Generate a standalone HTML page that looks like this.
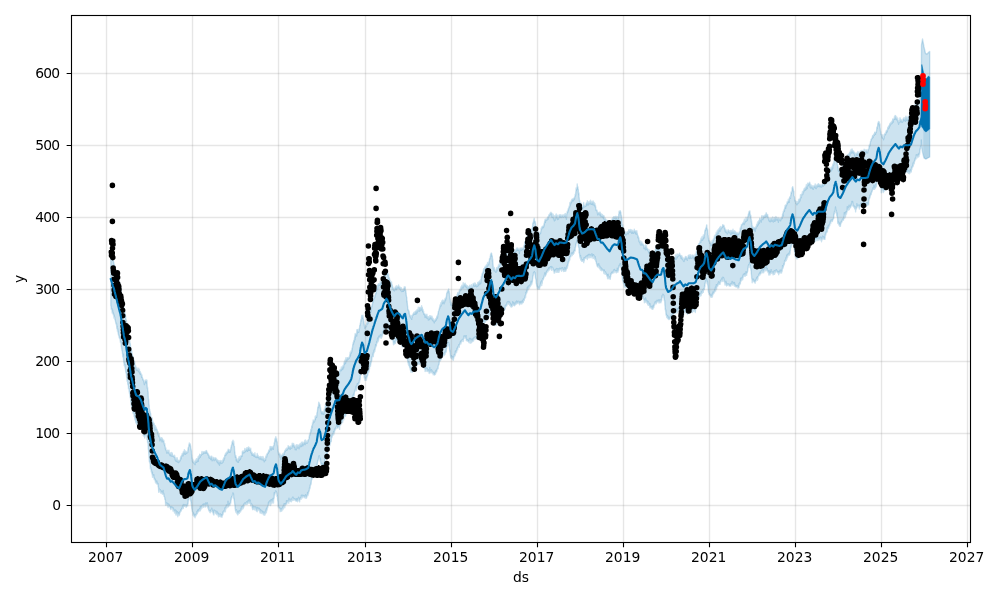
<!DOCTYPE html>
<html><head><meta charset="utf-8"><title>Forecast</title>
<style>
html,body{margin:0;padding:0;background:#fff}
svg{display:block}
text{font-family:"DejaVu Sans","Liberation Sans",sans-serif;font-size:13.89px;fill:#000}
</style></head><body>
<svg width="1000" height="600" viewBox="0 0 1000 600">
<rect width="1000" height="600" fill="#fff"/>
<defs><clipPath id="c"><rect x="71.5" y="15.5" width="899.0" height="527.0"/></clipPath></defs>
<g clip-path="url(#c)">
<path d="M110.8,252.5 111.0,252.8 111.2,254.0 111.3,255.3 111.5,255.3 111.7,256.5 111.9,255.8 112.0,254.9 112.2,257.5 112.4,258.2 112.6,257.5 112.7,258.2 112.9,259.0 113.1,260.8 113.3,260.3 113.5,260.0 113.6,262.9 113.8,262.4 114.0,264.6 114.2,264.6 114.3,265.9 114.5,264.7 114.7,266.6 114.9,265.5 115.0,266.3 115.2,267.4 115.4,270.8 115.6,269.2 115.8,269.3 115.9,269.8 116.1,272.4 116.3,271.9 116.5,273.2 116.6,273.7 116.8,272.2 117.0,275.0 117.2,274.9 117.3,274.5 117.5,277.0 117.7,277.1 117.9,277.6 118.1,278.4 118.2,280.6 118.4,279.9 118.6,279.1 118.8,283.2 118.9,281.1 119.1,282.7 119.3,284.2 119.5,281.7 119.6,283.8 119.8,286.7 120.0,285.8 120.2,285.9 120.4,287.4 120.5,287.1 120.7,289.1 120.9,289.4 121.1,289.6 121.2,293.2 121.4,293.3 121.6,295.1 121.8,295.6 121.9,298.2 122.1,298.6 122.3,299.3 122.5,299.2 122.7,300.0 122.8,303.9 123.0,304.4 123.2,303.8 123.4,307.9 123.5,307.2 123.7,307.9 123.9,307.4 124.1,309.0 124.2,310.8 124.4,311.5 124.6,312.0 124.8,310.5 124.9,313.4 125.1,314.0 125.3,314.1 125.5,315.6 125.7,316.8 125.8,319.0 126.0,319.0 126.2,320.6 126.4,320.0 126.5,321.8 126.7,323.8 126.9,324.2 127.1,326.5 127.2,326.1 127.4,328.6 127.6,328.9 127.8,331.9 128.0,330.9 128.1,334.1 128.3,335.4 128.5,334.3 128.7,335.8 128.8,335.5 129.0,333.9 129.2,338.6 129.4,339.5 129.5,339.6 129.7,340.4 129.9,342.3 130.1,343.4 130.3,343.5 130.4,344.8 130.6,347.7 130.8,347.7 131.0,348.7 131.1,350.8 131.3,350.0 131.5,352.1 131.7,350.7 131.8,352.3 132.0,353.1 132.2,354.6 132.4,354.8 132.6,357.7 132.7,357.4 132.9,356.4 133.1,360.0 133.3,357.3 133.4,361.0 133.6,358.9 133.8,361.3 134.0,360.1 134.1,361.5 134.3,364.1 134.5,361.5 134.7,362.0 134.8,364.3 135.0,365.2 135.2,365.7 135.4,367.3 135.6,365.6 135.7,368.1 135.9,368.2 136.1,369.5 136.3,369.4 136.4,370.3 136.6,367.4 136.8,369.1 137.0,367.9 137.1,369.1 137.3,370.0 137.5,369.7 137.7,370.1 137.9,369.5 138.0,370.1 138.2,370.1 138.4,371.5 138.6,371.0 138.7,368.3 138.9,371.0 139.1,371.7 139.3,370.4 139.4,369.4 139.6,373.0 139.8,371.9 140.0,372.6 140.2,374.2 140.3,371.7 140.5,372.8 140.7,373.0 140.9,374.3 141.0,373.3 141.2,375.0 141.4,375.0 141.6,376.7 141.7,377.3 141.9,374.9 142.1,377.5 142.3,377.1 142.5,378.0 142.6,379.0 142.8,379.6 143.0,378.8 143.2,380.4 143.3,380.6 143.5,380.8 143.7,379.9 143.9,380.9 144.0,381.7 144.2,383.2 144.4,384.6 144.6,382.3 144.7,381.8 144.9,382.7 145.1,381.6 145.3,380.9 145.5,380.5 145.6,380.2 145.8,381.9 146.0,379.8 146.2,383.1 146.3,380.8 146.5,381.3 146.7,381.0 146.9,380.2 147.0,382.1 147.2,386.6 147.4,388.6 147.6,387.2 147.8,390.7 147.9,391.0 148.1,391.8 148.3,396.9 148.5,399.7 148.6,399.2 148.8,401.7 149.0,404.3 149.2,405.5 149.3,407.9 149.5,410.1 149.7,409.5 149.9,411.3 150.1,413.0 150.2,411.4 150.4,413.0 150.6,413.3 150.8,415.8 150.9,416.4 151.1,417.6 151.3,418.4 151.5,418.1 151.6,419.9 151.8,419.0 152.0,419.4 152.2,417.9 152.4,422.2 152.5,420.0 152.7,421.6 152.9,421.9 153.1,424.0 153.2,423.2 153.4,422.3 153.6,423.6 153.8,423.9 153.9,424.7 154.1,423.4 154.3,425.1 154.5,428.0 154.7,426.6 154.8,428.4 155.0,430.2 155.2,427.4 155.4,425.6 155.5,427.4 155.7,429.2 155.9,429.3 156.1,427.2 156.2,428.7 156.4,429.1 156.6,429.6 156.8,429.8 156.9,429.3 157.1,430.0 157.3,430.8 157.5,432.8 157.7,431.5 157.8,433.3 158.0,431.8 158.2,435.0 158.4,434.1 158.5,434.5 158.7,436.5 158.9,433.4 159.1,434.2 159.2,436.9 159.4,436.0 159.6,436.9 159.8,440.9 160.0,437.9 160.1,438.4 160.3,438.3 160.5,439.8 160.7,439.0 160.8,439.0 161.0,437.6 161.2,438.7 161.4,439.3 161.5,437.6 161.7,440.2 161.9,440.1 162.1,441.9 162.3,438.2 162.4,439.0 162.6,439.2 162.8,439.6 163.0,440.4 163.1,440.4 163.3,441.1 163.5,441.2 163.7,441.4 163.8,440.3 164.0,442.1 164.2,443.4 164.4,444.6 164.6,445.3 164.7,443.4 164.9,445.3 165.1,446.4 165.3,447.5 165.4,449.0 165.6,448.5 165.8,448.0 166.0,450.0 166.1,450.2 166.3,450.6 166.5,450.7 166.7,453.0 166.8,451.9 167.0,453.0 167.2,451.1 167.4,452.9 167.6,451.4 167.7,450.2 167.9,452.3 168.1,452.6 168.3,451.6 168.4,451.8 168.6,453.0 168.8,451.6 169.0,450.1 169.1,453.0 169.3,453.2 169.5,454.5 169.7,453.2 169.9,455.3 170.0,455.4 170.2,452.9 170.4,455.7 170.6,453.7 170.7,453.2 170.9,454.6 171.1,454.2 171.3,452.5 171.4,455.0 171.6,455.4 171.8,456.2 172.0,454.5 172.2,453.0 172.3,453.8 172.5,456.1 172.7,456.2 172.9,456.0 173.0,455.3 173.2,456.1 173.4,455.8 173.6,455.9 173.7,456.8 173.9,456.6 174.1,456.6 174.3,457.1 174.5,456.6 174.6,455.3 174.8,457.0 175.0,457.8 175.2,460.0 175.3,457.8 175.5,460.7 175.7,460.3 175.9,457.9 176.0,458.3 176.2,459.5 176.4,461.5 176.6,460.2 176.8,460.7 176.9,459.3 177.1,457.6 177.3,460.1 177.5,461.4 177.6,462.0 177.8,460.8 178.0,461.1 178.2,462.3 178.3,461.0 178.5,462.6 178.7,460.2 178.9,460.3 179.0,460.5 179.2,461.9 179.4,460.4 179.6,460.7 179.8,460.6 179.9,460.1 180.1,460.8 180.3,460.5 180.5,457.5 180.6,458.2 180.8,457.4 181.0,456.1 181.2,458.9 181.3,457.4 181.5,455.9 181.7,455.3 181.9,455.7 182.1,453.7 182.2,454.4 182.4,455.9 182.6,455.3 182.8,453.1 182.9,453.3 183.1,455.8 183.3,451.8 183.5,452.5 183.6,451.4 183.8,453.2 184.0,452.9 184.2,453.8 184.4,449.6 184.5,452.7 184.7,450.7 184.9,453.2 185.1,452.3 185.2,454.4 185.4,452.9 185.6,451.3 185.8,453.8 185.9,451.1 186.1,452.0 186.3,453.5 186.5,452.7 186.7,452.6 186.8,452.0 187.0,452.4 187.2,452.7 187.4,452.0 187.5,452.7 187.7,452.4 187.9,450.0 188.1,448.0 188.2,449.9 188.4,447.2 188.6,447.1 188.8,447.0 188.9,444.5 189.1,445.6 189.3,442.9 189.5,445.1 189.7,443.4 189.8,443.6 190.0,444.7 190.2,444.0 190.4,445.7 190.5,445.6 190.7,447.2 190.9,449.2 191.1,448.9 191.2,450.2 191.4,450.7 191.6,454.5 191.8,455.1 192.0,458.7 192.1,457.3 192.3,460.0 192.5,461.6 192.7,460.2 192.8,459.1 193.0,462.4 193.2,462.2 193.4,462.1 193.5,462.8 193.7,461.3 193.9,462.9 194.1,463.1 194.3,461.9 194.4,463.7 194.6,462.6 194.8,464.0 195.0,464.1 195.1,464.6 195.3,460.1 195.5,462.4 195.7,461.5 195.8,461.6 196.0,461.2 196.2,461.1 196.4,458.8 196.6,461.9 196.7,462.3 196.9,461.5 197.1,461.6 197.3,459.0 197.4,458.6 197.6,460.4 197.8,460.6 198.0,459.1 198.1,456.8 198.3,461.3 198.5,457.2 198.7,458.8 198.8,456.0 199.0,458.2 199.2,457.0 199.4,458.1 199.6,457.2 199.7,454.2 199.9,454.6 200.1,455.7 200.3,456.0 200.4,457.1 200.6,455.2 200.8,454.6 201.0,454.5 201.1,454.4 201.3,455.4 201.5,454.1 201.7,453.9 201.9,452.2 202.0,451.4 202.2,453.6 202.4,454.2 202.6,453.2 202.7,453.7 202.9,453.7 203.1,452.8 203.3,453.8 203.4,451.8 203.6,452.5 203.8,452.0 204.0,452.4 204.2,452.9 204.3,453.1 204.5,452.1 204.7,452.4 204.9,451.4 205.0,451.6 205.2,453.0 205.4,451.3 205.6,452.8 205.7,451.8 205.9,451.4 206.1,453.3 206.3,450.7 206.5,450.6 206.6,450.9 206.8,451.6 207.0,451.9 207.2,453.0 207.3,452.6 207.5,453.3 207.7,453.0 207.9,454.9 208.0,453.6 208.2,454.1 208.4,454.8 208.6,455.5 208.8,454.8 208.9,457.7 209.1,455.6 209.3,456.2 209.5,456.5 209.6,456.7 209.8,458.3 210.0,458.2 210.2,457.4 210.3,457.5 210.5,457.6 210.7,459.5 210.9,457.0 211.0,456.2 211.2,456.3 211.4,457.1 211.6,459.0 211.8,456.3 211.9,457.7 212.1,460.7 212.3,457.6 212.5,459.9 212.6,459.9 212.8,459.4 213.0,457.4 213.2,459.5 213.3,459.0 213.5,457.5 213.7,457.8 213.9,459.6 214.1,459.6 214.2,460.7 214.4,459.9 214.6,458.5 214.8,458.5 214.9,458.7 215.1,457.6 215.3,459.7 215.5,459.0 215.6,458.2 215.8,458.5 216.0,458.1 216.2,459.0 216.4,460.0 216.5,459.3 216.7,461.0 216.9,461.9 217.1,459.4 217.2,460.3 217.4,460.0 217.6,462.5 217.8,461.1 217.9,461.5 218.1,462.0 218.3,463.7 218.5,461.7 218.7,460.4 218.8,461.1 219.0,462.4 219.2,461.9 219.4,461.2 219.5,465.3 219.7,462.4 219.9,461.7 220.1,461.6 220.2,460.5 220.4,461.3 220.6,462.3 220.8,462.4 220.9,461.9 221.1,463.5 221.3,463.0 221.5,462.0 221.7,460.8 221.8,463.3 222.0,463.3 222.2,462.9 222.4,461.1 222.5,462.2 222.7,460.0 222.9,462.3 223.1,460.9 223.2,460.4 223.4,458.8 223.6,458.0 223.8,460.5 224.0,459.4 224.1,457.5 224.3,458.2 224.5,458.7 224.7,455.3 224.8,455.5 225.0,455.0 225.2,455.7 225.4,453.7 225.5,454.9 225.7,453.1 225.9,455.1 226.1,454.8 226.3,453.3 226.4,454.0 226.6,452.2 226.8,452.4 227.0,453.5 227.1,452.1 227.3,452.5 227.5,451.0 227.7,452.7 227.8,452.4 228.0,450.4 228.2,449.2 228.4,449.4 228.6,451.5 228.7,451.2 228.9,449.6 229.1,451.5 229.3,452.3 229.4,450.9 229.6,450.3 229.8,451.6 230.0,452.4 230.1,452.0 230.3,449.4 230.5,450.9 230.7,449.9 230.8,448.5 231.0,447.1 231.2,447.2 231.4,445.2 231.6,445.8 231.7,444.5 231.9,444.8 232.1,441.8 232.3,442.7 232.4,443.0 232.6,442.1 232.8,441.4 233.0,440.1 233.1,443.6 233.3,443.8 233.5,443.8 233.7,441.3 233.9,443.9 234.0,445.9 234.2,446.1 234.4,446.1 234.6,450.4 234.7,452.1 234.9,451.9 235.1,454.4 235.3,455.1 235.4,457.2 235.6,455.2 235.8,455.7 236.0,457.3 236.2,457.4 236.3,460.8 236.5,458.0 236.7,459.2 236.9,458.8 237.0,458.8 237.2,460.2 237.4,462.0 237.6,459.9 237.7,461.3 237.9,460.6 238.1,460.7 238.3,460.2 238.5,462.2 238.6,457.9 238.8,458.8 239.0,457.6 239.2,456.4 239.3,458.4 239.5,460.3 239.7,459.1 239.9,459.2 240.0,458.2 240.2,457.3 240.4,459.4 240.6,456.4 240.8,458.2 240.9,455.8 241.1,456.0 241.3,456.0 241.5,455.4 241.6,455.6 241.8,455.4 242.0,456.4 242.2,454.2 242.3,451.7 242.5,451.3 242.7,451.7 242.9,452.2 243.0,453.5 243.2,450.8 243.4,452.3 243.6,452.2 243.8,452.3 243.9,451.7 244.1,452.2 244.3,451.6 244.5,452.6 244.6,451.7 244.8,448.5 245.0,451.0 245.2,451.1 245.3,450.0 245.5,449.7 245.7,451.6 245.9,450.4 246.1,449.0 246.2,449.6 246.4,449.7 246.6,447.9 246.8,450.4 246.9,449.4 247.1,450.0 247.3,447.6 247.5,451.4 247.6,449.8 247.8,449.6 248.0,448.1 248.2,448.1 248.4,447.0 248.5,450.4 248.7,447.6 248.9,448.7 249.1,449.0 249.2,447.5 249.4,449.1 249.6,450.3 249.8,448.6 249.9,450.3 250.1,449.7 250.3,448.9 250.5,449.4 250.7,448.3 250.8,450.7 251.0,452.6 251.2,452.1 251.4,452.7 251.5,453.5 251.7,451.9 251.9,453.5 252.1,455.4 252.2,452.7 252.4,454.0 252.6,453.8 252.8,454.4 252.9,454.1 253.1,455.2 253.3,453.8 253.5,454.6 253.7,454.5 253.8,454.4 254.0,456.4 254.2,454.8 254.4,454.8 254.5,454.2 254.7,456.0 254.9,452.7 255.1,454.7 255.2,456.4 255.4,457.2 255.6,455.8 255.8,455.8 256.0,456.7 256.1,456.0 256.3,457.1 256.5,455.9 256.7,457.6 256.8,456.7 257.0,455.4 257.2,453.5 257.4,457.5 257.5,456.7 257.7,457.1 257.9,455.1 258.1,457.2 258.3,456.4 258.4,456.0 258.6,457.2 258.8,457.3 259.0,456.9 259.1,458.9 259.3,458.3 259.5,457.2 259.7,456.7 259.8,457.2 260.0,459.1 260.2,457.8 260.4,456.4 260.6,456.9 260.7,457.7 260.9,458.8 261.1,457.2 261.3,458.7 261.4,459.6 261.6,459.3 261.8,456.8 262.0,458.4 262.1,457.5 262.3,459.5 262.5,458.0 262.7,459.9 262.9,459.5 263.0,456.5 263.2,458.5 263.4,460.1 263.6,459.7 263.7,459.3 263.9,458.3 264.1,460.3 264.3,461.8 264.4,460.2 264.6,459.9 264.8,459.9 265.0,458.6 265.1,459.8 265.3,458.8 265.5,460.5 265.7,457.8 265.9,455.9 266.0,456.9 266.2,457.0 266.4,456.6 266.6,454.3 266.7,456.9 266.9,455.5 267.1,454.4 267.3,453.6 267.4,454.5 267.6,453.2 267.8,453.4 268.0,452.5 268.2,452.3 268.3,453.2 268.5,451.6 268.7,450.3 268.9,452.1 269.0,451.0 269.2,449.7 269.4,451.4 269.6,449.7 269.7,450.8 269.9,448.0 270.1,446.4 270.3,446.6 270.5,449.1 270.6,447.9 270.8,448.6 271.0,448.5 271.2,446.7 271.3,450.0 271.5,447.1 271.7,448.3 271.9,446.6 272.0,447.9 272.2,448.8 272.4,447.5 272.6,446.8 272.8,447.4 272.9,446.7 273.1,447.7 273.3,449.4 273.5,445.7 273.6,445.8 273.8,445.8 274.0,444.9 274.2,442.8 274.3,443.5 274.5,442.8 274.7,441.2 274.9,439.1 275.0,441.6 275.2,438.1 275.4,439.8 275.6,439.8 275.8,436.6 275.9,437.7 276.1,439.5 276.3,439.2 276.5,438.5 276.6,439.0 276.8,441.7 277.0,441.5 277.2,442.0 277.3,445.1 277.5,445.5 277.7,447.6 277.9,449.7 278.1,451.3 278.2,452.0 278.4,452.8 278.6,454.2 278.8,454.7 278.9,453.2 279.1,454.5 279.3,454.0 279.5,453.9 279.6,454.9 279.8,453.2 280.0,457.1 280.2,455.5 280.4,457.0 280.5,454.8 280.7,455.3 280.9,459.3 281.1,458.0 281.2,455.9 281.4,455.5 281.6,455.4 281.8,456.1 281.9,455.3 282.1,454.9 282.3,455.5 282.5,454.0 282.7,457.6 282.8,454.1 283.0,455.8 283.2,453.3 283.4,454.4 283.5,454.9 283.7,453.2 283.9,454.4 284.1,454.1 284.2,454.6 284.4,452.5 284.6,451.6 284.8,450.7 284.9,451.8 285.1,450.2 285.3,451.1 285.5,450.9 285.7,449.9 285.8,449.0 286.0,450.4 286.2,450.0 286.4,449.7 286.5,449.3 286.7,450.3 286.9,447.9 287.1,449.4 287.2,448.3 287.4,449.7 287.6,448.2 287.8,448.0 288.0,448.8 288.1,445.8 288.3,447.6 288.5,445.9 288.7,446.7 288.8,448.4 289.0,447.9 289.2,446.9 289.4,447.2 289.5,447.1 289.7,447.4 289.9,449.1 290.1,447.1 290.3,449.3 290.4,446.3 290.6,447.4 290.8,447.3 291.0,446.7 291.1,446.0 291.3,447.9 291.5,448.2 291.7,447.2 291.8,448.1 292.0,446.5 292.2,443.3 292.4,446.1 292.6,443.8 292.7,446.0 292.9,444.3 293.1,445.2 293.3,445.1 293.4,444.6 293.6,443.5 293.8,445.5 294.0,445.8 294.1,447.2 294.3,445.7 294.5,446.8 294.7,445.8 294.9,447.0 295.0,445.1 295.2,449.6 295.4,447.8 295.6,446.6 295.7,448.2 295.9,448.9 296.1,448.5 296.3,449.8 296.4,447.8 296.6,444.8 296.8,446.0 297.0,448.3 297.1,447.8 297.3,446.9 297.5,445.0 297.7,446.8 297.9,446.6 298.0,444.9 298.2,444.9 298.4,446.4 298.6,447.3 298.7,447.8 298.9,446.9 299.1,448.7 299.3,445.3 299.4,446.9 299.6,445.7 299.8,444.0 300.0,444.5 300.2,446.9 300.3,444.3 300.5,443.6 300.7,445.5 300.9,445.5 301.0,444.2 301.2,445.6 301.4,442.1 301.6,446.5 301.7,444.9 301.9,443.9 302.1,443.8 302.3,443.3 302.5,443.1 302.6,443.6 302.8,442.0 303.0,445.8 303.2,443.2 303.3,444.0 303.5,443.0 303.7,442.9 303.9,444.2 304.0,443.8 304.2,442.1 304.4,442.6 304.6,443.8 304.8,440.6 304.9,440.3 305.1,444.6 305.3,442.5 305.5,439.9 305.6,441.9 305.8,442.5 306.0,442.9 306.2,443.1 306.3,442.6 306.5,442.9 306.7,441.3 306.9,442.5 307.0,442.5 307.2,443.2 307.4,441.8 307.6,442.7 307.8,441.7 307.9,440.2 308.1,440.9 308.3,440.5 308.5,439.9 308.6,439.5 308.8,439.0 309.0,438.4 309.2,436.5 309.3,437.8 309.5,434.3 309.7,435.0 309.9,435.2 310.1,434.2 310.2,433.7 310.4,432.0 310.6,432.3 310.8,429.4 310.9,430.9 311.1,431.9 311.3,429.5 311.5,430.4 311.6,427.6 311.8,425.8 312.0,425.7 312.2,427.5 312.4,426.2 312.5,422.8 312.7,423.9 312.9,423.7 313.1,422.0 313.2,419.9 313.4,420.9 313.6,421.9 313.8,421.3 313.9,420.7 314.1,421.7 314.3,421.9 314.5,420.3 314.7,421.1 314.8,419.7 315.0,419.2 315.2,416.2 315.4,419.5 315.5,418.2 315.7,417.9 315.9,416.7 316.1,415.6 316.2,416.9 316.4,416.8 316.6,417.3 316.8,416.0 316.9,413.1 317.1,412.4 317.3,412.3 317.5,410.4 317.7,408.6 317.8,407.1 318.0,407.6 318.2,406.5 318.4,407.5 318.5,406.0 318.7,402.1 318.9,405.7 319.1,403.1 319.2,402.9 319.4,404.0 319.6,405.0 319.8,404.5 320.0,404.9 320.1,405.4 320.3,408.2 320.5,407.4 320.7,409.5 320.8,410.3 321.0,410.7 321.2,411.4 321.4,411.7 321.5,413.7 321.7,412.4 321.9,412.1 322.1,412.0 322.3,411.6 322.4,413.2 322.6,413.1 322.8,411.9 323.0,414.3 323.1,412.3 323.3,413.1 323.5,412.8 323.7,414.2 323.8,412.9 324.0,411.3 324.2,409.7 324.4,409.0 324.6,409.6 324.7,409.1 324.9,409.3 325.1,407.3 325.3,407.4 325.4,405.8 325.6,403.9 325.8,405.4 326.0,406.4 326.1,405.1 326.3,405.2 326.5,404.2 326.7,400.7 326.9,401.2 327.0,402.6 327.2,399.4 327.4,398.0 327.6,399.2 327.7,398.9 327.9,397.8 328.1,396.4 328.3,395.4 328.4,394.1 328.6,393.4 328.8,392.7 329.0,391.8 329.1,392.0 329.3,393.9 329.5,391.7 329.7,390.7 329.9,390.9 330.0,388.9 330.2,389.9 330.4,390.0 330.6,386.7 330.7,387.1 330.9,387.1 331.1,385.7 331.3,385.0 331.4,385.3 331.6,388.0 331.8,385.5 332.0,384.7 332.2,384.7 332.3,382.9 332.5,381.2 332.7,382.7 332.9,382.9 333.0,378.8 333.2,381.2 333.4,381.6 333.6,379.4 333.7,378.7 333.9,379.5 334.1,377.3 334.3,378.3 334.5,378.3 334.6,376.6 334.8,375.4 335.0,376.5 335.2,374.9 335.3,374.9 335.5,371.1 335.7,374.7 335.9,372.1 336.0,373.8 336.2,373.9 336.4,372.9 336.6,372.7 336.8,372.3 336.9,373.4 337.1,374.4 337.3,374.4 337.5,373.2 337.6,373.1 337.8,372.2 338.0,373.3 338.2,372.5 338.3,371.9 338.5,373.5 338.7,375.3 338.9,374.9 339.0,375.2 339.2,371.7 339.4,374.1 339.6,371.2 339.8,371.5 339.9,369.7 340.1,370.0 340.3,370.8 340.5,370.4 340.6,369.6 340.8,369.0 341.0,369.7 341.2,369.0 341.3,366.9 341.5,370.6 341.7,368.1 341.9,369.3 342.1,367.9 342.2,367.0 342.4,367.8 342.6,366.7 342.8,369.3 342.9,365.7 343.1,367.1 343.3,365.2 343.5,365.2 343.6,367.9 343.8,365.3 344.0,363.7 344.2,361.7 344.4,362.8 344.5,362.5 344.7,364.2 344.9,360.7 345.1,360.0 345.2,361.8 345.4,361.8 345.6,363.2 345.8,360.0 345.9,357.7 346.1,359.7 346.3,358.8 346.5,359.4 346.7,360.9 346.8,358.0 347.0,360.7 347.2,359.3 347.4,358.5 347.5,357.6 347.7,357.9 347.9,357.7 348.1,358.8 348.2,359.2 348.4,357.4 348.6,358.0 348.8,358.5 349.0,358.1 349.1,356.9 349.3,358.2 349.5,357.3 349.7,357.3 349.8,354.9 350.0,354.3 350.2,352.1 350.4,355.9 350.5,354.6 350.7,352.5 350.9,353.5 351.1,353.3 351.2,350.6 351.4,352.2 351.6,352.3 351.8,351.6 352.0,348.8 352.1,348.0 352.3,349.0 352.5,347.7 352.7,345.1 352.8,344.2 353.0,344.8 353.2,342.5 353.4,341.9 353.5,343.9 353.7,341.6 353.9,340.1 354.1,340.6 354.3,341.7 354.4,339.1 354.6,337.4 354.8,336.0 355.0,339.8 355.1,333.8 355.3,337.6 355.5,334.8 355.7,334.0 355.8,333.8 356.0,334.3 356.2,335.3 356.4,333.0 356.6,334.2 356.7,336.0 356.9,329.6 357.1,331.7 357.3,330.2 357.4,333.0 357.6,330.0 357.8,329.6 358.0,329.4 358.1,330.9 358.3,332.0 358.5,330.4 358.7,332.4 358.9,331.4 359.0,329.0 359.2,329.9 359.4,328.5 359.6,328.1 359.7,325.4 359.9,325.2 360.1,325.6 360.3,323.0 360.4,324.1 360.6,322.4 360.8,319.7 361.0,321.5 361.1,319.7 361.3,320.3 361.5,317.9 361.7,315.5 361.9,317.5 362.0,315.7 362.2,317.2 362.4,317.9 362.6,318.4 362.7,315.7 362.9,315.1 363.1,317.7 363.3,319.4 363.4,318.9 363.6,321.3 363.8,321.2 364.0,323.0 364.2,324.2 364.3,324.8 364.5,326.5 364.7,326.6 364.9,328.3 365.0,326.7 365.2,327.6 365.4,326.0 365.6,326.8 365.7,325.5 365.9,324.9 366.1,326.9 366.3,326.1 366.5,326.1 366.6,324.0 366.8,322.7 367.0,323.1 367.2,323.9 367.3,321.2 367.5,324.0 367.7,319.9 367.9,321.7 368.0,323.5 368.2,316.7 368.4,317.3 368.6,319.7 368.8,317.6 368.9,317.5 369.1,316.5 369.3,317.7 369.5,316.1 369.6,314.0 369.8,313.6 370.0,311.8 370.2,312.4 370.3,309.1 370.5,311.9 370.7,310.1 370.9,311.9 371.0,310.4 371.2,306.7 371.4,308.6 371.6,306.2 371.8,306.2 371.9,306.6 372.1,305.1 372.3,304.6 372.5,304.0 372.6,302.0 372.8,301.6 373.0,302.4 373.2,302.3 373.3,300.3 373.5,300.2 373.7,298.4 373.9,295.9 374.1,297.5 374.2,297.9 374.4,297.5 374.6,297.7 374.8,297.2 374.9,296.8 375.1,295.5 375.3,295.0 375.5,293.1 375.6,293.9 375.8,293.2 376.0,293.8 376.2,290.0 376.4,290.8 376.5,288.8 376.7,289.5 376.9,288.1 377.1,289.6 377.2,288.0 377.4,285.2 377.6,289.2 377.8,285.9 377.9,284.8 378.1,285.8 378.3,284.9 378.5,283.8 378.7,285.5 378.8,283.8 379.0,285.3 379.2,285.1 379.4,284.9 379.5,284.2 379.7,283.8 379.9,283.3 380.1,285.4 380.2,281.3 380.4,282.2 380.6,282.6 380.8,283.7 381.0,283.3 381.1,282.4 381.3,282.4 381.5,284.7 381.7,281.7 381.8,279.0 382.0,284.5 382.2,281.0 382.4,281.5 382.5,281.4 382.7,279.1 382.9,281.5 383.1,279.3 383.2,277.1 383.4,278.5 383.6,278.1 383.8,276.9 384.0,277.2 384.1,274.6 384.3,277.2 384.5,274.8 384.7,277.0 384.8,274.5 385.0,275.1 385.2,277.8 385.4,274.4 385.5,275.4 385.7,274.4 385.9,271.6 386.1,274.1 386.3,273.5 386.4,270.4 386.6,272.2 386.8,270.7 387.0,272.4 387.1,274.1 387.3,273.3 387.5,272.3 387.7,273.1 387.8,274.7 388.0,275.1 388.2,275.8 388.4,276.8 388.6,274.3 388.7,277.0 388.9,278.8 389.1,278.5 389.3,277.6 389.4,278.2 389.6,279.6 389.8,280.7 390.0,280.4 390.1,282.9 390.3,282.9 390.5,280.9 390.7,282.9 390.9,282.4 391.0,281.9 391.2,283.0 391.4,284.1 391.6,282.0 391.7,284.2 391.9,285.7 392.1,284.8 392.3,285.5 392.4,287.3 392.6,286.5 392.8,287.1 393.0,289.5 393.1,287.7 393.3,288.2 393.5,288.7 393.7,290.4 393.9,289.2 394.0,289.2 394.2,289.3 394.4,290.9 394.6,288.6 394.7,290.5 394.9,289.1 395.1,287.1 395.3,289.2 395.4,288.7 395.6,286.6 395.8,288.1 396.0,287.8 396.2,287.0 396.3,285.8 396.5,289.6 396.7,287.8 396.9,288.0 397.0,287.9 397.2,287.6 397.4,287.5 397.6,286.2 397.7,287.7 397.9,286.5 398.1,286.3 398.3,287.7 398.5,286.7 398.6,285.0 398.8,286.6 399.0,287.8 399.2,287.2 399.3,288.4 399.5,287.2 399.7,286.8 399.9,289.1 400.0,288.6 400.2,287.3 400.4,289.5 400.6,288.9 400.8,290.6 400.9,290.6 401.1,290.5 401.3,287.7 401.5,290.9 401.6,291.2 401.8,291.4 402.0,291.1 402.2,290.3 402.3,291.0 402.5,289.1 402.7,291.3 402.9,290.0 403.0,290.7 403.2,289.7 403.4,291.4 403.6,289.3 403.8,288.5 403.9,288.4 404.1,290.4 404.3,286.8 404.5,288.1 404.6,288.0 404.8,287.7 405.0,287.5 405.2,286.9 405.3,289.9 405.5,290.6 405.7,290.3 405.9,291.5 406.1,293.1 406.2,294.4 406.4,296.1 406.6,297.1 406.8,297.5 406.9,301.9 407.1,300.8 407.3,303.4 407.5,306.1 407.6,305.7 407.8,309.3 408.0,310.2 408.2,310.2 408.4,309.7 408.5,310.1 408.7,310.9 408.9,310.7 409.1,313.8 409.2,311.4 409.4,314.4 409.6,314.4 409.8,314.9 409.9,316.4 410.1,316.9 410.3,316.8 410.5,316.0 410.7,315.7 410.8,316.0 411.0,318.1 411.2,318.2 411.4,318.5 411.5,316.7 411.7,319.4 411.9,315.5 412.1,317.2 412.2,317.4 412.4,315.9 412.6,314.8 412.8,315.4 413.0,314.3 413.1,315.1 413.3,313.5 413.5,313.3 413.7,314.5 413.8,312.5 414.0,313.7 414.2,313.5 414.4,314.4 414.5,313.4 414.7,311.9 414.9,314.1 415.1,311.6 415.2,311.6 415.4,311.5 415.6,314.2 415.8,311.7 416.0,310.7 416.1,312.2 416.3,311.1 416.5,313.8 416.7,310.2 416.8,311.6 417.0,309.7 417.2,312.7 417.4,309.7 417.5,310.6 417.7,309.3 417.9,311.2 418.1,310.7 418.3,307.3 418.4,310.7 418.6,310.5 418.8,309.9 419.0,310.7 419.1,308.0 419.3,307.4 419.5,310.1 419.7,311.2 419.8,307.8 420.0,307.7 420.2,308.0 420.4,307.5 420.6,309.8 420.7,308.9 420.9,310.2 421.1,310.2 421.3,307.3 421.4,309.2 421.6,305.7 421.8,308.1 422.0,309.2 422.1,308.0 422.3,307.3 422.5,309.2 422.7,311.6 422.9,310.1 423.0,309.4 423.2,312.0 423.4,312.7 423.6,311.1 423.7,312.5 423.9,314.3 424.1,313.9 424.3,314.7 424.4,313.8 424.6,314.4 424.8,313.6 425.0,314.5 425.1,317.5 425.3,315.6 425.5,315.1 425.7,315.5 425.9,314.7 426.0,316.5 426.2,316.8 426.4,314.6 426.6,316.8 426.7,318.0 426.9,314.3 427.1,316.5 427.3,316.3 427.4,317.8 427.6,318.0 427.8,318.0 428.0,317.3 428.2,316.7 428.3,320.0 428.5,316.8 428.7,319.3 428.9,319.4 429.0,317.3 429.2,318.0 429.4,319.6 429.6,315.7 429.7,318.7 429.9,317.3 430.1,317.3 430.3,315.8 430.5,318.0 430.6,316.4 430.8,318.6 431.0,316.6 431.2,318.9 431.3,318.6 431.5,316.2 431.7,318.1 431.9,318.5 432.0,316.2 432.2,318.5 432.4,320.1 432.6,318.4 432.8,320.8 432.9,318.3 433.1,318.4 433.3,320.6 433.5,320.9 433.6,320.1 433.8,320.5 434.0,321.8 434.2,320.1 434.3,322.9 434.5,321.0 434.7,320.8 434.9,320.5 435.1,319.6 435.2,321.2 435.4,318.9 435.6,319.6 435.8,319.9 435.9,320.5 436.1,320.1 436.3,318.1 436.5,319.4 436.6,318.0 436.8,316.7 437.0,316.5 437.2,315.7 437.3,317.6 437.5,317.9 437.7,314.7 437.9,314.7 438.1,313.0 438.2,313.5 438.4,311.4 438.6,311.0 438.8,310.4 438.9,309.9 439.1,309.3 439.3,308.8 439.5,308.3 439.6,306.9 439.8,308.1 440.0,305.0 440.2,306.7 440.4,304.9 440.5,305.8 440.7,305.6 440.9,302.7 441.1,305.1 441.2,305.9 441.4,304.9 441.6,304.1 441.8,300.9 441.9,302.8 442.1,301.7 442.3,303.6 442.5,301.9 442.7,301.4 442.8,300.0 443.0,302.7 443.2,301.1 443.4,301.3 443.5,302.7 443.7,301.4 443.9,301.6 444.1,303.8 444.2,300.4 444.4,300.3 444.6,301.2 444.8,302.0 445.0,298.6 445.1,299.7 445.3,298.7 445.5,298.0 445.7,300.0 445.8,298.2 446.0,298.7 446.2,297.5 446.4,296.5 446.5,295.4 446.7,293.0 446.9,293.2 447.1,292.9 447.2,292.6 447.4,291.3 447.6,292.2 447.8,291.2 448.0,290.2 448.1,290.2 448.3,290.1 448.5,291.3 448.7,289.0 448.8,290.4 449.0,292.1 449.2,293.3 449.4,291.4 449.5,294.9 449.7,296.9 449.9,297.9 450.1,299.3 450.3,299.5 450.4,302.4 450.6,300.5 450.8,304.6 451.0,303.2 451.1,305.3 451.3,302.1 451.5,304.7 451.7,304.5 451.8,303.5 452.0,303.3 452.2,306.1 452.4,305.3 452.6,306.7 452.7,305.0 452.9,305.4 453.1,305.4 453.3,305.4 453.4,304.7 453.6,304.7 453.8,302.9 454.0,301.4 454.1,305.0 454.3,302.6 454.5,302.5 454.7,301.1 454.9,302.4 455.0,301.1 455.2,301.8 455.4,299.4 455.6,299.7 455.7,299.6 455.9,298.5 456.1,298.8 456.3,299.9 456.4,296.9 456.6,296.9 456.8,296.9 457.0,295.2 457.1,294.5 457.3,296.7 457.5,295.9 457.7,292.8 457.9,292.5 458.0,294.5 458.2,294.6 458.4,293.5 458.6,293.1 458.7,294.0 458.9,291.9 459.1,293.1 459.3,292.7 459.4,290.0 459.6,291.6 459.8,290.6 460.0,289.5 460.2,289.1 460.3,290.1 460.5,289.4 460.7,290.1 460.9,286.9 461.0,287.9 461.2,289.7 461.4,288.1 461.6,287.1 461.7,287.1 461.9,285.3 462.1,285.6 462.3,287.6 462.5,286.8 462.6,288.0 462.8,286.0 463.0,285.9 463.2,282.7 463.3,285.5 463.5,287.8 463.7,285.9 463.9,284.8 464.0,286.2 464.2,285.5 464.4,284.7 464.6,283.6 464.8,284.0 464.9,284.7 465.1,283.1 465.3,284.9 465.5,285.1 465.6,286.4 465.8,285.9 466.0,284.6 466.2,287.4 466.3,285.9 466.5,285.3 466.7,286.8 466.9,286.4 467.1,288.2 467.2,285.6 467.4,286.1 467.6,287.3 467.8,289.8 467.9,289.2 468.1,287.1 468.3,286.5 468.5,288.3 468.6,286.9 468.8,288.8 469.0,288.1 469.2,287.7 469.3,286.9 469.5,288.9 469.7,285.8 469.9,285.1 470.1,287.9 470.2,288.2 470.4,286.3 470.6,287.6 470.8,289.6 470.9,286.0 471.1,286.8 471.3,287.6 471.5,284.7 471.6,287.1 471.8,288.2 472.0,287.1 472.2,288.1 472.4,287.6 472.5,286.0 472.7,286.8 472.9,286.4 473.1,283.7 473.2,284.4 473.4,284.2 473.6,284.5 473.8,284.5 473.9,283.4 474.1,285.0 474.3,282.9 474.5,286.1 474.7,285.2 474.8,286.5 475.0,285.3 475.2,284.3 475.4,283.2 475.5,285.6 475.7,284.8 475.9,285.2 476.1,285.7 476.2,286.2 476.4,284.8 476.6,286.8 476.8,284.7 477.0,284.8 477.1,285.6 477.3,285.9 477.5,286.3 477.7,282.4 477.8,286.1 478.0,282.6 478.2,283.6 478.4,284.5 478.5,285.3 478.7,282.6 478.9,281.7 479.1,284.6 479.2,283.7 479.4,282.0 479.6,282.6 479.8,280.6 480.0,283.4 480.1,282.0 480.3,283.9 480.5,279.7 480.7,282.2 480.8,283.2 481.0,280.1 481.2,279.4 481.4,276.3 481.5,278.2 481.7,277.1 481.9,275.7 482.1,273.9 482.3,275.1 482.4,273.2 482.6,273.1 482.8,273.4 483.0,272.2 483.1,271.6 483.3,272.2 483.5,269.2 483.7,271.9 483.8,268.6 484.0,268.5 484.2,269.4 484.4,269.8 484.6,268.8 484.7,267.7 484.9,267.0 485.1,267.2 485.3,266.1 485.4,267.6 485.6,266.6 485.8,268.5 486.0,265.7 486.1,266.2 486.3,266.7 486.5,264.8 486.7,265.2 486.9,269.1 487.0,265.6 487.2,267.2 487.4,264.2 487.6,262.4 487.7,265.6 487.9,264.7 488.1,264.8 488.3,263.9 488.4,263.3 488.6,262.3 488.8,264.7 489.0,261.4 489.1,263.3 489.3,260.8 489.5,258.8 489.7,258.2 489.9,259.1 490.0,258.0 490.2,257.2 490.4,256.2 490.6,254.2 490.7,256.5 490.9,253.9 491.1,253.2 491.3,253.0 491.4,253.8 491.6,253.3 491.8,255.2 492.0,255.5 492.2,256.6 492.3,255.9 492.5,261.2 492.7,259.0 492.9,262.3 493.0,263.9 493.2,266.2 493.4,268.7 493.6,267.9 493.7,268.9 493.9,268.2 494.1,270.7 494.3,267.5 494.5,269.1 494.6,269.8 494.8,270.5 495.0,270.8 495.2,271.4 495.3,270.9 495.5,270.4 495.7,270.8 495.9,272.4 496.0,271.1 496.2,271.5 496.4,270.0 496.6,267.7 496.8,268.8 496.9,269.6 497.1,270.8 497.3,270.3 497.5,270.3 497.6,267.2 497.8,268.6 498.0,267.3 498.2,267.8 498.3,266.7 498.5,264.9 498.7,266.9 498.9,266.1 499.1,266.3 499.2,264.0 499.4,265.8 499.6,265.5 499.8,265.4 499.9,265.1 500.1,262.5 500.3,259.7 500.5,263.5 500.6,260.8 500.8,261.3 501.0,262.4 501.2,261.1 501.3,260.7 501.5,260.9 501.7,257.6 501.9,261.8 502.1,258.9 502.2,258.8 502.4,259.6 502.6,258.5 502.8,257.4 502.9,258.0 503.1,257.5 503.3,256.9 503.5,259.8 503.6,255.4 503.8,254.1 504.0,255.2 504.2,254.8 504.4,257.2 504.5,255.3 504.7,255.8 504.9,255.2 505.1,253.1 505.2,254.8 505.4,253.7 505.6,255.4 505.8,253.1 505.9,252.4 506.1,253.0 506.3,252.7 506.5,249.4 506.7,252.6 506.8,252.1 507.0,251.5 507.2,248.8 507.4,247.5 507.5,249.2 507.7,250.0 507.9,249.4 508.1,247.7 508.2,250.1 508.4,247.5 508.6,247.8 508.8,249.5 509.0,249.0 509.1,249.0 509.3,248.3 509.5,251.5 509.7,249.2 509.8,251.3 510.0,251.9 510.2,251.2 510.4,251.7 510.5,252.8 510.7,253.7 510.9,253.2 511.1,250.7 511.2,250.3 511.4,252.0 511.6,251.3 511.8,253.0 512.0,252.2 512.1,251.5 512.3,252.9 512.5,252.5 512.7,251.0 512.8,251.2 513.0,251.9 513.2,250.3 513.4,251.1 513.5,249.7 513.7,251.0 513.9,251.4 514.1,251.0 514.3,251.4 514.4,252.1 514.6,251.9 514.8,250.6 515.0,250.8 515.1,249.8 515.3,253.0 515.5,251.3 515.7,251.0 515.8,250.1 516.0,250.6 516.2,250.4 516.4,248.6 516.6,249.2 516.7,250.7 516.9,247.9 517.1,248.2 517.3,250.0 517.4,248.4 517.6,250.2 517.8,248.0 518.0,249.6 518.1,250.2 518.3,249.7 518.5,250.2 518.7,249.1 518.9,249.1 519.0,249.3 519.2,250.0 519.4,253.5 519.6,249.2 519.7,251.5 519.9,249.1 520.1,248.0 520.3,249.0 520.4,249.8 520.6,249.6 520.8,249.6 521.0,250.1 521.2,250.1 521.3,250.4 521.5,248.0 521.7,249.3 521.9,248.1 522.0,249.5 522.2,249.1 522.4,249.3 522.6,248.5 522.7,248.1 522.9,248.7 523.1,249.7 523.3,249.8 523.4,246.9 523.6,248.6 523.8,248.0 524.0,245.4 524.2,245.2 524.3,245.3 524.5,245.7 524.7,242.0 524.9,243.6 525.0,242.8 525.2,243.1 525.4,244.0 525.6,243.3 525.7,240.7 525.9,240.2 526.1,240.3 526.3,240.8 526.5,240.6 526.6,238.8 526.8,239.7 527.0,236.6 527.2,235.9 527.3,233.6 527.5,235.4 527.7,236.7 527.9,236.6 528.0,239.2 528.2,235.5 528.4,234.6 528.6,233.1 528.8,233.3 528.9,233.1 529.1,233.3 529.3,232.6 529.5,231.5 529.6,234.2 529.8,233.3 530.0,234.1 530.2,230.5 530.3,230.6 530.5,231.0 530.7,233.0 530.9,231.1 531.1,231.3 531.2,230.6 531.4,230.6 531.6,229.5 531.8,230.2 531.9,228.5 532.1,228.4 532.3,227.9 532.5,226.6 532.6,225.9 532.8,223.3 533.0,223.4 533.2,222.2 533.3,222.3 533.5,223.0 533.7,219.6 533.9,221.3 534.1,218.7 534.2,218.3 534.4,221.0 534.6,220.9 534.8,221.1 534.9,222.1 535.1,223.2 535.3,221.6 535.5,223.4 535.6,224.1 535.8,226.5 536.0,227.1 536.2,229.8 536.4,230.4 536.5,231.0 536.7,232.2 536.9,233.4 537.1,234.6 537.2,233.3 537.4,233.2 537.6,234.0 537.8,234.7 537.9,233.4 538.1,231.2 538.3,234.6 538.5,234.0 538.7,234.1 538.8,237.6 539.0,234.6 539.2,235.3 539.4,232.5 539.5,234.0 539.7,234.3 539.9,233.3 540.1,232.5 540.2,233.0 540.4,232.0 540.6,233.2 540.8,231.5 541.0,230.0 541.1,228.3 541.3,229.4 541.5,229.6 541.7,228.1 541.8,227.9 542.0,226.7 542.2,226.9 542.4,227.9 542.5,227.0 542.7,226.7 542.9,226.1 543.1,225.8 543.2,226.5 543.4,227.6 543.6,225.5 543.8,226.7 544.0,223.8 544.1,223.5 544.3,225.0 544.5,221.9 544.7,221.3 544.8,221.9 545.0,219.8 545.2,219.3 545.4,222.6 545.5,219.7 545.7,220.1 545.9,219.9 546.1,219.0 546.3,220.6 546.4,220.2 546.6,220.2 546.8,219.8 547.0,218.8 547.1,220.0 547.3,219.3 547.5,217.1 547.7,217.6 547.8,216.9 548.0,219.2 548.2,217.7 548.4,217.2 548.6,216.3 548.7,216.8 548.9,214.8 549.1,215.7 549.3,215.4 549.4,215.2 549.6,214.2 549.8,215.3 550.0,213.3 550.1,213.8 550.3,213.9 550.5,213.9 550.7,213.1 550.9,212.3 551.0,212.3 551.2,213.2 551.4,212.9 551.6,214.1 551.7,213.0 551.9,214.8 552.1,217.4 552.3,213.8 552.4,215.5 552.6,217.2 552.8,216.4 553.0,217.4 553.2,214.2 553.3,216.3 553.5,218.9 553.7,216.7 553.9,218.1 554.0,215.6 554.2,219.3 554.4,220.9 554.6,218.4 554.7,218.6 554.9,218.5 555.1,220.2 555.3,217.1 555.4,215.4 555.6,219.3 555.8,215.5 556.0,217.3 556.2,214.0 556.3,216.3 556.5,217.1 556.7,215.7 556.9,216.5 557.0,217.9 557.2,216.5 557.4,218.0 557.6,219.6 557.7,215.3 557.9,218.1 558.1,218.4 558.3,217.0 558.5,219.0 558.6,218.5 558.8,217.3 559.0,217.1 559.2,216.2 559.3,214.8 559.5,216.4 559.7,215.3 559.9,215.2 560.0,217.1 560.2,215.6 560.4,217.0 560.6,214.7 560.8,215.4 560.9,215.9 561.1,217.5 561.3,215.9 561.5,216.9 561.6,215.2 561.8,216.2 562.0,217.0 562.2,215.1 562.3,215.3 562.5,216.9 562.7,214.9 562.9,216.6 563.1,216.7 563.2,216.2 563.4,217.2 563.6,216.9 563.8,216.6 563.9,214.7 564.1,214.7 564.3,216.7 564.5,214.5 564.6,216.4 564.8,215.9 565.0,215.2 565.2,215.9 565.3,213.4 565.5,215.8 565.7,217.4 565.9,214.5 566.1,216.4 566.2,216.2 566.4,219.2 566.6,214.4 566.8,214.0 566.9,213.4 567.1,212.6 567.3,211.1 567.5,212.5 567.6,210.7 567.8,212.0 568.0,211.0 568.2,208.8 568.4,208.9 568.5,210.3 568.7,207.8 568.9,207.9 569.1,208.0 569.2,206.0 569.4,206.3 569.6,207.1 569.8,206.2 569.9,202.5 570.1,205.8 570.3,203.4 570.5,202.6 570.7,202.1 570.8,203.9 571.0,202.4 571.2,201.5 571.4,200.3 571.5,201.7 571.7,202.2 571.9,199.5 572.1,199.2 572.2,199.9 572.4,200.8 572.6,199.5 572.8,199.6 573.0,198.6 573.1,200.9 573.3,199.1 573.5,199.2 573.7,200.1 573.8,198.3 574.0,198.3 574.2,198.5 574.4,197.3 574.5,199.1 574.7,197.3 574.9,196.5 575.1,196.3 575.2,194.3 575.4,195.8 575.6,195.1 575.8,192.0 576.0,190.7 576.1,188.0 576.3,189.1 576.5,190.2 576.7,187.7 576.8,189.1 577.0,189.2 577.2,183.9 577.4,186.2 577.5,186.6 577.7,187.6 577.9,186.9 578.1,189.5 578.3,189.3 578.4,192.7 578.6,194.2 578.8,192.6 579.0,194.2 579.1,196.9 579.3,198.9 579.5,200.5 579.7,202.5 579.8,200.7 580.0,202.5 580.2,203.0 580.4,203.4 580.6,202.9 580.7,203.8 580.9,203.8 581.1,206.3 581.3,204.7 581.4,203.1 581.6,206.6 581.8,206.5 582.0,205.7 582.1,205.9 582.3,206.2 582.5,208.6 582.7,206.1 582.9,208.0 583.0,207.5 583.2,205.8 583.4,206.7 583.6,205.3 583.7,202.5 583.9,205.2 584.1,205.1 584.3,206.9 584.4,206.5 584.6,206.9 584.8,206.1 585.0,206.6 585.2,205.9 585.3,205.3 585.5,206.0 585.7,206.3 585.9,206.1 586.0,203.8 586.2,204.1 586.4,202.8 586.6,202.7 586.7,204.1 586.9,202.8 587.1,205.0 587.3,200.6 587.4,201.7 587.6,203.2 587.8,204.2 588.0,202.4 588.2,205.0 588.3,203.7 588.5,201.9 588.7,202.7 588.9,203.3 589.0,201.6 589.2,203.9 589.4,202.4 589.6,203.2 589.7,203.6 589.9,202.1 590.1,203.7 590.3,200.4 590.5,203.2 590.6,200.3 590.8,203.8 591.0,201.9 591.2,204.0 591.3,204.2 591.5,202.5 591.7,201.9 591.9,204.2 592.0,201.4 592.2,203.6 592.4,202.6 592.6,202.3 592.8,202.1 592.9,204.8 593.1,200.9 593.3,202.1 593.5,203.3 593.6,204.0 593.8,204.7 594.0,204.4 594.2,202.5 594.3,204.0 594.5,205.5 594.7,205.3 594.9,203.4 595.1,206.0 595.2,206.8 595.4,205.1 595.6,206.6 595.8,207.6 595.9,208.9 596.1,210.4 596.3,210.5 596.5,210.1 596.6,210.3 596.8,210.1 597.0,210.3 597.2,211.2 597.3,211.6 597.5,213.5 597.7,214.9 597.9,213.0 598.1,213.5 598.2,213.2 598.4,212.7 598.6,213.8 598.8,213.7 598.9,212.5 599.1,212.3 599.3,213.5 599.5,212.5 599.6,213.7 599.8,214.9 600.0,214.0 600.2,212.2 600.4,215.5 600.5,213.7 600.7,213.8 600.9,214.0 601.1,216.9 601.2,213.7 601.4,215.8 601.6,216.3 601.8,216.2 601.9,215.3 602.1,215.9 602.3,216.1 602.5,214.5 602.7,216.9 602.8,217.5 603.0,215.6 603.2,215.9 603.4,215.7 603.5,218.4 603.7,216.2 603.9,217.1 604.1,215.9 604.2,219.6 604.4,218.1 604.6,218.9 604.8,220.7 605.0,219.9 605.1,218.0 605.3,220.1 605.5,220.7 605.7,219.1 605.8,219.2 606.0,219.4 606.2,221.7 606.4,221.2 606.5,220.2 606.7,222.3 606.9,222.7 607.1,221.1 607.3,220.5 607.4,223.8 607.6,225.6 607.8,224.5 608.0,224.1 608.1,223.3 608.3,222.6 608.5,223.7 608.7,224.5 608.8,223.8 609.0,225.3 609.2,224.4 609.4,225.3 609.5,221.7 609.7,223.6 609.9,225.2 610.1,225.0 610.3,224.0 610.4,225.0 610.6,223.6 610.8,223.3 611.0,221.1 611.1,222.2 611.3,222.4 611.5,222.7 611.7,222.2 611.8,220.6 612.0,220.4 612.2,218.6 612.4,220.3 612.6,218.0 612.7,218.8 612.9,218.9 613.1,221.1 613.3,220.1 613.4,217.6 613.6,216.7 613.8,218.0 614.0,217.2 614.1,218.4 614.3,218.2 614.5,218.4 614.7,216.6 614.9,217.4 615.0,218.1 615.2,218.3 615.4,217.3 615.6,217.6 615.7,219.0 615.9,216.1 616.1,217.9 616.3,218.2 616.4,216.6 616.6,217.1 616.8,218.4 617.0,217.6 617.2,219.5 617.3,218.9 617.5,220.8 617.7,216.7 617.9,220.3 618.0,217.3 618.2,218.5 618.4,217.8 618.6,216.0 618.7,214.7 618.9,213.4 619.1,211.2 619.3,212.5 619.4,211.5 619.6,212.9 619.8,211.0 620.0,211.3 620.2,211.6 620.3,210.8 620.5,211.3 620.7,212.0 620.9,212.6 621.0,214.6 621.2,215.8 621.4,215.0 621.6,218.8 621.7,219.1 621.9,218.4 622.1,225.0 622.3,224.4 622.5,224.5 622.6,228.7 622.8,224.7 623.0,231.5 623.2,227.6 623.3,227.8 623.5,229.0 623.7,230.7 623.9,230.4 624.0,232.2 624.2,230.6 624.4,233.2 624.6,232.6 624.8,231.6 624.9,234.4 625.1,233.9 625.3,233.2 625.5,234.9 625.6,232.0 625.8,232.9 626.0,235.0 626.2,233.3 626.3,234.1 626.5,233.9 626.7,233.0 626.9,233.9 627.1,231.9 627.2,233.8 627.4,231.8 627.6,232.9 627.8,231.8 627.9,233.3 628.1,233.1 628.3,233.8 628.5,231.7 628.6,231.1 628.8,229.7 629.0,230.5 629.2,231.6 629.3,232.0 629.5,231.2 629.7,231.6 629.9,229.7 630.1,230.2 630.2,232.1 630.4,231.9 630.6,229.4 630.8,230.6 630.9,231.2 631.1,229.6 631.3,231.5 631.5,231.4 631.6,231.6 631.8,233.4 632.0,230.1 632.2,232.6 632.4,231.8 632.5,232.1 632.7,230.4 632.9,231.4 633.1,231.3 633.2,233.3 633.4,231.5 633.6,233.1 633.8,231.1 633.9,231.1 634.1,231.6 634.3,229.3 634.5,231.1 634.7,231.1 634.8,231.7 635.0,232.2 635.2,230.9 635.4,230.8 635.5,233.7 635.7,231.0 635.9,231.7 636.1,231.3 636.2,231.9 636.4,234.0 636.6,233.9 636.8,230.6 637.0,232.4 637.1,234.5 637.3,233.1 637.5,234.5 637.7,236.7 637.8,237.8 638.0,237.6 638.2,236.0 638.4,236.9 638.5,237.7 638.7,237.7 638.9,237.9 639.1,241.6 639.3,240.0 639.4,241.1 639.6,242.0 639.8,241.7 640.0,241.7 640.1,242.3 640.3,244.1 640.5,243.4 640.7,240.9 640.8,244.4 641.0,245.2 641.2,242.9 641.4,242.5 641.5,242.7 641.7,244.5 641.9,242.0 642.1,244.1 642.3,244.7 642.4,244.4 642.6,244.2 642.8,243.6 643.0,244.0 643.1,245.1 643.3,244.3 643.5,245.6 643.7,245.0 643.8,248.0 644.0,248.5 644.2,245.9 644.4,248.4 644.6,247.2 644.7,246.9 644.9,247.4 645.1,247.3 645.3,245.2 645.4,249.7 645.6,245.8 645.8,244.4 646.0,247.2 646.1,247.5 646.3,246.9 646.5,245.8 646.7,249.5 646.9,248.3 647.0,248.9 647.2,248.2 647.4,248.9 647.6,248.6 647.7,250.1 647.9,249.8 648.1,250.9 648.3,251.1 648.4,250.8 648.6,251.0 648.8,252.5 649.0,249.5 649.2,251.8 649.3,253.5 649.5,250.8 649.7,253.2 649.9,252.0 650.0,252.9 650.2,252.8 650.4,253.1 650.6,254.1 650.7,253.6 650.9,251.5 651.1,256.5 651.3,254.1 651.4,253.8 651.6,255.7 651.8,256.3 652.0,252.4 652.2,255.5 652.3,252.9 652.5,254.9 652.7,255.4 652.9,254.6 653.0,254.0 653.2,253.0 653.4,253.5 653.6,253.5 653.7,253.1 653.9,251.4 654.1,251.6 654.3,253.4 654.5,252.6 654.6,251.2 654.8,252.0 655.0,251.3 655.2,251.7 655.3,250.5 655.5,249.4 655.7,248.5 655.9,249.4 656.0,246.9 656.2,249.2 656.4,245.3 656.6,247.7 656.8,248.1 656.9,249.1 657.1,251.6 657.3,248.4 657.5,247.8 657.6,245.8 657.8,249.6 658.0,245.9 658.2,248.4 658.3,247.3 658.5,251.1 658.7,248.1 658.9,248.7 659.1,247.5 659.2,248.2 659.4,249.7 659.6,247.3 659.8,247.6 659.9,247.7 660.1,247.1 660.3,247.0 660.5,248.2 660.6,249.7 660.8,249.7 661.0,246.5 661.2,247.1 661.3,246.9 661.5,246.7 661.7,245.3 661.9,244.4 662.1,244.0 662.2,243.8 662.4,240.2 662.6,242.1 662.8,242.8 662.9,243.4 663.1,242.5 663.3,240.5 663.5,240.5 663.6,242.6 663.8,243.4 664.0,244.8 664.2,246.8 664.4,245.0 664.5,247.1 664.7,246.1 664.9,251.6 665.1,252.7 665.2,253.4 665.4,256.5 665.6,259.7 665.8,260.3 665.9,260.1 666.1,260.8 666.3,261.8 666.5,260.9 666.7,261.2 666.8,262.4 667.0,263.1 667.2,263.7 667.4,263.2 667.5,263.1 667.7,264.5 667.9,264.4 668.1,265.6 668.2,267.1 668.4,266.5 668.6,264.3 668.8,264.6 669.0,263.1 669.1,264.8 669.3,263.7 669.5,263.1 669.7,263.4 669.8,265.1 670.0,264.5 670.2,264.0 670.4,265.2 670.5,263.4 670.7,262.6 670.9,264.1 671.1,261.1 671.3,263.5 671.4,263.2 671.6,262.9 671.8,263.2 672.0,261.6 672.1,261.8 672.3,259.6 672.5,260.6 672.7,260.4 672.8,261.0 673.0,262.1 673.2,260.3 673.4,260.9 673.5,258.5 673.7,259.4 673.9,257.3 674.1,258.2 674.3,258.0 674.4,258.6 674.6,258.4 674.8,257.8 675.0,257.4 675.1,259.1 675.3,257.6 675.5,255.0 675.7,258.0 675.8,258.0 676.0,258.4 676.2,259.1 676.4,256.0 676.6,257.1 676.7,256.7 676.9,254.9 677.1,254.0 677.3,257.8 677.4,255.5 677.6,255.9 677.8,256.1 678.0,255.9 678.1,256.4 678.3,254.4 678.5,255.4 678.7,255.7 678.9,254.5 679.0,254.8 679.2,255.2 679.4,255.1 679.6,253.2 679.7,254.5 679.9,254.9 680.1,255.6 680.3,255.2 680.4,256.3 680.6,255.2 680.8,255.3 681.0,258.3 681.2,256.2 681.3,255.7 681.5,256.6 681.7,258.1 681.9,255.9 682.0,258.4 682.2,259.3 682.4,259.4 682.6,258.4 682.7,257.5 682.9,257.5 683.1,258.9 683.3,260.7 683.4,260.3 683.6,260.8 683.8,259.9 684.0,261.5 684.2,259.1 684.3,258.2 684.5,258.9 684.7,257.9 684.9,259.3 685.0,259.6 685.2,258.5 685.4,256.5 685.6,256.8 685.7,258.6 685.9,256.7 686.1,258.6 686.3,256.6 686.5,257.8 686.6,259.0 686.8,257.6 687.0,259.5 687.2,259.8 687.3,260.2 687.5,257.9 687.7,258.1 687.9,257.8 688.0,258.0 688.2,255.6 688.4,257.5 688.6,257.6 688.8,255.2 688.9,255.0 689.1,256.2 689.3,258.6 689.5,257.3 689.6,255.9 689.8,256.6 690.0,254.8 690.2,258.2 690.3,255.8 690.5,257.3 690.7,255.0 690.9,256.7 691.1,255.4 691.2,257.3 691.4,258.2 691.6,257.9 691.8,257.3 691.9,257.8 692.1,255.3 692.3,255.1 692.5,256.4 692.6,257.9 692.8,256.9 693.0,257.5 693.2,255.1 693.4,256.3 693.5,256.1 693.7,257.0 693.9,258.8 694.1,257.3 694.2,257.7 694.4,255.9 694.6,256.1 694.8,257.0 694.9,256.4 695.1,254.1 695.3,256.9 695.5,256.8 695.6,255.9 695.8,255.9 696.0,254.9 696.2,253.1 696.4,251.1 696.5,254.5 696.7,251.8 696.9,251.1 697.1,250.6 697.2,250.0 697.4,249.6 697.6,247.4 697.8,248.5 697.9,247.5 698.1,246.7 698.3,246.0 698.5,245.7 698.7,243.7 698.8,244.4 699.0,243.7 699.2,243.5 699.4,244.2 699.5,243.6 699.7,243.5 699.9,241.7 700.1,242.4 700.2,242.4 700.4,240.6 700.6,239.9 700.8,242.4 701.0,238.2 701.1,240.0 701.3,240.0 701.5,238.5 701.7,239.5 701.8,240.1 702.0,236.7 702.2,240.3 702.4,239.0 702.5,237.7 702.7,239.8 702.9,238.4 703.1,237.6 703.3,235.0 703.4,238.6 703.6,237.3 703.8,236.3 704.0,236.7 704.1,237.9 704.3,235.3 704.5,234.6 704.7,233.1 704.8,231.3 705.0,230.3 705.2,230.0 705.4,229.5 705.5,230.6 705.7,228.9 705.9,227.9 706.1,228.1 706.3,226.9 706.4,227.4 706.6,225.0 706.8,225.0 707.0,228.7 707.1,228.5 707.3,230.0 707.5,229.0 707.7,230.7 707.8,232.5 708.0,234.4 708.2,235.5 708.4,238.3 708.6,237.9 708.7,240.8 708.9,240.0 709.1,241.1 709.3,240.5 709.4,242.0 709.6,241.0 709.8,243.4 710.0,241.8 710.1,242.9 710.3,242.6 710.5,243.0 710.7,242.2 710.9,245.7 711.0,243.2 711.2,245.5 711.4,242.1 711.6,245.5 711.7,244.1 711.9,244.5 712.1,240.4 712.3,243.5 712.4,241.6 712.6,242.0 712.8,243.2 713.0,241.2 713.2,239.8 713.3,240.4 713.5,238.8 713.7,240.0 713.9,239.3 714.0,239.3 714.2,238.1 714.4,236.0 714.6,237.4 714.7,237.2 714.9,237.7 715.1,237.5 715.3,234.6 715.4,237.2 715.6,236.6 715.8,235.3 716.0,235.3 716.2,232.2 716.3,236.8 716.5,233.2 716.7,232.5 716.9,234.3 717.0,233.5 717.2,232.1 717.4,230.4 717.6,233.1 717.7,233.7 717.9,230.5 718.1,229.6 718.3,231.6 718.5,233.5 718.6,229.0 718.8,230.7 719.0,228.9 719.2,230.1 719.3,230.2 719.5,230.1 719.7,227.6 719.9,227.5 720.0,231.4 720.2,229.8 720.4,226.5 720.6,228.8 720.8,229.7 720.9,228.0 721.1,227.9 721.3,227.7 721.5,228.0 721.6,227.6 721.8,227.6 722.0,226.5 722.2,227.6 722.3,226.9 722.5,226.5 722.7,224.7 722.9,225.6 723.1,226.0 723.2,225.2 723.4,225.7 723.6,225.2 723.8,226.2 723.9,225.1 724.1,226.0 724.3,227.9 724.5,228.6 724.6,227.5 724.8,228.2 725.0,229.3 725.2,231.2 725.4,231.9 725.5,229.7 725.7,229.5 725.9,229.8 726.1,232.5 726.2,230.1 726.4,232.2 726.6,231.4 726.8,231.6 726.9,232.8 727.1,232.4 727.3,233.9 727.5,232.4 727.6,233.3 727.8,230.5 728.0,230.8 728.2,229.7 728.4,230.4 728.5,231.7 728.7,230.7 728.9,231.7 729.1,230.7 729.2,231.2 729.4,232.9 729.6,231.9 729.8,232.0 729.9,232.6 730.1,231.4 730.3,230.4 730.5,232.7 730.7,232.5 730.8,234.5 731.0,231.9 731.2,232.1 731.4,233.9 731.5,230.9 731.7,230.4 731.9,232.0 732.1,231.6 732.2,232.4 732.4,230.5 732.6,233.2 732.8,231.8 733.0,229.3 733.1,231.6 733.3,231.2 733.5,231.9 733.7,233.2 733.8,232.0 734.0,231.5 734.2,233.3 734.4,231.8 734.5,230.8 734.7,231.1 734.9,234.3 735.1,233.7 735.3,234.5 735.4,231.5 735.6,232.1 735.8,232.1 736.0,234.0 736.1,234.4 736.3,233.1 736.5,233.0 736.7,234.2 736.8,233.0 737.0,232.5 737.2,233.0 737.4,234.5 737.5,235.8 737.7,233.7 737.9,233.3 738.1,233.8 738.3,234.1 738.4,234.4 738.6,232.9 738.8,233.6 739.0,232.9 739.1,233.7 739.3,232.8 739.5,231.4 739.7,232.2 739.8,232.0 740.0,230.4 740.2,228.2 740.4,228.9 740.6,226.9 740.7,228.3 740.9,228.0 741.1,228.8 741.3,227.4 741.4,224.6 741.6,225.4 741.8,224.5 742.0,224.3 742.1,224.8 742.3,224.7 742.5,224.1 742.7,223.2 742.9,223.1 743.0,222.8 743.2,222.9 743.4,223.6 743.6,222.8 743.7,223.4 743.9,221.0 744.1,224.5 744.3,222.2 744.4,219.2 744.6,222.2 744.8,223.0 745.0,221.6 745.2,220.0 745.3,221.6 745.5,220.6 745.7,221.1 745.9,221.5 746.0,217.3 746.2,220.6 746.4,221.2 746.6,220.9 746.7,219.7 746.9,219.5 747.1,218.9 747.3,219.3 747.4,220.2 747.6,216.9 747.8,216.9 748.0,215.8 748.2,216.2 748.3,214.4 748.5,214.1 748.7,212.8 748.9,213.9 749.0,211.7 749.2,211.1 749.4,212.1 749.6,211.2 749.7,212.3 749.9,211.0 750.1,215.8 750.3,214.0 750.5,216.3 750.6,215.7 750.8,215.3 751.0,218.6 751.2,219.3 751.3,222.0 751.5,220.4 751.7,223.1 751.9,223.8 752.0,227.4 752.2,227.8 752.4,225.6 752.6,227.3 752.8,227.7 752.9,227.2 753.1,229.3 753.3,227.2 753.5,228.3 753.6,228.0 753.8,229.6 754.0,228.4 754.2,230.1 754.3,228.2 754.5,227.8 754.7,227.8 754.9,228.0 755.1,227.6 755.2,231.2 755.4,226.9 755.6,227.9 755.8,227.3 755.9,227.5 756.1,228.5 756.3,227.3 756.5,225.7 756.6,224.5 756.8,226.6 757.0,226.6 757.2,223.6 757.4,226.0 757.5,222.3 757.7,224.3 757.9,225.0 758.1,222.6 758.2,221.4 758.4,224.7 758.6,221.0 758.8,222.8 758.9,220.4 759.1,222.2 759.3,223.3 759.5,220.6 759.6,219.8 759.8,218.2 760.0,218.4 760.2,219.4 760.4,220.3 760.5,220.5 760.7,220.1 760.9,220.5 761.1,219.7 761.2,222.1 761.4,218.8 761.6,218.9 761.8,215.7 761.9,217.6 762.1,218.9 762.3,217.5 762.5,219.4 762.7,218.5 762.8,219.8 763.0,215.9 763.2,216.7 763.4,218.6 763.5,217.2 763.7,215.9 763.9,216.3 764.1,216.3 764.2,217.6 764.4,217.2 764.6,216.2 764.8,215.2 765.0,217.0 765.1,217.3 765.3,214.5 765.5,216.7 765.7,214.1 765.8,214.9 766.0,214.0 766.2,212.8 766.4,214.2 766.5,214.4 766.7,216.6 766.9,216.6 767.1,215.4 767.3,214.7 767.4,215.1 767.6,214.4 767.8,217.0 768.0,217.4 768.1,216.8 768.3,218.2 768.5,218.5 768.7,219.9 768.8,217.8 769.0,220.5 769.2,218.9 769.4,221.4 769.5,218.7 769.7,221.4 769.9,219.2 770.1,221.8 770.3,220.3 770.4,218.2 770.6,220.3 770.8,219.1 771.0,219.5 771.1,221.4 771.3,218.2 771.5,218.2 771.7,220.1 771.8,218.3 772.0,220.0 772.2,220.4 772.4,219.3 772.6,220.3 772.7,217.0 772.9,221.5 773.1,219.0 773.3,218.8 773.4,222.0 773.6,221.5 773.8,218.7 774.0,219.7 774.1,218.5 774.3,217.4 774.5,219.0 774.7,219.5 774.9,221.4 775.0,218.0 775.2,219.4 775.4,218.0 775.6,218.1 775.7,220.0 775.9,216.4 776.1,217.2 776.3,217.5 776.4,219.9 776.6,219.0 776.8,219.2 777.0,219.1 777.2,220.0 777.3,218.2 777.5,218.5 777.7,218.4 777.9,219.5 778.0,217.5 778.2,218.8 778.4,222.2 778.6,219.9 778.7,219.2 778.9,218.1 779.1,219.6 779.3,219.6 779.5,220.0 779.6,218.4 779.8,219.6 780.0,219.8 780.2,219.9 780.3,218.3 780.5,219.5 780.7,220.8 780.9,218.1 781.0,219.5 781.2,218.2 781.4,218.2 781.6,217.1 781.7,217.3 781.9,218.6 782.1,217.5 782.3,218.2 782.5,214.2 782.6,215.0 782.8,213.3 783.0,214.6 783.2,216.0 783.3,211.3 783.5,212.3 783.7,211.7 783.9,211.2 784.0,209.9 784.2,209.5 784.4,211.3 784.6,207.7 784.8,209.0 784.9,208.4 785.1,205.5 785.3,206.0 785.5,207.0 785.6,208.4 785.8,205.6 786.0,204.7 786.2,205.0 786.3,205.9 786.5,205.0 786.7,205.1 786.9,203.2 787.1,202.3 787.2,201.8 787.4,203.6 787.6,202.3 787.8,201.7 787.9,202.7 788.1,202.0 788.3,199.2 788.5,201.2 788.6,200.2 788.8,201.4 789.0,200.6 789.2,202.3 789.4,200.0 789.5,198.3 789.7,196.9 789.9,197.6 790.1,197.9 790.2,198.3 790.4,198.3 790.6,196.6 790.8,194.6 790.9,195.1 791.1,192.0 791.3,193.0 791.5,193.3 791.6,191.8 791.8,192.0 792.0,191.1 792.2,187.6 792.4,188.5 792.5,187.4 792.7,186.6 792.9,187.2 793.1,189.9 793.2,188.5 793.4,190.3 793.6,191.4 793.8,191.6 793.9,195.1 794.1,195.9 794.3,196.6 794.5,197.2 794.7,199.9 794.8,200.8 795.0,200.2 795.2,200.3 795.4,201.5 795.5,201.1 795.7,203.2 795.9,203.2 796.1,202.6 796.2,203.5 796.4,203.9 796.6,201.5 796.8,203.8 797.0,204.8 797.1,203.3 797.3,201.9 797.5,203.6 797.7,202.0 797.8,203.6 798.0,203.3 798.2,203.2 798.4,202.2 798.5,199.6 798.7,202.7 798.9,199.2 799.1,201.9 799.3,200.7 799.4,199.1 799.6,199.0 799.8,199.1 800.0,200.9 800.1,198.2 800.3,199.3 800.5,194.8 800.7,197.6 800.8,196.7 801.0,197.8 801.2,196.7 801.4,197.2 801.5,194.2 801.7,195.2 801.9,193.8 802.1,194.9 802.3,194.2 802.4,191.8 802.6,194.0 802.8,194.5 803.0,191.7 803.1,193.2 803.3,192.1 803.5,190.3 803.7,192.0 803.8,189.8 804.0,191.3 804.2,188.6 804.4,188.5 804.6,190.3 804.7,189.7 804.9,190.2 805.1,188.7 805.3,187.3 805.4,190.1 805.6,187.1 805.8,189.4 806.0,188.6 806.1,189.5 806.3,184.8 806.5,186.9 806.7,186.5 806.9,187.3 807.0,185.1 807.2,188.5 807.4,185.8 807.6,183.1 807.7,185.8 807.9,185.2 808.1,184.2 808.3,185.7 808.4,184.5 808.6,183.2 808.8,183.8 809.0,183.4 809.2,184.0 809.3,183.1 809.5,183.6 809.7,182.3 809.9,183.4 810.0,184.7 810.2,187.5 810.4,184.2 810.6,184.4 810.7,186.6 810.9,188.1 811.1,187.3 811.3,185.2 811.5,187.7 811.6,187.3 811.8,186.7 812.0,185.8 812.2,187.4 812.3,187.7 812.5,188.5 812.7,186.2 812.9,186.9 813.0,188.0 813.2,189.3 813.4,188.3 813.6,186.5 813.7,187.8 813.9,185.7 814.1,186.0 814.3,185.9 814.5,185.4 814.6,185.7 814.8,187.4 815.0,186.8 815.2,183.9 815.3,188.0 815.5,187.3 815.7,185.6 815.9,187.1 816.0,187.9 816.2,188.6 816.4,186.4 816.6,185.6 816.8,184.9 816.9,186.2 817.1,184.8 817.3,187.0 817.5,185.3 817.6,186.1 817.8,184.8 818.0,184.2 818.2,183.8 818.3,186.2 818.5,183.6 818.7,185.6 818.9,186.2 819.1,185.2 819.2,186.7 819.4,185.0 819.6,184.7 819.8,185.2 819.9,184.4 820.1,185.4 820.3,185.0 820.5,186.7 820.6,185.0 820.8,186.1 821.0,185.6 821.2,185.2 821.4,184.9 821.5,187.0 821.7,187.0 821.9,185.5 822.1,184.6 822.2,184.8 822.4,184.2 822.6,183.7 822.8,184.5 822.9,185.1 823.1,186.2 823.3,186.1 823.5,185.5 823.6,184.6 823.8,184.6 824.0,184.8 824.2,185.0 824.4,184.0 824.5,184.5 824.7,184.3 824.9,184.1 825.1,184.5 825.2,184.4 825.4,182.1 825.6,181.5 825.8,181.7 825.9,181.3 826.1,177.6 826.3,180.5 826.5,179.3 826.7,178.2 826.8,179.2 827.0,177.2 827.2,174.7 827.4,175.1 827.5,174.9 827.7,174.4 827.9,174.4 828.1,173.1 828.2,173.9 828.4,173.9 828.6,172.9 828.8,171.5 829.0,171.8 829.1,171.0 829.3,173.7 829.5,169.6 829.7,167.9 829.8,168.8 830.0,170.5 830.2,170.9 830.4,169.4 830.5,170.7 830.7,168.5 830.9,169.8 831.1,167.9 831.3,167.2 831.4,170.9 831.6,168.1 831.8,169.0 832.0,169.6 832.1,168.4 832.3,167.6 832.5,165.9 832.7,168.6 832.8,165.3 833.0,163.9 833.2,165.3 833.4,164.9 833.5,164.5 833.7,164.7 833.9,161.7 834.1,160.7 834.3,159.2 834.4,156.3 834.6,157.8 834.8,157.5 835.0,155.6 835.1,158.3 835.3,157.5 835.5,156.0 835.7,156.0 835.8,155.1 836.0,156.9 836.2,155.3 836.4,156.2 836.6,157.8 836.7,159.8 836.9,159.6 837.1,160.9 837.3,164.5 837.4,164.4 837.6,165.4 837.8,167.5 838.0,166.7 838.1,167.8 838.3,170.7 838.5,169.9 838.7,171.1 838.9,169.6 839.0,171.4 839.2,169.5 839.4,170.3 839.6,169.7 839.7,171.2 839.9,172.8 840.1,169.2 840.3,171.6 840.4,169.8 840.6,170.5 840.8,169.9 841.0,168.2 841.2,169.6 841.3,168.0 841.5,171.0 841.7,168.0 841.9,168.9 842.0,168.4 842.2,167.9 842.4,167.2 842.6,165.4 842.7,169.1 842.9,166.5 843.1,167.0 843.3,164.4 843.5,165.8 843.6,164.4 843.8,165.0 844.0,163.3 844.2,162.5 844.3,163.7 844.5,162.8 844.7,164.1 844.9,161.7 845.0,160.6 845.2,161.8 845.4,159.5 845.6,162.7 845.7,162.1 845.9,161.2 846.1,159.8 846.3,159.0 846.5,158.8 846.6,158.5 846.8,157.4 847.0,158.5 847.2,159.1 847.3,158.8 847.5,154.7 847.7,159.5 847.9,156.8 848.0,154.6 848.2,155.5 848.4,156.7 848.6,155.5 848.8,154.2 848.9,153.6 849.1,155.8 849.3,153.6 849.5,154.0 849.6,152.8 849.8,152.2 850.0,154.0 850.2,155.0 850.3,152.7 850.5,150.8 850.7,151.9 850.9,152.2 851.1,149.4 851.2,153.2 851.4,150.7 851.6,152.1 851.8,151.2 851.9,150.9 852.1,149.0 852.3,151.6 852.5,151.2 852.6,152.7 852.8,150.5 853.0,151.9 853.2,151.1 853.4,153.1 853.5,152.5 853.7,151.1 853.9,152.8 854.1,152.1 854.2,152.5 854.4,153.7 854.6,155.3 854.8,152.6 854.9,153.7 855.1,153.0 855.3,156.7 855.5,156.5 855.6,157.2 855.8,156.0 856.0,153.6 856.2,153.9 856.4,154.4 856.5,153.9 856.7,153.0 856.9,153.9 857.1,152.9 857.2,152.9 857.4,155.4 857.6,153.4 857.8,151.5 857.9,153.6 858.1,153.3 858.3,154.0 858.5,153.9 858.7,152.1 858.8,153.8 859.0,154.7 859.2,157.2 859.4,154.4 859.5,155.7 859.7,155.3 859.9,152.0 860.1,151.9 860.2,154.6 860.4,151.2 860.6,151.4 860.8,152.6 861.0,150.7 861.1,153.4 861.3,152.9 861.5,153.1 861.7,152.7 861.8,150.4 862.0,153.0 862.2,152.7 862.4,152.5 862.5,151.2 862.7,151.8 862.9,150.4 863.1,152.2 863.3,152.8 863.4,151.9 863.6,151.3 863.8,152.4 864.0,151.1 864.1,149.3 864.3,152.1 864.5,151.3 864.7,149.8 864.8,152.1 865.0,152.4 865.2,152.7 865.4,151.0 865.6,150.8 865.7,151.5 865.9,151.2 866.1,149.8 866.3,150.2 866.4,152.8 866.6,151.1 866.8,150.9 867.0,150.2 867.1,151.2 867.3,151.7 867.5,151.4 867.7,152.9 867.8,150.8 868.0,151.0 868.2,149.1 868.4,150.2 868.6,149.0 868.7,149.0 868.9,148.5 869.1,145.8 869.3,146.6 869.4,144.9 869.6,146.2 869.8,144.2 870.0,145.7 870.1,143.7 870.3,143.2 870.5,141.3 870.7,141.2 870.9,141.1 871.0,139.5 871.2,139.8 871.4,139.0 871.6,138.4 871.7,138.9 871.9,138.8 872.1,137.7 872.3,138.1 872.4,136.8 872.6,135.6 872.8,135.5 873.0,136.7 873.2,137.5 873.3,135.9 873.5,135.8 873.7,134.2 873.9,135.7 874.0,135.3 874.2,134.0 874.4,135.2 874.6,134.6 874.7,132.3 874.9,132.4 875.1,133.1 875.3,133.2 875.5,134.3 875.6,132.3 875.8,132.5 876.0,132.1 876.2,132.6 876.3,131.7 876.5,131.2 876.7,129.5 876.9,127.1 877.0,127.2 877.2,128.4 877.4,126.5 877.6,126.6 877.7,125.1 877.9,123.0 878.1,122.6 878.3,123.1 878.5,121.5 878.6,122.1 878.8,123.1 879.0,123.8 879.2,123.9 879.3,122.0 879.5,125.8 879.7,123.6 879.9,124.2 880.0,127.3 880.2,128.6 880.4,130.8 880.6,131.6 880.8,132.3 880.9,134.3 881.1,133.8 881.3,134.2 881.5,135.7 881.6,135.8 881.8,136.4 882.0,136.1 882.2,137.9 882.3,136.3 882.5,136.7 882.7,138.1 882.9,134.8 883.1,138.5 883.2,138.6 883.4,137.4 883.6,139.7 883.8,138.0 883.9,138.5 884.1,137.6 884.3,136.3 884.5,135.4 884.6,134.2 884.8,134.2 885.0,133.4 885.2,133.8 885.4,134.7 885.5,132.5 885.7,134.0 885.9,133.9 886.1,131.0 886.2,131.4 886.4,131.7 886.6,130.7 886.8,130.1 886.9,132.3 887.1,130.4 887.3,131.3 887.5,129.4 887.6,129.9 887.8,127.2 888.0,127.7 888.2,128.8 888.4,127.5 888.5,128.5 888.7,126.6 888.9,125.7 889.1,125.7 889.2,127.9 889.4,125.9 889.6,124.6 889.8,124.6 889.9,123.4 890.1,125.9 890.3,123.6 890.5,124.6 890.7,123.4 890.8,122.9 891.0,122.3 891.2,123.5 891.4,122.4 891.5,123.7 891.7,123.7 891.9,121.2 892.1,121.6 892.2,123.2 892.4,122.1 892.6,120.9 892.8,118.9 893.0,119.3 893.1,119.4 893.3,122.1 893.5,119.9 893.7,119.1 893.8,118.9 894.0,118.7 894.2,119.2 894.4,116.7 894.5,116.8 894.7,118.4 894.9,119.2 895.1,115.5 895.3,118.3 895.4,116.1 895.6,115.6 895.8,119.1 896.0,117.9 896.1,118.9 896.3,118.2 896.5,118.6 896.7,117.0 896.8,118.8 897.0,119.8 897.2,118.7 897.4,120.6 897.6,120.9 897.7,118.1 897.9,121.9 898.1,121.7 898.3,121.3 898.4,122.8 898.6,124.2 898.8,120.8 899.0,123.0 899.1,122.4 899.3,122.0 899.5,122.4 899.7,122.3 899.8,120.6 900.0,117.8 900.2,119.5 900.4,119.2 900.6,121.8 900.7,120.2 900.9,121.6 901.1,119.4 901.3,120.6 901.4,120.4 901.6,120.6 901.8,121.3 902.0,122.4 902.1,120.1 902.3,122.4 902.5,122.1 902.7,120.8 902.9,121.1 903.0,119.7 903.2,118.6 903.4,119.2 903.6,119.0 903.7,119.0 903.9,117.7 904.1,120.8 904.3,118.3 904.4,119.8 904.6,120.1 904.8,118.7 905.0,119.1 905.2,118.0 905.3,117.4 905.5,121.3 905.7,118.7 905.9,116.3 906.0,117.6 906.2,116.9 906.4,118.5 906.6,120.3 906.7,119.9 906.9,117.8 907.1,117.5 907.3,119.5 907.5,119.0 907.6,118.4 907.8,120.7 908.0,119.1 908.2,116.8 908.3,116.2 908.5,118.8 908.7,116.5 908.9,119.1 909.0,119.4 909.2,121.0 909.4,117.3 909.6,118.8 909.7,115.7 909.9,117.9 910.1,118.1 910.3,120.4 910.5,116.5 910.6,118.7 910.8,118.4 911.0,120.6 911.2,116.4 911.3,115.8 911.5,117.0 911.7,115.6 911.9,114.7 912.0,113.5 912.2,113.9 912.4,111.4 912.6,113.2 912.8,113.0 912.9,112.3 913.1,114.2 913.3,111.6 913.5,109.0 913.6,109.3 913.8,110.0 914.0,108.2 914.2,110.5 914.3,108.2 914.5,106.9 914.7,106.3 914.9,107.6 915.1,105.3 915.2,103.9 915.4,106.1 915.6,104.4 915.8,106.7 915.9,106.9 916.1,103.8 916.3,104.3 916.5,103.9 916.6,104.6 916.8,104.1 917.0,102.7 917.2,101.5 917.4,103.5 917.5,105.0 917.7,101.5 917.9,102.1 918.1,101.8 918.2,102.1 918.4,99.4 918.6,101.7 918.8,100.9 918.9,103.4 919.1,101.7 919.3,101.5 919.5,100.4 919.6,98.9 919.8,99.1 920.0,95.2 920.2,97.5 920.4,95.8 920.5,94.2 920.7,95.5 920.9,92.9 921.1,92.4 921.2,93.0 921.4,90.0 921.3,92.0 921.5,45.0 922.5,39.0 924.0,47.0 925.5,53.5 927.0,54.0 929.5,51.5 929.7,51.5 929.7,157.0 929.5,157.0 927.0,158.5 925.5,159.0 924.0,158.0 922.5,152.0 921.5,146.0 921.3,140.0 921.4,144.3 921.2,145.4 921.1,145.4 920.9,146.5 920.7,147.2 920.5,147.1 920.4,148.8 920.2,149.5 920.0,148.8 919.8,152.4 919.6,154.0 919.5,154.7 919.3,153.7 919.1,153.1 918.9,156.6 918.8,155.0 918.6,155.6 918.4,154.9 918.2,157.1 918.1,154.3 917.9,155.7 917.7,154.9 917.5,157.0 917.4,157.1 917.2,155.4 917.0,158.0 916.8,155.4 916.6,156.7 916.5,156.3 916.3,154.7 916.1,156.9 915.9,157.4 915.8,159.4 915.6,158.2 915.4,159.7 915.2,158.1 915.1,159.7 914.9,161.0 914.7,160.4 914.5,160.8 914.3,163.5 914.2,161.9 914.0,162.0 913.8,162.3 913.6,164.6 913.5,162.7 913.3,166.0 913.1,163.0 912.9,166.8 912.8,166.6 912.6,165.6 912.4,167.4 912.2,167.3 912.0,166.6 911.9,169.2 911.7,168.0 911.5,168.0 911.3,170.5 911.2,171.7 911.0,172.2 910.8,171.7 910.6,170.8 910.5,171.9 910.3,169.7 910.1,171.6 909.9,173.1 909.7,171.4 909.6,171.2 909.4,173.8 909.2,171.4 909.0,172.0 908.9,171.9 908.7,171.5 908.5,173.4 908.3,170.8 908.2,171.4 908.0,171.2 907.8,172.2 907.6,172.5 907.5,172.6 907.3,169.9 907.1,171.9 906.9,172.1 906.7,171.6 906.6,171.7 906.4,171.4 906.2,172.1 906.0,170.3 905.9,171.9 905.7,170.8 905.5,172.7 905.3,172.3 905.2,169.3 905.0,173.4 904.8,172.4 904.6,172.3 904.4,173.0 904.3,172.5 904.1,171.1 903.9,173.3 903.7,171.2 903.6,172.1 903.4,175.1 903.2,171.6 903.0,172.1 902.9,174.5 902.7,174.9 902.5,170.5 902.3,175.0 902.1,173.8 902.0,175.6 901.8,173.5 901.6,174.4 901.4,172.3 901.3,175.2 901.1,174.5 900.9,173.5 900.7,173.5 900.6,173.0 900.4,173.0 900.2,172.9 900.0,173.6 899.8,175.1 899.7,173.8 899.5,173.4 899.3,174.8 899.1,175.0 899.0,174.4 898.8,174.3 898.6,175.7 898.4,174.0 898.3,176.4 898.1,175.2 897.9,173.7 897.7,173.8 897.6,175.6 897.4,172.4 897.2,174.3 897.0,172.4 896.8,172.9 896.7,172.7 896.5,172.4 896.3,172.3 896.1,173.3 896.0,172.3 895.8,173.2 895.6,171.8 895.4,170.4 895.3,170.4 895.1,171.6 894.9,169.4 894.7,170.4 894.5,172.4 894.4,172.8 894.2,173.9 894.0,172.5 893.8,172.6 893.7,171.5 893.5,172.9 893.3,171.7 893.1,172.2 893.0,172.8 892.8,176.9 892.6,175.3 892.4,176.2 892.2,174.0 892.1,174.3 891.9,174.8 891.7,175.6 891.5,175.7 891.4,176.0 891.2,175.3 891.0,176.6 890.8,177.2 890.7,176.8 890.5,175.1 890.3,177.6 890.1,177.8 889.9,178.2 889.8,178.0 889.6,178.0 889.4,179.4 889.2,179.1 889.1,180.0 888.9,180.0 888.7,179.5 888.5,180.6 888.4,180.4 888.2,180.8 888.0,179.8 887.8,182.4 887.6,180.4 887.5,183.2 887.3,183.3 887.1,181.8 886.9,182.9 886.8,184.3 886.6,186.3 886.4,186.7 886.2,185.8 886.1,184.3 885.9,187.0 885.7,187.2 885.5,185.4 885.4,190.4 885.2,186.6 885.0,186.7 884.8,188.1 884.6,188.6 884.5,189.1 884.3,190.8 884.1,189.0 883.9,187.3 883.8,188.7 883.6,192.0 883.4,191.1 883.2,192.6 883.1,189.6 882.9,190.4 882.7,188.2 882.5,189.2 882.3,189.1 882.2,189.4 882.0,189.6 881.8,189.3 881.6,189.1 881.5,191.0 881.3,192.7 881.1,186.9 880.9,186.5 880.8,188.2 880.6,184.9 880.4,184.9 880.2,183.1 880.0,180.5 879.9,179.5 879.7,178.1 879.5,177.1 879.3,175.4 879.2,178.3 879.0,173.1 878.8,175.2 878.6,174.6 878.5,174.7 878.3,175.2 878.1,175.7 877.9,177.9 877.7,178.2 877.6,179.2 877.4,179.2 877.2,179.9 877.0,180.6 876.9,183.2 876.7,182.6 876.5,183.3 876.3,186.8 876.2,185.2 876.0,185.5 875.8,185.0 875.6,184.6 875.5,187.0 875.3,188.2 875.1,188.1 874.9,187.7 874.7,188.4 874.6,189.2 874.4,186.3 874.2,187.4 874.0,188.5 873.9,185.2 873.7,189.4 873.5,188.7 873.3,189.3 873.2,188.3 873.0,188.0 872.8,188.0 872.6,189.6 872.4,189.6 872.3,191.3 872.1,190.7 871.9,191.8 871.7,192.4 871.6,192.5 871.4,192.1 871.2,194.5 871.0,194.6 870.9,193.2 870.7,195.0 870.5,195.5 870.3,195.1 870.1,197.3 870.0,195.2 869.8,197.0 869.6,198.4 869.4,199.0 869.3,197.5 869.1,199.0 868.9,200.7 868.7,201.3 868.6,204.9 868.4,204.3 868.2,204.8 868.0,203.0 867.8,203.8 867.7,202.8 867.5,205.2 867.3,203.9 867.1,204.2 867.0,205.3 866.8,202.6 866.6,205.2 866.4,206.5 866.3,205.8 866.1,203.7 865.9,205.6 865.7,204.3 865.6,206.3 865.4,206.3 865.2,204.0 865.0,205.0 864.8,206.4 864.7,204.5 864.5,203.2 864.3,204.2 864.1,205.8 864.0,203.3 863.8,204.6 863.6,203.0 863.4,206.0 863.3,203.4 863.1,204.7 862.9,204.7 862.7,206.1 862.5,205.2 862.4,204.5 862.2,203.9 862.0,203.2 861.8,207.1 861.7,204.8 861.5,204.4 861.3,203.2 861.1,204.4 861.0,205.3 860.8,203.6 860.6,204.3 860.4,206.4 860.2,206.4 860.1,204.7 859.9,205.8 859.7,206.5 859.5,207.5 859.4,209.0 859.2,208.0 859.0,206.6 858.8,205.2 858.7,206.3 858.5,205.6 858.3,205.3 858.1,206.5 857.9,206.8 857.8,206.1 857.6,206.4 857.4,206.2 857.2,206.5 857.1,205.8 856.9,203.7 856.7,207.9 856.5,207.8 856.4,209.0 856.2,208.2 856.0,209.0 855.8,208.8 855.6,211.9 855.5,207.9 855.3,207.1 855.1,206.7 854.9,207.8 854.8,209.0 854.6,208.4 854.4,206.5 854.2,206.0 854.1,207.3 853.9,206.3 853.7,207.0 853.5,205.7 853.4,205.6 853.2,205.0 853.0,206.3 852.8,203.0 852.6,201.5 852.5,202.7 852.3,203.8 852.1,203.4 851.9,201.4 851.8,205.3 851.6,205.5 851.4,205.6 851.2,204.0 851.1,204.8 850.9,206.9 850.7,207.3 850.5,206.0 850.3,206.6 850.2,207.9 850.0,208.1 849.8,206.8 849.6,206.7 849.5,206.8 849.3,209.6 849.1,205.1 848.9,208.5 848.8,207.4 848.6,208.5 848.4,207.3 848.2,209.0 848.0,210.4 847.9,209.9 847.7,209.5 847.5,210.0 847.3,206.6 847.2,210.1 847.0,212.0 846.8,212.2 846.6,211.5 846.5,214.1 846.3,212.0 846.1,213.1 845.9,213.9 845.7,212.3 845.6,216.4 845.4,212.3 845.2,214.7 845.0,217.7 844.9,214.1 844.7,214.2 844.5,216.2 844.3,212.8 844.2,218.4 844.0,216.4 843.8,218.0 843.6,218.5 843.5,220.1 843.3,219.5 843.1,220.2 842.9,219.0 842.7,219.6 842.6,219.2 842.4,220.5 842.2,219.9 842.0,222.0 841.9,221.2 841.7,222.0 841.5,222.4 841.3,223.0 841.2,221.7 841.0,222.3 840.8,222.7 840.6,224.6 840.4,226.3 840.3,224.6 840.1,226.4 839.9,223.2 839.7,226.2 839.6,223.5 839.4,225.5 839.2,224.6 839.0,225.1 838.9,223.8 838.7,222.3 838.5,223.6 838.3,223.8 838.1,221.1 838.0,222.0 837.8,223.4 837.6,218.4 837.4,216.9 837.3,217.2 837.1,215.0 836.9,212.8 836.7,215.8 836.6,214.3 836.4,210.8 836.2,211.1 836.0,211.1 835.8,209.5 835.7,209.4 835.5,207.0 835.3,210.1 835.1,211.4 835.0,212.8 834.8,211.2 834.6,211.4 834.4,211.9 834.3,214.3 834.1,213.7 833.9,214.6 833.7,218.5 833.5,218.2 833.4,218.8 833.2,218.8 833.0,219.5 832.8,219.7 832.7,220.2 832.5,221.0 832.3,221.6 832.1,220.0 832.0,220.4 831.8,220.3 831.6,220.0 831.4,221.1 831.3,221.3 831.1,221.8 830.9,220.2 830.7,223.6 830.5,223.0 830.4,221.5 830.2,222.5 830.0,223.9 829.8,224.0 829.7,225.6 829.5,224.7 829.3,226.1 829.1,224.7 829.0,226.8 828.8,225.9 828.6,228.5 828.4,228.2 828.2,226.9 828.1,226.0 827.9,227.7 827.7,228.4 827.5,228.0 827.4,231.8 827.2,230.8 827.0,227.6 826.8,229.9 826.7,232.2 826.5,232.9 826.3,232.5 826.1,231.9 825.9,233.5 825.8,234.5 825.6,235.4 825.4,234.0 825.2,234.4 825.1,237.4 824.9,239.4 824.7,239.0 824.5,238.4 824.4,239.4 824.2,238.3 824.0,237.9 823.8,238.3 823.6,236.7 823.5,239.1 823.3,238.9 823.1,236.7 822.9,236.1 822.8,238.9 822.6,236.1 822.4,238.8 822.2,238.4 822.1,240.0 821.9,238.9 821.7,238.1 821.5,241.7 821.4,237.8 821.2,240.5 821.0,238.2 820.8,237.0 820.6,238.7 820.5,238.8 820.3,237.5 820.1,239.7 819.9,237.5 819.8,239.8 819.6,238.7 819.4,239.6 819.2,238.4 819.1,239.1 818.9,238.1 818.7,238.7 818.5,238.4 818.3,239.0 818.2,240.2 818.0,237.9 817.8,240.6 817.6,236.1 817.5,238.9 817.3,239.5 817.1,237.1 816.9,240.0 816.8,238.7 816.6,239.2 816.4,239.3 816.2,237.8 816.0,236.7 815.9,240.3 815.7,241.2 815.5,239.2 815.3,239.1 815.2,238.5 815.0,239.2 814.8,239.2 814.6,239.4 814.5,240.1 814.3,241.3 814.1,242.4 813.9,240.0 813.7,241.8 813.6,240.6 813.4,242.4 813.2,239.1 813.0,241.3 812.9,243.8 812.7,239.9 812.5,240.8 812.3,242.0 812.2,240.1 812.0,239.3 811.8,241.6 811.6,239.9 811.5,241.0 811.3,239.6 811.1,238.6 810.9,239.6 810.7,238.8 810.6,237.8 810.4,238.0 810.2,239.8 810.0,238.1 809.9,236.8 809.7,236.9 809.5,237.9 809.3,238.6 809.2,238.5 809.0,235.9 808.8,235.1 808.6,238.6 808.4,238.5 808.3,237.3 808.1,237.8 807.9,238.9 807.7,239.2 807.6,236.8 807.4,236.6 807.2,239.8 807.0,240.0 806.9,241.0 806.7,240.4 806.5,239.8 806.3,240.2 806.1,240.7 806.0,240.2 805.8,243.9 805.6,241.5 805.4,241.4 805.3,244.5 805.1,242.3 804.9,242.7 804.7,243.6 804.6,242.7 804.4,243.7 804.2,242.9 804.0,244.8 803.8,242.7 803.7,244.1 803.5,247.3 803.3,246.3 803.1,245.8 803.0,245.6 802.8,245.8 802.6,246.4 802.4,246.0 802.3,247.5 802.1,246.0 801.9,246.0 801.7,247.9 801.5,248.5 801.4,249.0 801.2,249.2 801.0,249.5 800.8,250.8 800.7,251.0 800.5,251.9 800.3,251.9 800.1,251.5 800.0,251.3 799.8,252.0 799.6,253.1 799.4,253.1 799.3,252.4 799.1,253.7 798.9,253.3 798.7,254.9 798.5,254.2 798.4,255.1 798.2,257.1 798.0,255.1 797.8,255.5 797.7,258.8 797.5,257.1 797.3,257.1 797.1,258.6 797.0,257.4 796.8,258.8 796.6,257.4 796.4,258.2 796.2,256.2 796.1,255.3 795.9,255.2 795.7,254.8 795.5,255.0 795.4,256.8 795.2,256.6 795.0,254.3 794.8,251.7 794.7,252.3 794.5,250.6 794.3,249.3 794.1,247.1 793.9,246.0 793.8,247.2 793.6,244.9 793.4,244.7 793.2,242.9 793.1,242.9 792.9,242.2 792.7,240.7 792.5,239.7 792.4,242.4 792.2,243.1 792.0,244.2 791.8,243.5 791.6,244.3 791.5,245.5 791.3,247.1 791.1,245.5 790.9,246.7 790.8,246.5 790.6,247.2 790.4,250.5 790.2,250.9 790.1,253.2 789.9,254.2 789.7,251.1 789.5,254.5 789.4,254.2 789.2,255.4 789.0,252.9 788.8,255.2 788.6,253.4 788.5,255.5 788.3,255.1 788.1,254.4 787.9,255.0 787.8,254.3 787.6,257.5 787.4,256.8 787.2,255.7 787.1,254.8 786.9,259.1 786.7,255.4 786.5,257.1 786.3,260.5 786.2,258.0 786.0,259.3 785.8,258.0 785.6,261.3 785.5,259.8 785.3,260.5 785.1,260.9 784.9,261.3 784.8,260.3 784.6,260.6 784.4,263.6 784.2,264.9 784.0,263.8 783.9,263.7 783.7,265.0 783.5,265.5 783.3,267.2 783.2,267.1 783.0,268.1 782.8,266.2 782.6,265.7 782.5,269.1 782.3,268.6 782.1,271.5 781.9,270.2 781.7,270.2 781.6,273.0 781.4,272.2 781.2,270.7 781.0,272.8 780.9,271.9 780.7,272.7 780.5,270.1 780.3,271.1 780.2,272.7 780.0,270.1 779.8,273.1 779.6,272.2 779.5,272.0 779.3,272.7 779.1,272.5 778.9,271.6 778.7,274.7 778.6,272.6 778.4,272.9 778.2,271.8 778.0,273.1 777.9,272.9 777.7,271.2 777.5,272.6 777.3,271.7 777.2,271.7 777.0,271.8 776.8,271.6 776.6,270.4 776.4,269.7 776.3,270.7 776.1,271.0 775.9,271.7 775.7,270.5 775.6,270.3 775.4,270.9 775.2,272.9 775.0,271.6 774.9,271.5 774.7,271.1 774.5,274.4 774.3,270.7 774.1,271.6 774.0,271.9 773.8,271.7 773.6,273.0 773.4,273.8 773.3,273.6 773.1,274.9 772.9,273.2 772.7,273.5 772.6,272.4 772.4,272.3 772.2,272.3 772.0,271.6 771.8,271.8 771.7,272.8 771.5,271.6 771.3,273.4 771.1,269.6 771.0,272.4 770.8,273.1 770.6,273.8 770.4,271.7 770.3,273.2 770.1,273.1 769.9,275.0 769.7,273.0 769.5,274.5 769.4,273.1 769.2,273.7 769.0,270.5 768.8,275.0 768.7,272.7 768.5,272.1 768.3,271.2 768.1,272.6 768.0,272.1 767.8,271.4 767.6,270.6 767.4,271.2 767.3,268.8 767.1,269.2 766.9,270.8 766.7,270.0 766.5,267.3 766.4,267.2 766.2,269.9 766.0,268.4 765.8,266.1 765.7,267.9 765.5,267.7 765.3,269.5 765.1,271.0 765.0,270.0 764.8,269.7 764.6,269.3 764.4,268.6 764.2,269.1 764.1,269.8 763.9,270.1 763.7,272.7 763.5,271.2 763.4,270.0 763.2,271.7 763.0,271.1 762.8,270.3 762.7,272.6 762.5,272.7 762.3,268.8 762.1,269.9 761.9,271.2 761.8,272.9 761.6,270.4 761.4,270.7 761.2,271.5 761.1,271.2 760.9,273.0 760.7,273.9 760.5,273.6 760.4,274.1 760.2,274.0 760.0,272.3 759.8,275.1 759.6,274.0 759.5,274.5 759.3,273.4 759.1,274.6 758.9,276.0 758.8,275.2 758.6,275.0 758.4,275.7 758.2,276.1 758.1,276.1 757.9,279.2 757.7,277.1 757.5,280.2 757.4,276.6 757.2,277.8 757.0,278.5 756.8,279.9 756.6,278.8 756.5,278.0 756.3,278.9 756.1,279.6 755.9,281.1 755.8,280.7 755.6,281.7 755.4,280.3 755.2,281.6 755.1,283.3 754.9,280.6 754.7,281.9 754.5,282.0 754.3,282.2 754.2,281.9 754.0,281.2 753.8,281.2 753.6,279.3 753.5,280.4 753.3,281.3 753.1,279.8 752.9,281.0 752.8,280.5 752.6,279.2 752.4,279.6 752.2,282.7 752.0,279.0 751.9,279.3 751.7,278.0 751.5,275.0 751.3,273.8 751.2,271.1 751.0,270.5 750.8,268.5 750.6,268.8 750.5,268.0 750.3,265.4 750.1,265.9 749.9,265.4 749.7,263.7 749.6,262.5 749.4,264.7 749.2,264.6 749.0,265.5 748.9,267.4 748.7,264.6 748.5,265.4 748.3,266.2 748.2,267.1 748.0,268.4 747.8,270.2 747.6,271.4 747.4,271.8 747.3,272.8 747.1,272.5 746.9,273.0 746.7,273.8 746.6,275.4 746.4,273.0 746.2,274.6 746.0,271.8 745.9,273.4 745.7,273.6 745.5,275.8 745.3,274.0 745.2,275.1 745.0,276.3 744.8,275.2 744.6,273.5 744.4,275.7 744.3,275.2 744.1,274.5 743.9,275.6 743.7,274.8 743.6,276.1 743.4,274.1 743.2,276.7 743.0,278.2 742.9,275.7 742.7,279.8 742.5,278.4 742.3,278.3 742.1,277.8 742.0,277.5 741.8,278.6 741.6,278.7 741.4,280.8 741.3,278.8 741.1,280.2 740.9,281.2 740.7,281.4 740.6,278.1 740.4,283.5 740.2,284.1 740.0,282.1 739.8,283.3 739.7,283.2 739.5,285.0 739.3,285.5 739.1,283.5 739.0,287.0 738.8,287.7 738.6,287.5 738.4,286.8 738.3,286.5 738.1,288.1 737.9,286.1 737.7,287.9 737.5,286.4 737.4,285.7 737.2,285.4 737.0,287.0 736.8,286.5 736.7,286.7 736.5,287.0 736.3,286.5 736.1,285.7 736.0,286.6 735.8,286.1 735.6,286.9 735.4,285.9 735.3,286.4 735.1,284.2 734.9,285.5 734.7,285.2 734.5,282.5 734.4,286.1 734.2,284.7 734.0,284.9 733.8,283.3 733.7,284.3 733.5,283.5 733.3,283.7 733.1,284.3 733.0,282.2 732.8,284.0 732.6,285.0 732.4,283.4 732.2,283.3 732.1,281.4 731.9,284.2 731.7,284.5 731.5,284.0 731.4,283.5 731.2,284.6 731.0,283.9 730.8,283.5 730.7,286.2 730.5,285.7 730.3,285.5 730.1,285.8 729.9,286.0 729.8,286.0 729.6,286.1 729.4,285.2 729.2,284.3 729.1,285.8 728.9,284.4 728.7,285.1 728.5,284.9 728.4,284.0 728.2,284.4 728.0,284.0 727.8,284.4 727.6,285.2 727.5,283.9 727.3,283.9 727.1,285.2 726.9,285.7 726.8,285.4 726.6,286.0 726.4,282.8 726.2,284.9 726.1,283.7 725.9,281.3 725.7,283.7 725.5,284.4 725.4,282.9 725.2,282.1 725.0,285.0 724.8,282.4 724.6,282.1 724.5,281.7 724.3,281.1 724.1,280.7 723.9,278.6 723.8,281.5 723.6,277.8 723.4,278.3 723.2,278.1 723.1,279.4 722.9,277.1 722.7,279.7 722.5,279.1 722.3,281.5 722.2,280.4 722.0,280.4 721.8,278.1 721.6,280.5 721.5,280.7 721.3,280.0 721.1,280.2 720.9,281.4 720.8,282.0 720.6,280.2 720.4,281.6 720.2,282.7 720.0,284.4 719.9,284.2 719.7,283.2 719.5,283.2 719.3,283.7 719.2,283.8 719.0,283.1 718.8,284.3 718.6,281.6 718.5,282.8 718.3,284.2 718.1,285.0 717.9,283.1 717.7,284.9 717.6,286.4 717.4,285.5 717.2,286.3 717.0,285.8 716.9,284.7 716.7,288.0 716.5,289.2 716.3,284.7 716.2,287.5 716.0,289.6 715.8,286.7 715.6,291.1 715.4,287.2 715.3,291.0 715.1,290.6 714.9,290.3 714.7,291.9 714.6,289.5 714.4,292.2 714.2,291.8 714.0,293.1 713.9,293.1 713.7,292.5 713.5,293.8 713.3,293.4 713.2,293.8 713.0,291.9 712.8,295.0 712.6,294.4 712.4,296.9 712.3,295.8 712.1,294.0 711.9,295.4 711.7,297.4 711.6,295.9 711.4,295.8 711.2,297.1 711.0,295.4 710.9,295.7 710.7,297.0 710.5,295.6 710.3,295.8 710.1,294.7 710.0,295.5 709.8,294.0 709.6,294.6 709.4,294.8 709.3,293.7 709.1,294.5 708.9,293.0 708.7,293.0 708.6,291.2 708.4,291.9 708.2,288.1 708.0,286.8 707.8,284.7 707.7,284.9 707.5,281.7 707.3,281.9 707.1,283.7 707.0,280.6 706.8,282.0 706.6,279.9 706.4,278.7 706.3,281.8 706.1,279.8 705.9,280.2 705.7,280.7 705.5,282.2 705.4,282.1 705.2,283.4 705.0,283.7 704.8,287.0 704.7,285.4 704.5,286.7 704.3,289.6 704.1,289.6 704.0,289.1 703.8,289.3 703.6,289.1 703.4,289.3 703.3,292.4 703.1,290.6 702.9,290.2 702.7,289.9 702.5,290.6 702.4,291.5 702.2,293.3 702.0,291.3 701.8,293.5 701.7,293.0 701.5,293.6 701.3,291.8 701.1,295.6 701.0,293.7 700.8,293.8 700.6,293.6 700.4,294.2 700.2,294.9 700.1,294.9 699.9,296.4 699.7,295.1 699.5,296.6 699.4,295.4 699.2,297.3 699.0,297.2 698.8,298.2 698.7,296.9 698.5,298.1 698.3,298.3 698.1,298.8 697.9,301.6 697.8,299.9 697.6,300.4 697.4,301.7 697.2,303.1 697.1,301.4 696.9,305.3 696.7,305.8 696.5,305.8 696.4,304.1 696.2,306.5 696.0,308.8 695.8,308.7 695.6,308.3 695.5,309.3 695.3,312.5 695.1,310.9 694.9,308.2 694.8,309.5 694.6,308.3 694.4,309.4 694.2,310.1 694.1,310.8 693.9,311.4 693.7,309.1 693.5,308.4 693.4,310.7 693.2,308.4 693.0,310.5 692.8,310.1 692.6,310.7 692.5,312.5 692.3,308.3 692.1,308.5 691.9,308.7 691.8,312.4 691.6,308.4 691.4,308.6 691.2,309.3 691.1,311.1 690.9,307.7 690.7,310.7 690.5,309.0 690.3,308.7 690.2,310.3 690.0,309.5 689.8,310.8 689.6,310.2 689.5,310.4 689.3,309.4 689.1,310.1 688.9,309.3 688.8,308.9 688.6,308.8 688.4,311.9 688.2,312.4 688.0,310.2 687.9,310.0 687.7,310.1 687.5,314.3 687.3,312.2 687.2,311.2 687.0,310.9 686.8,313.2 686.6,310.7 686.5,310.0 686.3,310.9 686.1,313.1 685.9,312.1 685.7,310.3 685.6,311.7 685.4,309.9 685.2,309.3 685.0,310.6 684.9,312.1 684.7,310.0 684.5,311.7 684.3,310.4 684.2,312.1 684.0,310.5 683.8,315.0 683.6,314.7 683.4,311.6 683.3,312.4 683.1,312.8 682.9,312.0 682.7,310.1 682.6,308.9 682.4,311.2 682.2,313.0 682.0,312.2 681.9,310.7 681.7,311.8 681.5,308.6 681.3,306.8 681.2,309.7 681.0,310.0 680.8,308.6 680.6,307.2 680.4,310.4 680.3,309.0 680.1,310.3 679.9,308.5 679.7,307.7 679.6,307.0 679.4,309.6 679.2,309.2 679.0,308.6 678.9,308.0 678.7,308.1 678.5,309.4 678.3,310.6 678.1,309.2 678.0,309.7 677.8,309.7 677.6,308.8 677.4,312.8 677.3,310.2 677.1,310.4 676.9,311.5 676.7,311.6 676.6,310.3 676.4,310.5 676.2,311.9 676.0,311.3 675.8,313.8 675.7,310.9 675.5,308.1 675.3,309.8 675.1,311.1 675.0,310.1 674.8,311.9 674.6,311.3 674.4,311.2 674.3,312.5 674.1,313.3 673.9,313.7 673.7,310.4 673.5,314.3 673.4,312.1 673.2,312.2 673.0,314.8 672.8,313.5 672.7,313.3 672.5,315.4 672.3,313.6 672.1,315.1 672.0,315.1 671.8,316.5 671.6,315.5 671.4,315.4 671.3,317.1 671.1,317.4 670.9,316.2 670.7,316.3 670.5,318.1 670.4,317.8 670.2,316.7 670.0,318.6 669.8,319.1 669.7,319.4 669.5,318.6 669.3,318.4 669.1,318.2 669.0,318.3 668.8,319.6 668.6,318.7 668.4,319.2 668.2,316.8 668.1,317.9 667.9,318.6 667.7,315.7 667.5,316.3 667.4,318.0 667.2,317.2 667.0,316.0 666.8,315.1 666.7,317.4 666.5,314.3 666.3,315.6 666.1,314.9 665.9,313.6 665.8,310.0 665.6,311.1 665.4,308.7 665.2,309.5 665.1,306.4 664.9,305.3 664.7,300.5 664.5,300.2 664.4,300.7 664.2,299.5 664.0,297.6 663.8,295.1 663.6,297.6 663.5,295.1 663.3,295.8 663.1,295.2 662.9,294.1 662.8,294.4 662.6,297.4 662.4,295.3 662.2,296.9 662.1,298.0 661.9,296.0 661.7,300.3 661.5,299.7 661.3,301.0 661.2,301.5 661.0,301.3 660.8,302.9 660.6,302.1 660.5,300.6 660.3,299.9 660.1,299.5 659.9,301.0 659.8,300.8 659.6,300.2 659.4,302.4 659.2,301.7 659.1,303.1 658.9,301.3 658.7,302.2 658.5,300.0 658.3,301.4 658.2,300.5 658.0,301.4 657.8,301.7 657.6,300.9 657.5,301.3 657.3,302.0 657.1,300.1 656.9,301.6 656.8,301.8 656.6,301.1 656.4,303.8 656.2,302.8 656.0,302.8 655.9,302.9 655.7,303.8 655.5,301.5 655.3,301.5 655.2,303.6 655.0,303.5 654.8,302.6 654.6,303.3 654.5,305.4 654.3,304.7 654.1,304.3 653.9,307.5 653.7,305.4 653.6,307.2 653.4,308.2 653.2,307.5 653.0,306.5 652.9,309.2 652.7,308.7 652.5,307.9 652.3,309.4 652.2,305.9 652.0,308.2 651.8,307.0 651.6,308.6 651.4,308.2 651.3,307.1 651.1,306.8 650.9,307.0 650.7,307.8 650.6,307.0 650.4,307.7 650.2,305.4 650.0,303.8 649.9,307.8 649.7,305.4 649.5,303.8 649.3,305.4 649.2,304.9 649.0,304.8 648.8,304.1 648.6,302.3 648.4,305.2 648.3,302.0 648.1,301.6 647.9,305.0 647.7,303.9 647.6,302.5 647.4,300.9 647.2,303.5 647.0,301.1 646.9,302.9 646.7,301.4 646.5,300.6 646.3,301.8 646.1,299.8 646.0,301.8 645.8,300.0 645.6,297.9 645.4,302.0 645.3,300.0 645.1,302.4 644.9,299.8 644.7,298.9 644.6,300.6 644.4,302.8 644.2,300.8 644.0,299.9 643.8,299.3 643.7,298.9 643.5,299.5 643.3,298.2 643.1,296.5 643.0,297.2 642.8,298.2 642.6,297.8 642.4,296.8 642.3,294.7 642.1,295.6 641.9,295.5 641.7,296.5 641.5,296.7 641.4,297.2 641.2,295.9 641.0,298.2 640.8,296.0 640.7,296.4 640.5,296.6 640.3,295.1 640.1,296.1 640.0,295.1 639.8,295.7 639.6,293.0 639.4,293.9 639.3,293.0 639.1,292.4 638.9,293.0 638.7,290.7 638.5,290.8 638.4,290.3 638.2,289.5 638.0,288.6 637.8,288.3 637.7,288.0 637.5,287.2 637.3,285.5 637.1,286.7 637.0,285.5 636.8,287.8 636.6,284.8 636.4,283.6 636.2,286.6 636.1,286.2 635.9,285.7 635.7,286.4 635.5,284.1 635.4,284.7 635.2,285.1 635.0,284.4 634.8,286.0 634.7,284.7 634.5,284.0 634.3,284.6 634.1,285.7 633.9,285.5 633.8,284.8 633.6,284.4 633.4,285.6 633.2,284.4 633.1,284.8 632.9,285.1 632.7,283.6 632.5,283.9 632.4,284.8 632.2,284.2 632.0,283.5 631.8,285.8 631.6,283.2 631.5,282.5 631.3,285.1 631.1,285.0 630.9,286.0 630.8,284.7 630.6,284.7 630.4,284.1 630.2,283.8 630.1,285.1 629.9,283.6 629.7,286.2 629.5,284.3 629.3,285.0 629.2,286.7 629.0,285.2 628.8,286.3 628.6,286.6 628.5,284.7 628.3,286.6 628.1,285.1 627.9,286.4 627.8,286.2 627.6,285.0 627.4,285.0 627.2,288.3 627.1,286.0 626.9,285.2 626.7,284.6 626.5,285.7 626.3,287.0 626.2,286.3 626.0,286.5 625.8,287.0 625.6,286.1 625.5,287.6 625.3,285.8 625.1,285.4 624.9,283.8 624.8,285.9 624.6,285.1 624.4,284.9 624.2,287.1 624.0,282.4 623.9,284.5 623.7,284.1 623.5,283.6 623.3,281.4 623.2,282.2 623.0,281.2 622.8,280.2 622.6,280.7 622.5,279.6 622.3,277.7 622.1,275.2 621.9,272.6 621.7,270.8 621.6,270.3 621.4,269.8 621.2,267.6 621.0,267.0 620.9,267.4 620.7,265.9 620.5,263.7 620.3,266.0 620.2,263.5 620.0,265.8 619.8,266.4 619.6,265.0 619.4,266.8 619.3,266.5 619.1,265.5 618.9,267.8 618.7,267.9 618.6,270.1 618.4,268.9 618.2,271.3 618.0,269.8 617.9,272.2 617.7,271.2 617.5,271.7 617.3,268.2 617.2,272.1 617.0,270.8 616.8,271.1 616.6,271.0 616.4,272.9 616.3,270.9 616.1,272.6 615.9,271.0 615.7,271.5 615.6,270.9 615.4,270.9 615.2,271.8 615.0,270.4 614.9,271.1 614.7,270.5 614.5,269.5 614.3,271.5 614.1,270.0 614.0,272.7 613.8,270.2 613.6,270.1 613.4,272.2 613.3,271.1 613.1,272.8 612.9,272.2 612.7,273.2 612.6,273.1 612.4,272.9 612.2,272.2 612.0,273.2 611.8,273.8 611.7,272.3 611.5,273.2 611.3,274.5 611.1,273.3 611.0,273.6 610.8,275.3 610.6,276.8 610.4,276.5 610.3,279.2 610.1,278.3 609.9,276.9 609.7,277.1 609.5,277.9 609.4,278.8 609.2,277.7 609.0,277.7 608.8,278.5 608.7,277.8 608.5,276.1 608.3,275.9 608.1,274.3 608.0,278.8 607.8,276.0 607.6,278.6 607.4,276.2 607.3,275.0 607.1,276.1 606.9,276.2 606.7,274.6 606.5,274.7 606.4,274.1 606.2,274.2 606.0,273.5 605.8,273.2 605.7,272.8 605.5,272.0 605.3,272.0 605.1,274.2 605.0,272.9 604.8,271.7 604.6,271.2 604.4,271.3 604.2,269.9 604.1,271.3 603.9,273.5 603.7,271.1 603.5,270.4 603.4,270.9 603.2,270.1 603.0,270.7 602.8,270.2 602.7,269.4 602.5,269.5 602.3,269.4 602.1,270.5 601.9,268.8 601.8,270.3 601.6,269.2 601.4,270.7 601.2,269.8 601.1,267.8 600.9,269.1 600.7,268.2 600.5,270.1 600.4,268.1 600.2,267.8 600.0,266.1 599.8,268.9 599.6,266.6 599.5,266.4 599.3,266.0 599.1,268.0 598.9,266.2 598.8,263.6 598.6,265.9 598.4,265.6 598.2,266.2 598.1,265.6 597.9,267.0 597.7,266.8 597.5,266.4 597.3,264.5 597.2,265.7 597.0,266.0 596.8,263.4 596.6,264.4 596.5,263.9 596.3,262.0 596.1,261.9 595.9,260.8 595.8,261.4 595.6,258.6 595.4,259.9 595.2,256.6 595.1,258.8 594.9,259.6 594.7,256.6 594.5,258.8 594.3,256.2 594.2,255.7 594.0,256.0 593.8,256.0 593.6,254.8 593.5,256.2 593.3,254.6 593.1,258.5 592.9,257.7 592.8,256.2 592.6,256.8 592.4,256.7 592.2,255.8 592.0,256.4 591.9,253.8 591.7,255.6 591.5,256.2 591.3,255.2 591.2,257.0 591.0,257.7 590.8,255.2 590.6,255.8 590.5,255.2 590.3,256.4 590.1,255.3 589.9,254.5 589.7,256.3 589.6,257.7 589.4,255.8 589.2,254.5 589.0,255.7 588.9,255.6 588.7,256.1 588.5,255.5 588.3,254.4 588.2,258.0 588.0,256.0 587.8,256.7 587.6,255.4 587.4,257.5 587.3,259.5 587.1,256.3 586.9,258.1 586.7,255.9 586.6,257.6 586.4,256.3 586.2,256.8 586.0,256.3 585.9,258.3 585.7,257.6 585.5,257.7 585.3,258.4 585.2,257.1 585.0,257.9 584.8,257.8 584.6,258.7 584.4,259.9 584.3,260.8 584.1,257.7 583.9,258.7 583.7,262.6 583.6,261.1 583.4,259.6 583.2,259.9 583.0,259.8 582.9,259.9 582.7,260.6 582.5,261.2 582.3,260.9 582.1,259.7 582.0,259.9 581.8,261.3 581.6,259.7 581.4,259.8 581.3,258.3 581.1,257.9 580.9,257.7 580.7,260.0 580.6,255.6 580.4,256.4 580.2,258.3 580.0,255.4 579.8,256.9 579.7,254.9 579.5,253.5 579.3,252.5 579.1,252.8 579.0,248.6 578.8,247.5 578.6,247.2 578.4,246.1 578.3,244.4 578.1,243.2 577.9,243.0 577.7,240.9 577.5,239.1 577.4,239.4 577.2,241.2 577.0,240.1 576.8,243.1 576.7,241.1 576.5,243.5 576.3,243.1 576.1,243.0 576.0,245.3 575.8,244.5 575.6,246.8 575.4,247.5 575.2,247.5 575.1,251.0 574.9,251.0 574.7,250.9 574.5,251.1 574.4,251.4 574.2,250.1 574.0,253.2 573.8,251.8 573.7,252.9 573.5,253.4 573.3,254.4 573.1,252.3 573.0,254.0 572.8,254.3 572.6,253.6 572.4,253.9 572.2,255.6 572.1,252.9 571.9,254.7 571.7,254.7 571.5,253.2 571.4,253.1 571.2,254.7 571.0,256.0 570.8,256.8 570.7,256.9 570.5,257.1 570.3,257.0 570.1,256.1 569.9,258.2 569.8,260.0 569.6,257.9 569.4,260.5 569.2,261.1 569.1,258.7 568.9,261.3 568.7,262.1 568.5,262.8 568.4,263.3 568.2,261.8 568.0,264.8 567.8,265.9 567.6,265.0 567.5,267.2 567.3,265.2 567.1,268.4 566.9,266.8 566.8,266.1 566.6,268.7 566.4,268.7 566.2,269.5 566.1,270.0 565.9,269.0 565.7,271.2 565.5,269.0 565.3,270.7 565.2,270.5 565.0,267.4 564.8,269.0 564.6,268.0 564.5,271.4 564.3,269.9 564.1,270.6 563.9,270.0 563.8,269.9 563.6,271.5 563.4,269.4 563.2,269.8 563.1,269.5 562.9,270.2 562.7,267.8 562.5,268.5 562.3,269.3 562.2,268.1 562.0,269.5 561.8,268.0 561.6,271.2 561.5,268.1 561.3,269.5 561.1,268.4 560.9,269.4 560.8,269.2 560.6,269.7 560.4,268.9 560.2,268.8 560.0,268.1 559.9,269.3 559.7,269.4 559.5,270.7 559.3,268.5 559.2,270.3 559.0,272.3 558.8,269.5 558.6,269.2 558.5,269.1 558.3,272.2 558.1,270.0 557.9,272.2 557.7,271.3 557.6,271.8 557.4,268.7 557.2,269.2 557.0,269.6 556.9,270.4 556.7,272.4 556.5,268.5 556.3,269.0 556.2,269.4 556.0,270.2 555.8,271.8 555.6,269.5 555.4,269.7 555.3,270.9 555.1,270.2 554.9,271.1 554.7,273.0 554.6,271.3 554.4,270.8 554.2,273.1 554.0,271.4 553.9,270.6 553.7,269.5 553.5,269.7 553.3,270.8 553.2,269.5 553.0,268.2 552.8,268.1 552.6,267.5 552.4,267.2 552.3,269.1 552.1,267.3 551.9,268.3 551.7,268.4 551.6,270.3 551.4,268.6 551.2,266.5 551.0,268.7 550.9,266.7 550.7,266.9 550.5,268.7 550.3,266.7 550.1,268.4 550.0,267.8 549.8,268.4 549.6,269.5 549.4,269.4 549.3,268.4 549.1,267.6 548.9,270.4 548.7,267.9 548.6,270.8 548.4,268.9 548.2,268.9 548.0,271.0 547.8,270.3 547.7,271.9 547.5,270.0 547.3,270.8 547.1,271.1 547.0,270.9 546.8,272.6 546.6,272.9 546.4,271.8 546.3,273.3 546.1,274.5 545.9,274.7 545.7,273.3 545.5,275.5 545.4,275.9 545.2,275.4 545.0,276.3 544.8,272.9 544.7,273.0 544.5,275.5 544.3,275.3 544.1,276.7 544.0,277.7 543.8,277.1 543.6,278.1 543.4,279.0 543.2,279.7 543.1,279.3 542.9,278.4 542.7,278.8 542.5,279.4 542.4,280.1 542.2,283.6 542.0,281.9 541.8,280.7 541.7,285.6 541.5,281.5 541.3,283.4 541.1,281.4 541.0,283.5 540.8,285.5 540.6,282.8 540.4,284.5 540.2,285.7 540.1,287.0 539.9,286.1 539.7,286.1 539.5,288.9 539.4,289.1 539.2,288.0 539.0,288.4 538.8,289.1 538.7,287.4 538.5,288.1 538.3,287.0 538.1,289.1 537.9,289.3 537.8,288.2 537.6,287.6 537.4,286.5 537.2,288.2 537.1,285.6 536.9,284.9 536.7,286.3 536.5,283.2 536.4,284.0 536.2,282.4 536.0,279.8 535.8,279.1 535.6,278.3 535.5,278.2 535.3,276.3 535.1,273.8 534.9,272.6 534.8,272.4 534.6,274.0 534.4,271.7 534.2,272.0 534.1,272.7 533.9,273.1 533.7,273.6 533.5,272.9 533.3,275.1 533.2,275.9 533.0,275.6 532.8,278.0 532.6,278.7 532.5,280.3 532.3,281.8 532.1,282.5 531.9,283.5 531.8,283.7 531.6,284.7 531.4,281.8 531.2,284.2 531.1,281.2 530.9,283.5 530.7,283.9 530.5,286.3 530.3,285.8 530.2,285.0 530.0,284.8 529.8,286.1 529.6,287.1 529.5,288.1 529.3,285.4 529.1,286.4 528.9,286.6 528.8,287.6 528.6,289.3 528.4,289.1 528.2,286.2 528.0,288.2 527.9,288.4 527.7,290.7 527.5,290.4 527.3,287.4 527.2,290.9 527.0,292.3 526.8,292.6 526.6,290.8 526.5,293.8 526.3,292.5 526.1,294.0 525.9,292.4 525.7,294.3 525.6,297.4 525.4,295.2 525.2,295.6 525.0,297.6 524.9,298.3 524.7,297.8 524.5,298.3 524.3,299.3 524.2,300.6 524.0,299.6 523.8,300.3 523.6,299.7 523.4,299.2 523.3,302.6 523.1,302.3 522.9,302.4 522.7,300.5 522.6,302.1 522.4,303.0 522.2,302.8 522.0,302.8 521.9,303.0 521.7,304.0 521.5,302.4 521.3,303.2 521.2,301.1 521.0,303.6 520.8,303.0 520.6,303.1 520.4,303.5 520.3,302.0 520.1,304.0 519.9,303.4 519.7,303.0 519.6,304.7 519.4,302.6 519.2,303.9 519.0,301.5 518.9,303.0 518.7,302.9 518.5,301.6 518.3,301.5 518.1,301.3 518.0,301.5 517.8,302.8 517.6,303.5 517.4,302.3 517.3,302.2 517.1,303.0 516.9,302.6 516.7,303.3 516.6,301.0 516.4,302.8 516.2,304.2 516.0,303.5 515.8,301.9 515.7,303.6 515.5,303.7 515.3,304.6 515.1,304.9 515.0,304.5 514.8,305.6 514.6,305.7 514.4,305.8 514.3,304.1 514.1,304.3 513.9,302.5 513.7,305.4 513.5,303.9 513.4,304.8 513.2,305.2 513.0,303.5 512.8,302.9 512.7,301.7 512.5,306.3 512.3,305.5 512.1,304.2 512.0,304.6 511.8,306.7 511.6,307.1 511.4,306.0 511.2,306.1 511.1,305.9 510.9,304.9 510.7,306.7 510.5,303.4 510.4,303.9 510.2,305.5 510.0,303.1 509.8,305.5 509.7,302.1 509.5,303.2 509.3,302.8 509.1,303.0 509.0,301.8 508.8,304.3 508.6,304.1 508.4,301.7 508.2,301.6 508.1,302.2 507.9,302.1 507.7,303.5 507.5,302.0 507.4,301.9 507.2,304.6 507.0,302.8 506.8,304.1 506.7,305.7 506.5,305.4 506.3,304.6 506.1,305.9 505.9,306.4 505.8,305.5 505.6,306.1 505.4,305.4 505.2,308.3 505.1,309.1 504.9,307.2 504.7,307.7 504.5,309.3 504.4,309.3 504.2,309.2 504.0,310.8 503.8,307.8 503.6,309.7 503.5,311.2 503.3,311.7 503.1,311.7 502.9,310.8 502.8,310.1 502.6,311.9 502.4,312.8 502.2,312.5 502.1,312.4 501.9,311.4 501.7,314.7 501.5,311.8 501.3,311.5 501.2,313.1 501.0,315.6 500.8,314.9 500.6,315.1 500.5,317.3 500.3,316.0 500.1,317.8 499.9,317.0 499.8,317.9 499.6,318.1 499.4,318.4 499.2,317.9 499.1,318.3 498.9,319.7 498.7,318.6 498.5,319.0 498.3,322.0 498.2,319.7 498.0,319.5 497.8,321.9 497.6,322.1 497.5,320.1 497.3,322.2 497.1,319.7 496.9,322.8 496.8,323.0 496.6,324.7 496.4,321.9 496.2,324.2 496.0,325.4 495.9,323.4 495.7,321.3 495.5,323.5 495.3,324.9 495.2,323.6 495.0,320.8 494.8,325.5 494.6,321.4 494.5,322.4 494.3,321.6 494.1,322.8 493.9,320.0 493.7,322.3 493.6,320.6 493.4,319.6 493.2,318.5 493.0,317.5 492.9,314.6 492.7,313.6 492.5,312.1 492.3,311.6 492.2,309.9 492.0,310.5 491.8,308.1 491.6,307.3 491.4,308.2 491.3,308.1 491.1,308.7 490.9,307.8 490.7,309.5 490.6,307.3 490.4,312.2 490.2,310.3 490.0,309.3 489.9,311.5 489.7,312.3 489.5,315.7 489.3,311.2 489.1,315.4 489.0,317.2 488.8,317.8 488.6,317.8 488.4,316.5 488.3,318.4 488.1,318.5 487.9,317.7 487.7,320.0 487.6,318.1 487.4,319.8 487.2,320.4 487.0,318.7 486.9,318.9 486.7,318.4 486.5,319.5 486.3,319.6 486.1,320.0 486.0,320.8 485.8,319.3 485.6,319.7 485.4,321.1 485.3,322.2 485.1,320.2 484.9,320.9 484.7,321.3 484.6,319.9 484.4,321.6 484.2,323.0 484.0,321.4 483.8,321.1 483.7,323.1 483.5,319.5 483.3,324.6 483.1,325.3 483.0,327.6 482.8,327.0 482.6,329.4 482.4,325.1 482.3,328.3 482.1,328.9 481.9,328.6 481.7,331.0 481.5,329.3 481.4,331.2 481.2,333.0 481.0,333.4 480.8,333.9 480.7,335.8 480.5,335.1 480.3,337.0 480.1,335.3 480.0,337.6 479.8,334.1 479.6,337.3 479.4,335.3 479.2,338.0 479.1,338.3 478.9,337.0 478.7,338.1 478.5,337.8 478.4,336.8 478.2,336.6 478.0,336.3 477.8,337.6 477.7,339.5 477.5,337.8 477.3,338.3 477.1,336.8 477.0,337.9 476.8,338.7 476.6,338.7 476.4,338.1 476.2,339.2 476.1,337.8 475.9,337.0 475.7,338.8 475.5,336.6 475.4,337.6 475.2,336.7 475.0,337.2 474.8,338.8 474.7,337.4 474.5,337.9 474.3,338.3 474.1,337.5 473.9,339.8 473.8,338.3 473.6,340.9 473.4,338.9 473.2,338.3 473.1,339.1 472.9,341.3 472.7,341.6 472.5,339.1 472.4,340.6 472.2,341.3 472.0,339.7 471.8,340.3 471.6,341.7 471.5,342.7 471.3,340.2 471.1,339.6 470.9,338.8 470.8,339.7 470.6,339.4 470.4,340.2 470.2,343.3 470.1,340.2 469.9,338.3 469.7,341.7 469.5,340.2 469.3,338.7 469.2,340.0 469.0,342.6 468.8,340.8 468.6,341.6 468.5,341.2 468.3,341.6 468.1,341.4 467.9,341.3 467.8,340.8 467.6,339.8 467.4,339.5 467.2,340.4 467.1,340.7 466.9,340.1 466.7,340.7 466.5,339.4 466.3,340.5 466.2,335.7 466.0,336.0 465.8,338.3 465.6,336.0 465.5,337.2 465.3,338.1 465.1,338.2 464.9,336.2 464.8,337.3 464.6,336.2 464.4,338.1 464.2,336.8 464.0,336.0 463.9,336.4 463.7,336.8 463.5,340.2 463.3,339.1 463.2,341.5 463.0,339.3 462.8,339.8 462.6,340.1 462.5,340.9 462.3,339.5 462.1,340.1 461.9,340.1 461.7,341.0 461.6,342.0 461.4,341.7 461.2,340.6 461.0,342.7 460.9,343.9 460.7,342.3 460.5,341.5 460.3,342.4 460.2,343.8 460.0,343.1 459.8,344.7 459.6,344.7 459.4,344.5 459.3,347.3 459.1,345.1 458.9,344.7 458.7,346.1 458.6,345.4 458.4,346.5 458.2,347.2 458.0,346.6 457.9,346.9 457.7,349.9 457.5,348.8 457.3,348.0 457.1,349.4 457.0,348.2 456.8,350.6 456.6,352.5 456.4,351.1 456.3,350.8 456.1,350.8 455.9,352.8 455.7,352.2 455.6,353.9 455.4,351.1 455.2,354.1 455.0,355.9 454.9,355.2 454.7,355.5 454.5,354.9 454.3,354.6 454.1,356.9 454.0,356.4 453.8,356.6 453.6,359.0 453.4,357.9 453.3,360.3 453.1,357.4 452.9,358.7 452.7,356.8 452.6,357.4 452.4,359.6 452.2,356.5 452.0,359.1 451.8,358.4 451.7,358.6 451.5,355.7 451.3,357.3 451.1,356.9 451.0,358.1 450.8,357.7 450.6,356.4 450.4,355.4 450.3,353.8 450.1,352.6 449.9,350.2 449.7,351.6 449.5,349.2 449.4,347.8 449.2,344.5 449.0,346.3 448.8,345.2 448.7,342.5 448.5,343.5 448.3,343.0 448.1,342.9 448.0,342.4 447.8,345.5 447.6,344.2 447.4,345.3 447.2,346.7 447.1,345.1 446.9,345.2 446.7,347.8 446.5,348.8 446.4,349.0 446.2,351.9 446.0,349.7 445.8,351.5 445.7,352.1 445.5,352.9 445.3,352.2 445.1,352.1 445.0,354.5 444.8,352.2 444.6,352.7 444.4,353.7 444.2,355.1 444.1,355.5 443.9,354.3 443.7,354.5 443.5,355.1 443.4,355.1 443.2,354.8 443.0,356.1 442.8,356.2 442.7,354.8 442.5,355.5 442.3,357.1 442.1,355.3 441.9,356.8 441.8,357.0 441.6,355.9 441.4,357.5 441.2,359.5 441.1,358.5 440.9,358.0 440.7,357.3 440.5,360.2 440.4,359.7 440.2,360.8 440.0,358.7 439.8,360.3 439.6,361.6 439.5,360.3 439.3,361.5 439.1,364.2 438.9,364.5 438.8,364.5 438.6,364.5 438.4,366.0 438.2,366.0 438.1,368.8 437.9,368.2 437.7,368.2 437.5,368.6 437.3,368.6 437.2,369.9 437.0,369.2 436.8,371.7 436.6,371.3 436.5,370.7 436.3,372.2 436.1,371.7 435.9,370.5 435.8,373.1 435.6,372.7 435.4,374.3 435.2,371.8 435.1,373.8 434.9,374.1 434.7,374.7 434.5,374.9 434.3,374.4 434.2,374.7 434.0,373.8 433.8,372.7 433.6,373.2 433.5,372.8 433.3,374.8 433.1,373.9 432.9,371.8 432.8,372.3 432.6,373.4 432.4,371.8 432.2,371.0 432.0,371.6 431.9,372.2 431.7,372.0 431.5,369.8 431.3,370.5 431.2,371.7 431.0,373.0 430.8,370.9 430.6,371.7 430.5,370.2 430.3,370.3 430.1,372.0 429.9,372.3 429.7,367.5 429.6,370.2 429.4,372.4 429.2,373.5 429.0,372.1 428.9,371.9 428.7,369.9 428.5,371.2 428.3,370.0 428.2,371.4 428.0,369.9 427.8,371.5 427.6,370.9 427.4,370.2 427.3,368.3 427.1,371.2 426.9,369.4 426.7,368.3 426.6,369.5 426.4,369.0 426.2,368.0 426.0,371.0 425.9,370.8 425.7,368.4 425.5,367.6 425.3,370.1 425.1,371.5 425.0,367.7 424.8,369.4 424.6,367.4 424.4,364.8 424.3,365.7 424.1,367.4 423.9,368.0 423.7,365.9 423.6,367.1 423.4,365.5 423.2,363.2 423.0,363.4 422.9,364.5 422.7,363.6 422.5,363.4 422.3,362.6 422.1,362.6 422.0,359.9 421.8,362.5 421.6,362.2 421.4,360.5 421.3,360.6 421.1,362.0 420.9,359.3 420.7,360.3 420.6,362.3 420.4,362.0 420.2,364.2 420.0,363.2 419.8,362.2 419.7,364.2 419.5,361.1 419.3,364.2 419.1,363.7 419.0,361.9 418.8,362.0 418.6,364.0 418.4,364.1 418.3,363.4 418.1,362.4 417.9,362.8 417.7,364.5 417.5,362.4 417.4,363.1 417.2,363.5 417.0,363.9 416.8,365.6 416.7,364.3 416.5,362.5 416.3,365.2 416.1,362.4 416.0,366.7 415.8,363.2 415.6,366.0 415.4,365.0 415.2,364.6 415.1,368.1 414.9,365.5 414.7,364.9 414.5,366.0 414.4,367.6 414.2,366.4 414.0,367.6 413.8,366.8 413.7,368.4 413.5,369.2 413.3,367.2 413.1,370.0 413.0,370.5 412.8,368.5 412.6,368.6 412.4,372.3 412.2,368.4 412.1,370.0 411.9,369.3 411.7,370.9 411.5,371.1 411.4,370.2 411.2,371.3 411.0,372.2 410.8,369.8 410.7,370.5 410.5,368.1 410.3,369.8 410.1,368.0 409.9,368.1 409.8,366.3 409.6,367.5 409.4,366.3 409.2,364.0 409.1,362.6 408.9,361.7 408.7,365.4 408.5,362.6 408.4,364.3 408.2,362.6 408.0,362.8 407.8,361.6 407.6,360.4 407.5,359.2 407.3,358.0 407.1,354.8 406.9,353.8 406.8,352.6 406.6,347.7 406.4,348.0 406.2,345.9 406.1,345.3 405.9,344.6 405.7,344.7 405.5,344.6 405.3,340.1 405.2,341.5 405.0,340.6 404.8,342.1 404.6,342.5 404.5,339.1 404.3,341.9 404.1,340.4 403.9,341.7 403.8,341.5 403.6,339.7 403.4,344.9 403.2,344.6 403.0,343.7 402.9,347.0 402.7,346.6 402.5,345.4 402.3,345.5 402.2,346.9 402.0,346.0 401.8,343.9 401.6,344.4 401.5,342.4 401.3,342.6 401.1,342.9 400.9,343.9 400.8,343.5 400.6,343.5 400.4,341.8 400.2,341.7 400.0,341.1 399.9,342.0 399.7,340.5 399.5,342.0 399.3,339.7 399.2,341.0 399.0,340.7 398.8,340.3 398.6,341.4 398.5,340.6 398.3,340.2 398.1,341.0 397.9,339.7 397.7,339.3 397.6,339.4 397.4,341.8 397.2,337.4 397.0,340.9 396.9,340.4 396.7,339.9 396.5,340.3 396.3,340.0 396.2,340.1 396.0,338.5 395.8,339.9 395.6,340.6 395.4,340.8 395.3,343.4 395.1,343.2 394.9,342.6 394.7,342.0 394.6,343.9 394.4,342.0 394.2,344.0 394.0,343.4 393.9,343.9 393.7,341.7 393.5,344.7 393.3,342.6 393.1,340.7 393.0,341.1 392.8,340.0 392.6,339.5 392.4,339.5 392.3,339.9 392.1,339.6 391.9,339.8 391.7,338.2 391.6,337.2 391.4,338.0 391.2,337.8 391.0,336.6 390.9,335.9 390.7,335.5 390.5,334.8 390.3,334.9 390.1,332.9 390.0,334.6 389.8,331.3 389.6,332.9 389.4,331.8 389.3,330.4 389.1,331.1 388.9,332.2 388.7,330.1 388.6,331.0 388.4,329.6 388.2,329.9 388.0,325.2 387.8,329.1 387.7,325.9 387.5,325.4 387.3,326.7 387.1,324.6 387.0,323.9 386.8,327.0 386.6,326.1 386.4,324.7 386.3,325.9 386.1,328.8 385.9,326.3 385.7,328.0 385.5,329.3 385.4,328.2 385.2,327.0 385.0,327.2 384.8,328.1 384.7,328.8 384.5,328.6 384.3,329.1 384.1,329.3 384.0,328.7 383.8,330.2 383.6,330.6 383.4,332.4 383.2,333.3 383.1,334.0 382.9,333.3 382.7,331.6 382.5,334.9 382.4,334.6 382.2,336.3 382.0,334.5 381.8,336.5 381.7,337.3 381.5,335.6 381.3,338.3 381.1,335.7 381.0,335.6 380.8,337.4 380.6,336.9 380.4,334.7 380.2,337.7 380.1,335.6 379.9,337.4 379.7,336.8 379.5,337.1 379.4,336.5 379.2,337.6 379.0,337.9 378.8,336.3 378.7,339.0 378.5,340.0 378.3,341.0 378.1,338.0 377.9,338.5 377.8,342.0 377.6,338.3 377.4,341.1 377.2,343.0 377.1,341.4 376.9,343.2 376.7,341.8 376.5,343.6 376.4,345.8 376.2,345.6 376.0,346.5 375.8,345.9 375.6,344.6 375.5,348.1 375.3,346.9 375.1,349.6 374.9,349.2 374.8,351.5 374.6,350.4 374.4,349.4 374.2,350.6 374.1,352.8 373.9,350.8 373.7,352.3 373.5,353.4 373.3,356.6 373.2,352.6 373.0,354.8 372.8,355.3 372.6,355.7 372.5,356.4 372.3,356.3 372.1,356.8 371.9,358.5 371.8,359.3 371.6,361.1 371.4,361.2 371.2,362.4 371.0,361.5 370.9,363.3 370.7,364.0 370.5,366.2 370.3,364.5 370.2,364.4 370.0,366.2 369.8,365.5 369.6,366.8 369.5,368.9 369.3,368.1 369.1,369.0 368.9,372.3 368.8,371.2 368.6,371.2 368.4,370.8 368.2,371.5 368.0,372.3 367.9,374.3 367.7,375.2 367.5,375.7 367.3,375.5 367.2,376.5 367.0,377.0 366.8,378.1 366.6,376.3 366.5,379.9 366.3,377.4 366.1,380.0 365.9,380.3 365.7,378.2 365.6,379.5 365.4,378.8 365.2,378.6 365.0,377.9 364.9,380.2 364.7,376.8 364.5,378.5 364.3,377.5 364.2,377.7 364.0,375.2 363.8,374.8 363.6,372.7 363.4,372.6 363.3,371.0 363.1,372.9 362.9,369.2 362.7,371.7 362.6,369.5 362.4,368.6 362.2,369.7 362.0,369.6 361.9,370.0 361.7,370.5 361.5,370.6 361.3,373.6 361.1,370.3 361.0,373.1 360.8,375.3 360.6,375.3 360.4,375.0 360.3,377.3 360.1,379.8 359.9,378.8 359.7,378.7 359.6,382.4 359.4,380.0 359.2,383.1 359.0,382.4 358.9,383.3 358.7,384.6 358.5,383.9 358.3,383.1 358.1,384.9 358.0,384.7 357.8,384.4 357.6,385.6 357.4,384.8 357.3,383.8 357.1,387.6 356.9,385.7 356.7,386.6 356.6,387.7 356.4,390.6 356.2,386.3 356.0,386.5 355.8,387.0 355.7,387.8 355.5,389.6 355.3,390.2 355.1,390.2 355.0,390.1 354.8,391.6 354.6,391.7 354.4,392.7 354.3,392.9 354.1,395.6 353.9,395.6 353.7,393.9 353.5,396.3 353.4,396.4 353.2,394.7 353.0,396.9 352.8,399.3 352.7,399.2 352.5,399.2 352.3,399.5 352.1,403.2 352.0,402.2 351.8,403.3 351.6,404.2 351.4,403.6 351.2,405.8 351.1,405.6 350.9,404.3 350.7,406.6 350.5,407.5 350.4,409.1 350.2,407.4 350.0,407.0 349.8,407.1 349.7,408.5 349.5,408.7 349.3,409.0 349.1,408.3 349.0,410.9 348.8,410.1 348.6,409.1 348.4,410.6 348.2,409.9 348.1,412.6 347.9,409.9 347.7,413.5 347.5,411.2 347.4,412.1 347.2,412.0 347.0,411.7 346.8,412.4 346.7,412.5 346.5,412.4 346.3,413.4 346.1,414.0 345.9,413.9 345.8,414.9 345.6,416.2 345.4,415.3 345.2,414.9 345.1,414.7 344.9,413.7 344.7,415.4 344.5,416.0 344.4,416.7 344.2,415.6 344.0,416.0 343.8,419.8 343.6,417.9 343.5,418.7 343.3,419.0 343.1,418.6 342.9,419.6 342.8,419.1 342.6,422.5 342.4,421.0 342.2,422.5 342.1,418.4 341.9,422.7 341.7,420.8 341.5,420.4 341.3,420.7 341.2,422.8 341.0,424.3 340.8,423.1 340.6,422.2 340.5,425.3 340.3,423.8 340.1,422.1 339.9,423.6 339.8,425.0 339.6,429.4 339.4,425.0 339.2,426.2 339.0,425.1 338.9,427.0 338.7,427.1 338.5,427.2 338.3,426.8 338.2,425.0 338.0,427.9 337.8,427.7 337.6,427.2 337.5,427.7 337.3,427.7 337.1,428.3 336.9,426.4 336.8,424.5 336.6,427.1 336.4,426.8 336.2,426.9 336.0,427.3 335.9,428.0 335.7,429.1 335.5,428.0 335.3,429.9 335.2,429.1 335.0,429.2 334.8,430.4 334.6,429.1 334.5,432.7 334.3,431.3 334.1,431.9 333.9,432.0 333.7,434.8 333.6,431.5 333.4,433.0 333.2,434.1 333.0,434.0 332.9,434.2 332.7,433.9 332.5,435.8 332.3,435.6 332.2,436.9 332.0,434.9 331.8,437.6 331.6,438.1 331.4,436.9 331.3,441.5 331.1,441.2 330.9,441.2 330.7,441.6 330.6,441.9 330.4,443.3 330.2,441.6 330.0,445.2 329.9,443.8 329.7,445.6 329.5,444.3 329.3,444.9 329.1,445.8 329.0,448.0 328.8,447.7 328.6,448.1 328.4,449.0 328.3,450.1 328.1,447.7 327.9,449.3 327.7,451.8 327.6,452.5 327.4,454.2 327.2,453.8 327.0,452.7 326.9,454.3 326.7,453.5 326.5,456.4 326.3,459.2 326.1,457.3 326.0,459.5 325.8,458.6 325.6,458.6 325.4,457.6 325.3,459.1 325.1,458.5 324.9,461.2 324.7,463.0 324.6,464.3 324.4,464.7 324.2,464.4 324.0,464.8 323.8,465.0 323.7,466.2 323.5,465.6 323.3,466.3 323.1,463.1 323.0,467.4 322.8,467.5 322.6,466.7 322.4,465.7 322.3,467.2 322.1,465.8 321.9,463.9 321.7,465.6 321.5,464.2 321.4,464.1 321.2,465.9 321.0,462.4 320.8,462.4 320.7,463.8 320.5,458.7 320.3,461.5 320.1,461.1 320.0,460.0 319.8,457.8 319.6,457.9 319.4,456.0 319.2,456.0 319.1,455.8 318.9,456.4 318.7,456.5 318.5,459.3 318.4,459.0 318.2,460.0 318.0,460.7 317.8,461.0 317.7,461.5 317.5,462.4 317.3,464.8 317.1,464.1 316.9,465.6 316.8,467.0 316.6,467.3 316.4,466.9 316.2,468.4 316.1,469.6 315.9,471.1 315.7,471.3 315.5,471.8 315.4,472.6 315.2,471.3 315.0,471.9 314.8,473.6 314.7,472.6 314.5,472.0 314.3,473.7 314.1,473.8 313.9,474.2 313.8,473.6 313.6,476.3 313.4,474.6 313.2,473.9 313.1,475.5 312.9,475.0 312.7,475.5 312.5,478.4 312.4,476.8 312.2,478.2 312.0,479.3 311.8,478.4 311.6,479.8 311.5,480.2 311.3,481.1 311.1,484.3 310.9,483.1 310.8,483.2 310.6,484.6 310.4,485.8 310.2,485.0 310.1,487.7 309.9,488.7 309.7,488.1 309.5,487.9 309.3,491.0 309.2,490.3 309.0,490.6 308.8,491.9 308.6,491.4 308.5,494.0 308.3,493.6 308.1,492.6 307.9,495.6 307.8,494.9 307.6,492.4 307.4,495.9 307.2,495.2 307.0,495.1 306.9,495.1 306.7,497.5 306.5,498.1 306.3,496.2 306.2,496.9 306.0,498.4 305.8,495.8 305.6,498.0 305.5,494.7 305.3,496.1 305.1,496.7 304.9,496.9 304.8,497.9 304.6,497.0 304.4,496.2 304.2,496.7 304.0,495.8 303.9,496.8 303.7,496.4 303.5,495.9 303.3,496.2 303.2,496.4 303.0,495.3 302.8,497.7 302.6,496.5 302.5,495.7 302.3,497.6 302.1,495.1 301.9,497.9 301.7,496.4 301.6,496.7 301.4,495.2 301.2,496.9 301.0,499.4 300.9,498.1 300.7,498.7 300.5,498.1 300.3,498.9 300.2,498.0 300.0,499.1 299.8,499.3 299.6,501.9 299.4,499.4 299.3,500.3 299.1,500.7 298.9,499.9 298.7,498.8 298.6,497.3 298.4,497.9 298.2,499.0 298.0,498.8 297.9,500.9 297.7,498.8 297.5,501.7 297.3,501.0 297.1,499.7 297.0,500.3 296.8,501.0 296.6,501.1 296.4,501.1 296.3,498.7 296.1,501.2 295.9,501.1 295.7,500.6 295.6,499.8 295.4,499.8 295.2,500.0 295.0,499.1 294.9,499.3 294.7,498.6 294.5,498.8 294.3,500.0 294.1,499.9 294.0,498.4 293.8,499.3 293.6,498.8 293.4,500.2 293.3,498.7 293.1,497.3 292.9,498.3 292.7,497.1 292.6,498.7 292.4,497.6 292.2,500.4 292.0,500.1 291.8,499.1 291.7,499.5 291.5,501.8 291.3,499.4 291.1,500.1 291.0,499.0 290.8,500.1 290.6,501.5 290.4,500.6 290.3,500.3 290.1,500.5 289.9,501.4 289.7,500.9 289.5,500.0 289.4,500.2 289.2,499.5 289.0,498.3 288.8,503.2 288.7,501.6 288.5,500.3 288.3,500.3 288.1,501.4 288.0,502.0 287.8,502.0 287.6,500.9 287.4,501.0 287.2,502.1 287.1,502.6 286.9,503.2 286.7,504.0 286.5,500.8 286.4,504.2 286.2,503.4 286.0,504.3 285.8,504.7 285.7,503.4 285.5,505.3 285.3,504.3 285.1,504.7 284.9,503.7 284.8,507.8 284.6,504.1 284.4,505.3 284.2,507.1 284.1,503.7 283.9,507.3 283.7,505.5 283.5,505.5 283.4,508.7 283.2,507.5 283.0,506.1 282.8,509.8 282.7,507.6 282.5,509.7 282.3,508.1 282.1,508.3 281.9,508.4 281.8,511.0 281.6,508.6 281.4,509.3 281.2,511.3 281.1,510.2 280.9,510.0 280.7,508.4 280.5,508.5 280.4,510.8 280.2,511.6 280.0,508.4 279.8,509.1 279.6,507.8 279.5,508.0 279.3,508.8 279.1,507.6 278.9,507.7 278.8,506.8 278.6,506.5 278.4,505.4 278.2,507.0 278.1,504.7 277.9,501.3 277.7,500.8 277.5,497.3 277.3,495.3 277.2,495.7 277.0,496.4 276.8,493.5 276.6,492.3 276.5,493.3 276.3,491.4 276.1,491.3 275.9,492.2 275.8,491.0 275.6,490.9 275.4,492.3 275.2,493.1 275.0,493.6 274.9,493.4 274.7,495.3 274.5,495.4 274.3,492.6 274.2,497.2 274.0,498.5 273.8,498.7 273.6,500.0 273.5,503.0 273.3,499.5 273.1,498.8 272.9,498.4 272.8,500.8 272.6,502.4 272.4,500.1 272.2,501.2 272.0,503.3 271.9,499.5 271.7,500.8 271.5,501.2 271.3,502.3 271.2,503.8 271.0,499.8 270.8,502.6 270.6,505.5 270.5,501.8 270.3,502.2 270.1,501.0 269.9,501.3 269.7,503.9 269.6,501.0 269.4,502.0 269.2,502.7 269.0,502.9 268.9,505.4 268.7,504.5 268.5,502.3 268.3,505.5 268.2,505.5 268.0,505.7 267.8,506.8 267.6,507.8 267.4,507.1 267.3,509.1 267.1,507.3 266.9,510.4 266.7,508.5 266.6,510.7 266.4,512.7 266.2,508.9 266.0,511.5 265.9,510.7 265.7,512.1 265.5,511.8 265.3,513.6 265.1,513.4 265.0,514.9 264.8,513.4 264.6,512.3 264.4,512.3 264.3,515.3 264.1,512.6 263.9,513.6 263.7,513.3 263.6,514.1 263.4,514.7 263.2,511.8 263.0,511.9 262.9,513.2 262.7,511.5 262.5,512.7 262.3,513.1 262.1,512.5 262.0,513.6 261.8,510.7 261.6,513.0 261.4,511.3 261.3,510.8 261.1,510.8 260.9,513.2 260.7,512.7 260.6,509.5 260.4,512.1 260.2,509.8 260.0,512.9 259.8,510.7 259.7,509.4 259.5,510.1 259.3,508.3 259.1,510.7 259.0,510.1 258.8,508.0 258.6,510.1 258.4,508.5 258.3,509.5 258.1,509.6 257.9,508.9 257.7,508.8 257.5,508.2 257.4,507.4 257.2,511.7 257.0,510.6 256.8,511.3 256.7,509.0 256.5,510.5 256.3,510.9 256.1,507.3 256.0,507.4 255.8,506.9 255.6,509.2 255.4,508.9 255.2,508.1 255.1,507.2 254.9,510.0 254.7,507.0 254.5,506.9 254.4,508.4 254.2,507.4 254.0,506.9 253.8,509.4 253.7,508.5 253.5,508.4 253.3,506.2 253.1,507.4 252.9,507.8 252.8,509.7 252.6,509.2 252.4,507.8 252.2,507.9 252.1,506.0 251.9,504.3 251.7,505.6 251.5,503.9 251.4,505.2 251.2,503.5 251.0,503.8 250.8,505.7 250.7,504.0 250.5,503.3 250.3,500.2 250.1,501.3 249.9,501.6 249.8,501.4 249.6,501.4 249.4,503.3 249.2,503.0 249.1,499.5 248.9,502.1 248.7,501.6 248.5,503.1 248.4,502.7 248.2,501.0 248.0,500.7 247.8,503.2 247.6,503.2 247.5,503.1 247.3,501.9 247.1,504.4 246.9,501.7 246.8,502.3 246.6,501.9 246.4,503.3 246.2,503.5 246.1,503.0 245.9,504.5 245.7,504.0 245.5,503.8 245.3,503.3 245.2,503.8 245.0,502.8 244.8,503.8 244.6,504.8 244.5,504.9 244.3,503.9 244.1,504.3 243.9,507.0 243.8,505.4 243.6,504.2 243.4,506.9 243.2,508.2 243.0,508.8 242.9,505.6 242.7,507.0 242.5,507.1 242.3,508.4 242.2,506.9 242.0,509.2 241.8,509.8 241.6,506.7 241.5,506.7 241.3,509.9 241.1,510.5 240.9,508.8 240.8,510.3 240.6,511.9 240.4,510.5 240.2,510.5 240.0,512.1 239.9,512.4 239.7,511.6 239.5,512.0 239.3,513.3 239.2,510.5 239.0,510.9 238.8,512.9 238.6,512.1 238.5,513.8 238.3,513.2 238.1,512.9 237.9,512.4 237.7,514.9 237.6,511.4 237.4,513.4 237.2,513.9 237.0,511.0 236.9,513.6 236.7,510.8 236.5,510.0 236.3,509.8 236.2,510.6 236.0,512.5 235.8,511.0 235.6,511.1 235.4,509.9 235.3,508.9 235.1,508.4 234.9,505.1 234.7,504.1 234.6,503.1 234.4,501.0 234.2,500.0 234.0,498.0 233.9,498.0 233.7,498.7 233.5,493.9 233.3,495.6 233.1,495.2 233.0,492.9 232.8,493.2 232.6,494.2 232.4,495.9 232.3,495.7 232.1,496.1 231.9,497.9 231.7,496.5 231.6,497.5 231.4,499.7 231.2,497.7 231.0,500.7 230.8,501.9 230.7,503.3 230.5,502.7 230.3,502.4 230.1,504.0 230.0,504.7 229.8,505.5 229.6,504.6 229.4,503.6 229.3,505.6 229.1,504.6 228.9,505.1 228.7,505.1 228.6,505.9 228.4,506.9 228.2,505.4 228.0,501.3 227.8,505.9 227.7,505.8 227.5,505.2 227.3,504.6 227.1,507.6 227.0,505.7 226.8,505.7 226.6,508.1 226.4,504.9 226.3,506.6 226.1,508.0 225.9,507.1 225.7,509.6 225.5,507.5 225.4,511.7 225.2,507.4 225.0,508.2 224.8,509.2 224.7,509.1 224.5,511.2 224.3,510.9 224.1,512.0 224.0,511.7 223.8,511.0 223.6,512.4 223.4,511.5 223.2,511.5 223.1,514.1 222.9,512.4 222.7,514.7 222.5,515.4 222.4,515.5 222.2,515.3 222.0,517.3 221.8,516.4 221.7,515.9 221.5,514.6 221.3,516.4 221.1,516.9 220.9,516.9 220.8,515.4 220.6,514.0 220.4,514.3 220.2,515.8 220.1,515.9 219.9,516.5 219.7,515.3 219.5,514.6 219.4,514.7 219.2,514.2 219.0,514.6 218.8,513.5 218.7,514.5 218.5,516.9 218.3,514.0 218.1,515.5 217.9,514.5 217.8,512.8 217.6,513.8 217.4,514.1 217.2,513.9 217.1,511.6 216.9,511.2 216.7,514.6 216.5,511.7 216.4,512.3 216.2,514.0 216.0,513.9 215.8,513.0 215.6,511.8 215.5,513.2 215.3,511.0 215.1,510.7 214.9,510.6 214.8,511.0 214.6,511.9 214.4,510.9 214.2,510.7 214.1,510.0 213.9,515.0 213.7,513.4 213.5,514.6 213.3,512.8 213.2,513.1 213.0,512.0 212.8,511.4 212.6,512.6 212.5,510.1 212.3,511.3 212.1,511.4 211.9,508.8 211.8,508.3 211.6,510.7 211.4,509.7 211.2,509.7 211.0,509.8 210.9,511.7 210.7,511.2 210.5,511.1 210.3,511.8 210.2,512.8 210.0,510.4 209.8,510.6 209.6,512.0 209.5,511.1 209.3,510.5 209.1,511.0 208.9,510.3 208.8,509.9 208.6,510.1 208.4,507.1 208.2,506.8 208.0,508.2 207.9,505.9 207.7,507.4 207.5,503.6 207.3,504.9 207.2,502.6 207.0,505.8 206.8,504.0 206.6,505.0 206.5,503.3 206.3,505.0 206.1,505.2 205.9,506.7 205.7,505.6 205.6,502.9 205.4,507.0 205.2,504.6 205.0,505.1 204.9,504.5 204.7,504.9 204.5,506.1 204.3,504.7 204.2,505.2 204.0,503.8 203.8,507.1 203.6,505.0 203.4,505.4 203.3,507.2 203.1,505.2 202.9,504.5 202.7,505.6 202.6,504.8 202.4,506.2 202.2,506.5 202.0,506.2 201.9,508.2 201.7,506.8 201.5,508.2 201.3,505.9 201.1,506.8 201.0,509.2 200.8,507.1 200.6,508.7 200.4,510.8 200.3,506.5 200.1,510.0 199.9,509.2 199.7,509.2 199.6,509.8 199.4,508.6 199.2,510.3 199.0,511.3 198.8,511.4 198.7,510.6 198.5,511.3 198.3,511.9 198.1,509.7 198.0,510.3 197.8,512.5 197.6,510.5 197.4,513.5 197.3,513.9 197.1,511.8 196.9,511.5 196.7,513.6 196.6,513.9 196.4,513.9 196.2,515.1 196.0,515.5 195.8,515.9 195.7,514.4 195.5,514.8 195.3,514.5 195.1,517.8 195.0,515.5 194.8,516.2 194.6,516.9 194.4,514.8 194.3,516.1 194.1,516.7 193.9,514.4 193.7,513.3 193.5,514.5 193.4,515.5 193.2,514.7 193.0,515.3 192.8,511.9 192.7,511.9 192.5,512.1 192.3,510.7 192.1,510.2 192.0,509.6 191.8,508.5 191.6,506.0 191.4,502.4 191.2,504.1 191.1,501.5 190.9,500.2 190.7,501.3 190.5,498.4 190.4,497.9 190.2,495.9 190.0,498.2 189.8,495.3 189.7,496.0 189.5,497.2 189.3,496.1 189.1,498.3 188.9,498.9 188.8,499.0 188.6,500.0 188.4,501.0 188.2,499.4 188.1,503.6 187.9,503.2 187.7,506.0 187.5,504.4 187.4,504.0 187.2,505.9 187.0,505.3 186.8,505.5 186.7,505.5 186.5,506.3 186.3,506.4 186.1,507.4 185.9,505.1 185.8,505.5 185.6,506.0 185.4,505.2 185.2,505.1 185.1,505.6 184.9,506.0 184.7,506.3 184.5,506.0 184.4,505.2 184.2,505.0 184.0,504.5 183.8,506.3 183.6,505.0 183.5,506.3 183.3,508.5 183.1,506.4 182.9,505.3 182.8,506.7 182.6,508.3 182.4,506.8 182.2,508.5 182.1,508.6 181.9,509.4 181.7,508.4 181.5,509.2 181.3,510.8 181.2,509.4 181.0,510.7 180.8,509.8 180.6,511.6 180.5,511.0 180.3,511.4 180.1,512.4 179.9,511.8 179.8,511.9 179.6,514.5 179.4,513.6 179.2,515.5 179.0,514.9 178.9,513.5 178.7,515.0 178.5,512.7 178.3,514.7 178.2,514.7 178.0,513.1 177.8,516.7 177.6,514.1 177.5,511.6 177.3,513.7 177.1,511.9 176.9,514.5 176.8,514.0 176.6,513.7 176.4,512.9 176.2,510.8 176.0,515.1 175.9,514.5 175.7,512.6 175.5,509.9 175.3,512.5 175.2,510.3 175.0,510.5 174.8,511.6 174.6,511.2 174.5,513.0 174.3,510.1 174.1,511.2 173.9,509.4 173.7,510.4 173.6,509.6 173.4,508.1 173.2,510.3 173.0,511.1 172.9,507.5 172.7,509.3 172.5,507.2 172.3,509.0 172.2,507.8 172.0,507.8 171.8,507.8 171.6,508.1 171.4,508.0 171.3,508.3 171.1,506.5 170.9,509.5 170.7,509.2 170.6,508.2 170.4,508.4 170.2,508.0 170.0,507.0 169.9,506.7 169.7,506.6 169.5,506.0 169.3,505.2 169.1,506.2 169.0,505.1 168.8,504.1 168.6,505.2 168.4,505.5 168.3,504.6 168.1,507.5 167.9,504.7 167.7,503.4 167.6,504.9 167.4,506.0 167.2,503.3 167.0,505.2 166.8,505.0 166.7,503.7 166.5,502.9 166.3,503.4 166.1,503.4 166.0,503.6 165.8,503.2 165.6,505.2 165.4,500.1 165.3,499.4 165.1,499.2 164.9,499.4 164.7,497.6 164.6,496.9 164.4,496.7 164.2,496.8 164.0,495.9 163.8,494.4 163.7,493.3 163.5,494.8 163.3,494.3 163.1,490.5 163.0,494.2 162.8,492.6 162.6,493.6 162.4,494.2 162.3,492.5 162.1,491.6 161.9,492.0 161.7,491.5 161.5,493.2 161.4,492.3 161.2,492.8 161.0,492.4 160.8,490.4 160.7,493.1 160.5,491.3 160.3,489.6 160.1,489.9 160.0,491.9 159.8,489.6 159.6,489.3 159.4,490.8 159.2,488.9 159.1,489.1 158.9,490.3 158.7,492.2 158.5,487.8 158.4,486.9 158.2,487.0 158.0,483.5 157.8,484.4 157.7,484.4 157.5,483.7 157.3,484.3 157.1,482.5 156.9,482.6 156.8,481.0 156.6,483.7 156.4,483.2 156.2,481.9 156.1,482.7 155.9,481.7 155.7,481.5 155.5,482.7 155.4,479.6 155.2,480.9 155.0,479.7 154.8,478.7 154.7,478.3 154.5,479.6 154.3,479.6 154.1,478.2 153.9,477.9 153.8,474.7 153.6,477.3 153.4,476.5 153.2,475.1 153.1,476.0 152.9,474.6 152.7,475.7 152.5,477.2 152.4,472.3 152.2,474.9 152.0,473.4 151.8,471.8 151.6,473.0 151.5,469.8 151.3,471.6 151.1,469.7 150.9,468.4 150.8,467.6 150.6,467.4 150.4,468.9 150.2,465.6 150.1,462.2 149.9,463.3 149.7,461.7 149.5,462.2 149.3,461.2 149.2,458.5 149.0,456.8 148.8,454.1 148.6,451.4 148.5,448.9 148.3,449.3 148.1,444.4 147.9,441.8 147.8,443.1 147.6,442.8 147.4,438.7 147.2,438.7 147.0,439.4 146.9,433.2 146.7,434.4 146.5,434.4 146.3,436.0 146.2,434.8 146.0,433.5 145.8,434.0 145.6,433.1 145.5,434.2 145.3,433.3 145.1,435.9 144.9,434.3 144.7,438.0 144.6,435.5 144.4,436.2 144.2,436.4 144.0,435.6 143.9,435.8 143.7,434.1 143.5,433.0 143.3,435.8 143.2,430.6 143.0,432.6 142.8,432.3 142.6,432.6 142.5,431.6 142.3,431.8 142.1,429.1 141.9,427.5 141.7,429.4 141.6,428.9 141.4,428.6 141.2,426.2 141.0,426.5 140.9,426.0 140.7,426.5 140.5,425.7 140.3,424.6 140.2,427.3 140.0,424.1 139.8,426.0 139.6,426.2 139.4,424.4 139.3,424.1 139.1,424.4 138.9,422.6 138.7,422.1 138.6,423.1 138.4,422.6 138.2,423.7 138.0,423.4 137.9,421.9 137.7,423.6 137.5,423.9 137.3,421.5 137.1,421.9 137.0,423.8 136.8,424.7 136.6,422.3 136.4,423.4 136.3,421.3 136.1,422.5 135.9,422.7 135.7,422.1 135.6,419.6 135.4,418.5 135.2,420.2 135.0,419.8 134.8,418.3 134.7,417.8 134.5,415.6 134.3,416.2 134.1,416.4 134.0,414.5 133.8,412.5 133.6,412.2 133.4,411.5 133.3,413.8 133.1,413.2 132.9,409.2 132.7,410.7 132.6,409.0 132.4,407.0 132.2,406.6 132.0,407.6 131.8,406.6 131.7,406.6 131.5,405.8 131.3,404.5 131.1,404.4 131.0,401.8 130.8,402.1 130.6,399.0 130.4,397.5 130.3,398.0 130.1,396.6 129.9,394.9 129.7,391.5 129.5,393.5 129.4,391.3 129.2,391.9 129.0,388.4 128.8,388.7 128.7,388.6 128.5,388.9 128.3,384.3 128.1,383.9 128.0,385.0 127.8,384.3 127.6,381.3 127.4,380.1 127.2,380.6 127.1,381.1 126.9,377.8 126.7,377.7 126.5,375.5 126.4,374.2 126.2,372.7 126.0,371.7 125.8,372.6 125.7,371.3 125.5,369.3 125.3,368.5 125.1,365.7 124.9,364.4 124.8,367.0 124.6,364.5 124.4,365.3 124.2,365.6 124.1,361.9 123.9,363.3 123.7,361.0 123.5,359.2 123.4,354.2 123.2,356.6 123.0,356.8 122.8,356.9 122.7,354.2 122.5,353.8 122.3,351.6 122.1,350.4 121.9,350.6 121.8,347.8 121.6,349.2 121.4,345.7 121.2,346.4 121.1,343.6 120.9,341.6 120.7,342.6 120.5,342.7 120.4,342.0 120.2,340.3 120.0,338.3 119.8,338.6 119.6,337.9 119.5,338.5 119.3,337.1 119.1,337.3 118.9,336.0 118.8,334.9 118.6,335.5 118.4,334.4 118.2,331.6 118.1,333.1 117.9,330.4 117.7,328.7 117.5,331.4 117.3,329.3 117.2,326.1 117.0,327.6 116.8,328.5 116.6,323.8 116.5,325.3 116.3,323.5 116.1,323.1 115.9,323.8 115.8,322.5 115.6,322.2 115.4,320.7 115.2,319.7 115.0,320.0 114.9,319.3 114.7,317.0 114.5,317.1 114.3,316.6 114.2,315.0 114.0,318.1 113.8,314.9 113.6,315.1 113.5,313.0 113.3,314.8 113.1,313.6 112.9,313.1 112.7,310.3 112.6,313.4 112.4,312.1 112.2,313.0 112.0,308.8 111.9,309.7 111.7,309.0 111.5,308.8 111.3,309.5 111.2,308.1 111.0,306.1 110.8,305.7Z" fill="#0072B2" fill-opacity="0.2" stroke="#0072B2" stroke-opacity="0.2" stroke-width="1.39" stroke-linejoin="round"/>
<path d="M923.3,120 L923.3,150 924,158 926,159.3 927.5,158.2 929.7,157.5 929.7,120Z" fill="#0072B2" fill-opacity="0.12"/>
<path d="M106.5,15.5V542.5M192.5,15.5V542.5M278.5,15.5V542.5M365.5,15.5V542.5M451.5,15.5V542.5M537.5,15.5V542.5M623.5,15.5V542.5M709.5,15.5V542.5M795.5,15.5V542.5M881.5,15.5V542.5M967.5,15.5V542.5" fill="none" stroke="#808080" stroke-opacity="0.2" stroke-width="1.39"/>
<path d="M71.5,505.5H970.5M71.5,433.5H970.5M71.5,361.5H970.5M71.5,289.5H970.5M71.5,217.5H970.5M71.5,145.5H970.5M71.5,73.5H970.5" fill="none" stroke="#808080" stroke-opacity="0.2" stroke-width="1.39"/>
<path d="M111.3,252.1h0M111.5,255.5h0M111.6,253.8h0M111.8,253.3h0M112.0,253.6h0M112.2,255.4h0M112.3,253.0h0M112.5,248.2h0M112.7,244.6h0M112.8,241.0h0M113.0,244.4h0M113.2,268.0h0M113.4,270.2h0M113.5,271.7h0M113.7,273.3h0M113.9,279.3h0M114.0,285.2h0M114.2,289.9h0M114.4,290.7h0M114.5,294.2h0M114.7,291.3h0M114.9,290.3h0M115.1,288.8h0M115.2,287.5h0M115.4,286.5h0M115.6,286.9h0M115.7,291.8h0M115.9,296.5h0M116.1,294.8h0M116.3,288.8h0M116.4,284.0h0M116.6,281.6h0M116.8,277.1h0M116.9,277.0h0M117.1,274.9h0M117.3,272.9h0M117.5,273.2h0M117.6,277.4h0M117.8,284.0h0M118.0,286.8h0M118.1,288.6h0M118.3,288.4h0M118.5,288.2h0M118.6,286.0h0M118.8,286.8h0M119.0,289.4h0M119.2,293.2h0M119.3,299.0h0M119.5,301.5h0M119.7,301.7h0M119.8,302.0h0M120.0,302.3h0M120.2,299.5h0M120.4,296.8h0M120.5,297.3h0M120.7,295.8h0M120.9,297.2h0M121.0,297.6h0M121.2,299.9h0M121.4,300.5h0M121.6,301.7h0M121.7,305.4h0M121.9,302.9h0M122.1,303.5h0M122.2,303.4h0M122.4,303.9h0M122.6,310.2h0M122.7,315.8h0M122.9,322.5h0M123.1,326.3h0M123.3,329.8h0M123.4,332.7h0M123.6,336.9h0M123.8,336.8h0M123.9,335.8h0M124.1,336.4h0M124.3,335.6h0M124.5,334.5h0M124.6,333.9h0M124.8,335.6h0M125.0,339.3h0M125.1,339.5h0M125.3,343.3h0M125.5,343.3h0M125.7,341.7h0M125.8,335.0h0M126.0,328.3h0M126.2,325.9h0M126.3,326.1h0M126.5,326.3h0M126.7,326.5h0M126.9,328.9h0M127.0,331.7h0M127.2,331.9h0M127.4,327.1h0M127.5,327.3h0M127.7,327.5h0M127.9,327.7h0M128.0,327.8h0M128.2,328.0h0M128.4,330.8h0M128.6,337.5h0M128.7,349.2h0M128.9,359.2h0M129.1,360.8h0M129.2,355.1h0M129.4,355.4h0M129.6,356.8h0M129.8,359.6h0M129.9,363.3h0M130.1,370.6h0M130.3,374.5h0M130.4,377.4h0M130.6,374.2h0M130.8,368.8h0M131.0,364.4h0M131.1,358.8h0M131.3,360.8h0M131.5,361.9h0M131.6,363.7h0M131.8,368.5h0M132.0,371.9h0M132.1,377.4h0M132.3,379.5h0M132.5,382.7h0M132.7,386.6h0M132.8,393.1h0M133.0,395.7h0M133.2,392.4h0M133.3,393.6h0M133.5,394.0h0M133.7,394.5h0M133.9,399.5h0M134.0,403.8h0M134.2,408.2h0M134.4,409.1h0M134.5,409.0h0M134.7,404.5h0M134.9,401.3h0M135.1,400.6h0M135.2,398.5h0M135.4,404.3h0M135.6,403.9h0M135.7,400.9h0M135.9,401.1h0M136.1,404.3h0M136.2,404.8h0M136.4,402.7h0M136.6,399.5h0M136.8,393.3h0M136.9,391.7h0M137.1,391.9h0M137.3,392.1h0M137.4,392.5h0M137.6,401.6h0M137.8,406.1h0M138.0,409.6h0M138.1,412.8h0M138.3,416.3h0M138.5,410.4h0M138.6,409.9h0M138.8,413.9h0M139.0,416.7h0M139.2,415.8h0M139.3,418.2h0M139.5,419.3h0M139.7,426.4h0M139.8,426.8h0M140.0,427.2h0M140.2,427.3h0M140.3,422.2h0M140.5,411.9h0M140.7,407.5h0M140.9,401.2h0M141.0,398.1h0M141.2,398.7h0M141.4,399.2h0M141.5,404.1h0M141.7,405.6h0M141.9,410.7h0M142.1,415.6h0M142.2,417.6h0M142.4,416.8h0M142.6,415.5h0M142.7,415.8h0M142.9,414.3h0M143.1,415.9h0M143.3,416.7h0M143.4,421.1h0M143.6,424.4h0M143.8,427.7h0M143.9,431.2h0M144.1,431.3h0M144.3,431.5h0M144.5,431.7h0M144.6,429.6h0M144.8,424.9h0M145.0,424.8h0M145.1,424.3h0M145.3,426.8h0M145.5,427.7h0M145.6,426.7h0M145.8,424.0h0M146.0,419.7h0M146.2,417.5h0M146.3,417.5h0M146.5,415.3h0M146.7,416.4h0M146.8,416.5h0M147.0,418.7h0M147.2,423.9h0M147.4,423.0h0M147.5,426.4h0M147.7,426.1h0M147.9,427.8h0M148.0,426.0h0M148.2,424.9h0M148.4,420.6h0M148.6,418.9h0M148.7,419.2h0M148.9,419.6h0M149.1,419.9h0M149.2,420.3h0M149.4,424.4h0M149.6,423.9h0M149.7,427.0h0M149.9,425.9h0M150.1,428.6h0M150.3,431.7h0M150.4,436.4h0M150.6,433.3h0M150.8,438.1h0M150.9,435.7h0M151.1,435.4h0M151.3,435.7h0M151.5,434.3h0M151.6,436.8h0M151.8,439.6h0M152.0,440.4h0M152.1,444.8h0M152.3,451.0h0M152.5,457.2h0M152.7,457.9h0M152.8,458.1h0M153.0,458.2h0M153.2,458.9h0M153.3,459.5h0M153.5,461.0h0M153.7,461.6h0M153.8,462.1h0M154.0,462.2h0M154.2,462.3h0M154.4,462.5h0M154.5,462.6h0M154.7,462.7h0M154.9,462.8h0M155.0,462.9h0M155.2,463.0h0M155.4,463.1h0M155.6,463.3h0M155.7,463.4h0M155.9,462.6h0M156.1,462.2h0M156.2,461.8h0M156.4,461.7h0M156.6,461.8h0M156.8,462.1h0M156.9,462.7h0M157.1,462.9h0M157.3,462.4h0M157.4,462.9h0M157.6,463.3h0M157.8,463.6h0M158.0,464.3h0M158.1,464.7h0M158.3,464.7h0M158.5,465.0h0M158.6,464.6h0M158.8,465.4h0M159.0,465.5h0M159.1,465.7h0M159.3,465.8h0M159.5,465.9h0M159.7,466.0h0M159.8,466.1h0M160.0,466.2h0M160.2,466.2h0M160.3,466.4h0M160.5,466.3h0M160.7,466.2h0M160.9,466.1h0M161.0,465.9h0M161.2,465.7h0M161.4,465.5h0M161.5,465.2h0M161.7,465.2h0M161.9,465.3h0M162.1,465.9h0M162.2,466.6h0M162.4,466.5h0M162.6,467.2h0M162.7,467.3h0M162.9,467.4h0M163.1,467.5h0M163.2,467.5h0M163.4,467.6h0M163.6,467.7h0M163.8,467.7h0M163.9,467.8h0M164.1,467.9h0M164.3,467.9h0M164.4,468.0h0M164.6,467.9h0M164.8,467.3h0M165.0,467.7h0M165.1,467.4h0M165.3,467.1h0M165.5,466.9h0M165.6,466.6h0M165.8,466.3h0M166.0,466.5h0M166.2,466.4h0M166.3,467.0h0M166.5,466.8h0M166.7,466.6h0M166.8,466.6h0M167.0,467.4h0M167.2,467.2h0M167.3,468.0h0M167.5,468.3h0M167.7,469.1h0M167.9,469.3h0M168.0,469.9h0M168.2,470.0h0M168.4,469.7h0M168.5,470.3h0M168.7,470.2h0M168.9,471.1h0M169.1,470.4h0M169.2,470.3h0M169.4,469.2h0M169.6,468.3h0M169.7,468.7h0M169.9,468.6h0M170.1,469.3h0M170.3,469.5h0M170.4,468.9h0M170.6,469.1h0M170.8,469.5h0M170.9,470.6h0M171.1,472.0h0M171.3,472.2h0M171.5,472.0h0M171.6,472.0h0M171.8,471.5h0M172.0,473.0h0M172.1,474.4h0M172.3,475.1h0M172.5,474.9h0M172.6,475.7h0M172.8,475.7h0M173.0,476.5h0M173.2,476.8h0M173.3,477.0h0M173.5,477.2h0M173.7,476.6h0M173.8,476.0h0M174.0,476.3h0M174.2,473.6h0M174.4,476.7h0M174.5,477.0h0M174.7,477.3h0M174.9,475.9h0M175.0,475.0h0M175.2,474.3h0M175.4,474.3h0M175.6,473.1h0M175.7,473.3h0M175.9,473.5h0M176.1,473.8h0M176.2,474.0h0M176.4,474.2h0M176.6,474.5h0M176.7,474.7h0M176.9,477.0h0M177.1,478.0h0M177.3,477.0h0M177.4,481.8h0M177.6,481.6h0M177.8,482.2h0M177.9,483.1h0M178.1,482.8h0M178.3,485.7h0M178.5,486.1h0M178.6,486.5h0M178.8,485.3h0M179.0,485.3h0M179.1,483.4h0M179.3,481.7h0M179.5,480.9h0M179.7,480.7h0M179.8,481.5h0M180.0,481.1h0M180.2,479.5h0M180.3,479.8h0M180.5,480.1h0M180.7,480.4h0M180.8,480.6h0M181.0,481.2h0M181.2,481.2h0M181.4,486.3h0M181.5,487.9h0M181.7,486.5h0M181.9,488.4h0M182.0,489.9h0M182.2,490.6h0M182.4,492.6h0M182.6,491.4h0M182.7,491.9h0M182.9,490.2h0M183.1,487.3h0M183.2,486.3h0M183.4,487.9h0M183.6,486.0h0M183.8,486.2h0M183.9,487.9h0M184.1,489.3h0M184.3,486.5h0M184.4,487.4h0M184.6,488.1h0M184.8,492.1h0M185.0,492.7h0M185.1,496.2h0M185.3,495.4h0M185.5,496.0h0M185.6,495.8h0M185.8,495.9h0M186.0,495.8h0M186.1,495.8h0M186.3,495.7h0M186.5,495.6h0M186.7,495.5h0M186.8,492.6h0M187.0,492.5h0M187.2,491.4h0M187.3,490.0h0M187.5,490.2h0M187.7,489.9h0M187.9,488.7h0M188.0,485.0h0M188.2,484.1h0M188.4,484.6h0M188.5,483.7h0M188.7,483.7h0M188.9,486.4h0M189.1,487.3h0M189.2,492.0h0M189.4,490.3h0M189.6,488.2h0M189.7,488.4h0M189.9,488.5h0M190.1,493.2h0M190.2,493.8h0M190.4,493.6h0M190.6,493.3h0M190.8,493.0h0M190.9,492.7h0M191.1,492.5h0M191.3,492.2h0M191.4,491.9h0M191.6,491.6h0M191.8,491.4h0M192.0,490.7h0M192.1,487.5h0M192.3,486.4h0M192.5,488.7h0M192.6,486.5h0M192.8,487.3h0M193.0,486.7h0M193.2,485.9h0M193.3,484.9h0M193.5,486.1h0M193.7,486.6h0M193.8,487.4h0M194.0,487.8h0M194.2,487.5h0M194.3,487.3h0M194.5,486.7h0M194.7,486.4h0M194.9,486.2h0M195.0,485.6h0M195.2,486.5h0M195.4,485.3h0M195.5,484.3h0M195.7,485.2h0M195.9,486.1h0M196.1,484.5h0M196.2,486.0h0M196.4,486.1h0M196.6,483.4h0M196.7,483.0h0M196.9,480.1h0M197.1,479.3h0M197.3,479.8h0M197.4,479.3h0M197.6,479.3h0M197.8,479.3h0M197.9,479.3h0M198.1,481.1h0M198.3,480.9h0M198.4,479.3h0M198.6,480.6h0M198.8,481.5h0M199.0,484.7h0M199.1,484.3h0M199.3,484.8h0M199.5,484.6h0M199.6,484.0h0M199.8,483.6h0M200.0,482.3h0M200.2,482.2h0M200.3,488.3h0M200.5,486.1h0M200.7,480.7h0M200.8,481.2h0M201.0,479.3h0M201.2,479.3h0M201.4,479.3h0M201.5,479.3h0M201.7,479.3h0M201.9,479.3h0M202.0,479.3h0M202.2,481.1h0M202.4,482.9h0M202.6,482.1h0M202.7,483.6h0M202.9,482.4h0M203.1,484.7h0M203.2,484.8h0M203.4,488.4h0M203.6,487.3h0M203.7,488.0h0M203.9,487.7h0M204.1,485.5h0M204.3,484.7h0M204.4,485.7h0M204.6,486.7h0M204.8,484.3h0M204.9,485.1h0M205.1,484.0h0M205.3,482.0h0M205.5,480.6h0M205.6,482.3h0M205.8,481.6h0M206.0,480.7h0M206.1,479.3h0M206.3,479.3h0M206.5,479.3h0M206.7,481.2h0M206.8,480.5h0M207.0,479.8h0M207.2,479.3h0M207.3,479.3h0M207.5,480.1h0M207.7,479.7h0M207.8,481.6h0M208.0,482.6h0M208.2,482.6h0M208.4,482.1h0M208.5,481.8h0M208.7,481.2h0M208.9,483.0h0M209.0,483.9h0M209.2,482.7h0M209.4,481.9h0M209.6,482.8h0M209.7,481.0h0M209.9,481.1h0M210.1,480.6h0M210.2,479.7h0M210.4,479.5h0M210.6,479.6h0M210.8,479.7h0M210.9,479.8h0M211.1,479.9h0M211.3,480.0h0M211.4,480.1h0M211.6,480.6h0M211.8,480.3h0M211.9,480.4h0M212.1,480.6h0M212.3,480.7h0M212.5,481.0h0M212.6,481.4h0M212.8,481.1h0M213.0,482.3h0M213.1,484.1h0M213.3,484.9h0M213.5,483.6h0M213.7,484.4h0M213.8,484.1h0M214.0,483.4h0M214.2,482.5h0M214.3,482.5h0M214.5,482.0h0M214.7,482.1h0M214.9,482.2h0M215.0,482.3h0M215.2,482.3h0M215.4,482.3h0M215.5,482.3h0M215.7,482.3h0M215.9,482.3h0M216.1,482.3h0M216.2,482.3h0M216.4,482.3h0M216.6,482.3h0M216.7,482.7h0M216.9,482.3h0M217.1,482.3h0M217.2,482.3h0M217.4,482.9h0M217.6,483.7h0M217.8,483.9h0M217.9,483.8h0M218.1,483.2h0M218.3,484.1h0M218.4,484.2h0M218.6,483.7h0M218.8,483.8h0M219.0,482.6h0M219.1,483.2h0M219.3,483.2h0M219.5,482.5h0M219.6,484.0h0M219.8,485.3h0M220.0,483.6h0M220.2,482.3h0M220.3,482.3h0M220.5,483.0h0M220.7,484.9h0M220.8,486.4h0M221.0,486.5h0M221.2,487.0h0M221.3,487.0h0M221.5,486.9h0M221.7,486.9h0M221.9,486.8h0M222.0,486.8h0M222.2,486.5h0M222.4,485.4h0M222.5,486.3h0M222.7,486.5h0M222.9,486.2h0M223.1,485.0h0M223.2,484.2h0M223.4,484.2h0M223.6,483.4h0M223.7,483.8h0M223.9,483.6h0M224.1,483.6h0M224.3,484.2h0M224.4,485.0h0M224.6,486.3h0M224.8,486.3h0M224.9,486.2h0M225.1,486.2h0M225.3,486.2h0M225.4,485.3h0M225.6,486.1h0M225.8,486.1h0M226.0,486.1h0M226.1,485.6h0M226.3,484.8h0M226.5,483.4h0M226.6,483.3h0M226.8,482.9h0M227.0,482.3h0M227.2,481.4h0M227.3,481.3h0M227.5,481.3h0M227.7,481.2h0M227.8,481.1h0M228.0,481.1h0M228.2,481.0h0M228.4,480.9h0M228.5,481.9h0M228.7,481.2h0M228.9,483.6h0M229.0,483.6h0M229.2,484.8h0M229.4,485.5h0M229.6,484.7h0M229.7,483.3h0M229.9,485.7h0M230.1,484.0h0M230.2,483.5h0M230.4,484.7h0M230.6,484.8h0M230.7,484.6h0M230.9,482.3h0M231.1,481.0h0M231.3,479.8h0M231.4,479.7h0M231.6,479.6h0M231.8,479.6h0M231.9,479.5h0M232.1,479.4h0M232.3,479.4h0M232.5,479.3h0M232.6,479.2h0M232.8,479.3h0M233.0,480.9h0M233.1,481.8h0M233.3,481.6h0M233.5,483.3h0M233.7,485.3h0M233.8,485.3h0M234.0,485.3h0M234.2,485.3h0M234.3,485.3h0M234.5,485.3h0M234.7,485.3h0M234.8,485.2h0M235.0,485.2h0M235.2,484.1h0M235.4,483.3h0M235.5,482.3h0M235.7,481.1h0M235.9,479.1h0M236.0,479.0h0M236.2,477.7h0M236.4,477.6h0M236.6,477.5h0M236.7,477.7h0M236.9,477.3h0M237.1,477.2h0M237.2,477.2h0M237.4,478.9h0M237.6,478.6h0M237.8,479.3h0M237.9,480.5h0M238.1,481.7h0M238.3,481.1h0M238.4,482.6h0M238.6,483.8h0M238.8,483.7h0M238.9,483.6h0M239.1,483.6h0M239.3,483.5h0M239.5,483.4h0M239.6,483.4h0M239.8,481.2h0M240.0,482.4h0M240.1,483.2h0M240.3,482.7h0M240.5,482.3h0M240.7,481.3h0M240.8,482.9h0M241.0,481.9h0M241.2,479.8h0M241.3,480.5h0M241.5,480.0h0M241.7,476.6h0M241.9,477.1h0M242.0,478.8h0M242.2,479.0h0M242.4,481.0h0M242.5,482.1h0M242.7,480.3h0M242.9,481.7h0M243.0,482.0h0M243.2,481.9h0M243.4,481.9h0M243.6,481.2h0M243.7,481.0h0M243.9,481.1h0M244.1,478.1h0M244.2,475.7h0M244.4,476.3h0M244.6,476.2h0M244.8,476.6h0M244.9,475.6h0M245.1,476.5h0M245.3,474.9h0M245.4,473.4h0M245.6,473.2h0M245.8,473.1h0M246.0,473.1h0M246.1,473.1h0M246.3,473.0h0M246.5,473.0h0M246.6,473.9h0M246.8,475.0h0M247.0,476.5h0M247.2,477.3h0M247.3,480.4h0M247.5,480.7h0M247.7,480.7h0M247.8,476.7h0M248.0,474.8h0M248.2,476.9h0M248.3,475.2h0M248.5,472.9h0M248.7,474.3h0M248.9,472.5h0M249.0,472.5h0M249.2,472.4h0M249.4,472.4h0M249.5,472.4h0M249.7,472.3h0M249.9,472.3h0M250.1,472.3h0M250.2,472.5h0M250.4,472.6h0M250.6,473.0h0M250.7,474.6h0M250.9,475.4h0M251.1,475.7h0M251.3,475.7h0M251.4,477.4h0M251.6,476.7h0M251.8,478.4h0M251.9,479.1h0M252.1,479.6h0M252.3,479.9h0M252.4,480.2h0M252.6,479.7h0M252.8,479.9h0M253.0,479.0h0M253.1,478.9h0M253.3,477.2h0M253.5,475.1h0M253.6,475.2h0M253.8,475.5h0M254.0,475.5h0M254.2,475.6h0M254.3,475.7h0M254.5,475.9h0M254.7,476.0h0M254.8,476.7h0M255.0,476.3h0M255.2,476.4h0M255.4,477.9h0M255.5,478.9h0M255.7,480.2h0M255.9,480.7h0M256.0,481.4h0M256.2,481.5h0M256.4,481.5h0M256.5,481.5h0M256.7,481.6h0M256.9,481.6h0M257.1,481.6h0M257.2,481.7h0M257.4,481.7h0M257.6,481.7h0M257.7,480.1h0M257.9,478.7h0M258.1,479.5h0M258.3,477.1h0M258.4,476.3h0M258.6,476.3h0M258.8,476.3h0M258.9,477.1h0M259.1,476.3h0M259.3,476.3h0M259.5,476.3h0M259.6,476.3h0M259.8,476.3h0M260.0,476.3h0M260.1,476.3h0M260.3,476.3h0M260.5,477.0h0M260.7,479.0h0M260.8,481.6h0M261.0,482.4h0M261.2,482.5h0M261.3,482.5h0M261.5,482.5h0M261.7,481.6h0M261.8,481.7h0M262.0,481.3h0M262.2,482.7h0M262.4,481.8h0M262.5,481.5h0M262.7,481.7h0M262.9,477.9h0M263.0,476.3h0M263.2,476.3h0M263.4,476.3h0M263.6,476.3h0M263.7,476.3h0M263.9,477.8h0M264.1,478.9h0M264.2,481.1h0M264.4,480.2h0M264.6,482.9h0M264.8,483.2h0M264.9,481.2h0M265.1,481.9h0M265.3,482.8h0M265.4,482.1h0M265.6,480.2h0M265.8,478.7h0M265.9,478.4h0M266.1,476.6h0M266.3,477.0h0M266.5,478.5h0M266.6,477.2h0M266.8,478.2h0M267.0,478.0h0M267.1,476.9h0M267.3,477.0h0M267.5,477.0h0M267.7,477.1h0M267.8,477.1h0M268.0,477.2h0M268.2,477.2h0M268.3,477.3h0M268.5,481.3h0M268.7,480.9h0M268.9,482.1h0M269.0,483.4h0M269.2,484.0h0M269.4,484.1h0M269.5,484.1h0M269.7,484.2h0M269.9,482.9h0M270.0,480.2h0M270.2,480.5h0M270.4,478.3h0M270.6,477.9h0M270.7,478.0h0M270.9,478.1h0M271.1,478.1h0M271.2,478.2h0M271.4,478.2h0M271.6,478.6h0M271.8,478.3h0M271.9,478.5h0M272.1,480.0h0M272.3,478.9h0M272.4,479.8h0M272.6,480.4h0M272.8,481.2h0M273.0,482.6h0M273.1,484.8h0M273.3,484.9h0M273.5,484.9h0M273.6,484.9h0M273.8,485.0h0M274.0,483.8h0M274.2,484.2h0M274.3,484.4h0M274.5,485.1h0M274.7,484.1h0M274.8,481.2h0M275.0,481.0h0M275.2,479.2h0M275.3,479.1h0M275.5,479.1h0M275.7,479.0h0M275.9,478.9h0M276.0,478.9h0M276.2,478.8h0M276.4,481.7h0M276.5,483.2h0M276.7,483.4h0M276.9,482.2h0M277.1,482.2h0M277.2,482.8h0M277.4,482.7h0M277.6,484.7h0M277.7,484.7h0M277.9,484.6h0M278.1,484.6h0M278.3,484.6h0M278.4,484.5h0M278.6,484.5h0M278.8,484.5h0M278.9,484.4h0M279.1,484.4h0M279.3,484.4h0M279.4,484.3h0M279.6,482.1h0M279.8,483.4h0M280.0,481.9h0M280.1,479.3h0M280.3,477.3h0M280.5,476.9h0M280.6,477.0h0M280.8,477.7h0M281.0,477.8h0M281.2,479.1h0M281.3,481.9h0M281.5,481.0h0M281.7,482.8h0M281.8,482.8h0M282.0,482.7h0M282.2,482.6h0M282.4,482.5h0M282.5,482.3h0M282.7,482.2h0M282.9,482.1h0M283.0,481.9h0M283.2,481.8h0M283.4,481.7h0M283.5,479.3h0M283.7,477.1h0M283.9,476.5h0M284.1,473.9h0M284.2,470.3h0M284.4,467.4h0M284.6,464.5h0M284.7,461.6h0M284.9,458.7h0M285.1,459.6h0M285.3,460.4h0M285.4,461.7h0M285.6,463.5h0M285.8,469.9h0M285.9,470.2h0M286.1,469.4h0M286.3,472.7h0M286.5,477.5h0M286.6,477.6h0M286.8,477.4h0M287.0,477.3h0M287.1,477.2h0M287.3,477.0h0M287.5,477.1h0M287.7,475.7h0M287.8,471.2h0M288.0,471.2h0M288.2,472.7h0M288.3,468.2h0M288.5,465.8h0M288.7,466.0h0M288.8,466.1h0M289.0,466.3h0M289.2,466.5h0M289.4,466.6h0M289.5,466.8h0M289.7,467.0h0M289.9,467.2h0M290.0,467.2h0M290.2,466.9h0M290.4,466.9h0M290.6,466.2h0M290.7,468.0h0M290.9,466.8h0M291.1,466.0h0M291.2,468.8h0M291.4,471.5h0M291.6,474.6h0M291.8,473.0h0M291.9,472.1h0M292.1,473.4h0M292.3,473.9h0M292.4,472.8h0M292.6,472.6h0M292.8,470.7h0M292.9,469.0h0M293.1,467.7h0M293.3,465.5h0M293.5,463.5h0M293.6,464.4h0M293.8,465.5h0M294.0,466.7h0M294.1,466.4h0M294.3,467.2h0M294.5,470.4h0M294.7,470.2h0M294.8,471.9h0M295.0,471.7h0M295.2,474.2h0M295.3,472.1h0M295.5,474.2h0M295.7,474.2h0M295.9,474.2h0M296.0,474.2h0M296.2,474.2h0M296.4,474.2h0M296.5,474.2h0M296.7,474.2h0M296.9,474.2h0M297.0,474.2h0M297.2,474.2h0M297.4,473.8h0M297.6,470.9h0M297.7,470.8h0M297.9,472.8h0M298.1,471.0h0M298.2,470.9h0M298.4,471.0h0M298.6,472.2h0M298.8,471.5h0M298.9,472.6h0M299.1,474.2h0M299.3,474.2h0M299.4,474.2h0M299.6,474.2h0M299.8,474.2h0M300.0,474.2h0M300.1,474.2h0M300.3,474.2h0M300.5,474.2h0M300.6,474.2h0M300.8,474.2h0M301.0,474.2h0M301.1,474.2h0M301.3,473.4h0M301.5,473.2h0M301.7,471.4h0M301.8,469.6h0M302.0,470.8h0M302.2,468.6h0M302.3,468.8h0M302.5,468.4h0M302.7,468.8h0M302.9,468.9h0M303.0,469.3h0M303.2,471.0h0M303.4,472.2h0M303.5,470.0h0M303.7,469.9h0M303.9,473.0h0M304.1,474.2h0M304.2,474.2h0M304.4,473.2h0M304.6,472.6h0M304.7,474.2h0M304.9,474.2h0M305.1,474.2h0M305.3,474.2h0M305.4,474.0h0M305.6,473.2h0M305.8,471.9h0M305.9,471.8h0M306.1,470.5h0M306.3,471.0h0M306.4,469.9h0M306.6,468.5h0M306.8,468.5h0M307.0,468.8h0M307.1,468.7h0M307.3,468.5h0M307.5,468.5h0M307.6,468.5h0M307.8,468.6h0M308.0,468.6h0M308.2,468.6h0M308.3,469.7h0M308.5,471.5h0M308.7,471.9h0M308.8,472.1h0M309.0,471.8h0M309.2,472.5h0M309.4,472.8h0M309.5,473.0h0M309.7,473.0h0M309.9,474.2h0M310.0,473.8h0M310.2,471.6h0M310.4,471.7h0M310.5,470.3h0M310.7,469.9h0M310.9,469.8h0M311.1,470.8h0M311.2,470.1h0M311.4,469.8h0M311.6,469.5h0M311.7,470.7h0M311.9,471.2h0M312.1,471.5h0M312.3,473.2h0M312.4,475.0h0M312.6,475.0h0M312.8,475.0h0M312.9,475.0h0M313.1,475.0h0M313.3,475.0h0M313.5,475.1h0M313.6,475.1h0M313.8,474.5h0M314.0,473.6h0M314.1,471.7h0M314.3,471.8h0M314.5,472.1h0M314.6,472.3h0M314.8,471.0h0M315.0,469.7h0M315.2,469.9h0M315.3,469.4h0M315.5,469.5h0M315.7,470.7h0M315.8,469.1h0M316.0,469.1h0M316.2,470.4h0M316.4,473.5h0M316.5,475.0h0M316.7,474.6h0M316.9,475.2h0M317.0,475.2h0M317.2,475.2h0M317.4,475.2h0M317.6,475.2h0M317.7,475.2h0M317.9,473.0h0M318.1,470.0h0M318.2,468.6h0M318.4,468.6h0M318.6,468.6h0M318.8,468.5h0M318.9,468.5h0M319.1,468.5h0M319.3,471.0h0M319.4,471.7h0M319.6,470.1h0M319.8,472.0h0M319.9,472.3h0M320.1,473.3h0M320.3,475.2h0M320.5,475.2h0M320.6,475.2h0M320.8,474.7h0M321.0,475.2h0M321.1,475.2h0M321.3,475.2h0M321.5,475.2h0M321.7,475.2h0M321.8,475.2h0M322.0,474.9h0M322.2,472.7h0M322.3,469.9h0M322.5,468.8h0M322.7,469.2h0M322.9,467.9h0M323.0,468.0h0M323.2,467.6h0M323.4,467.6h0M323.5,467.6h0M323.7,467.5h0M323.9,467.5h0M324.0,467.5h0M324.2,467.4h0M324.4,467.4h0M324.6,467.4h0M324.7,467.7h0M324.9,468.4h0M325.1,469.7h0M325.2,470.4h0M325.4,472.1h0M325.6,473.4h0M325.8,471.6h0M325.9,470.9h0M326.1,471.6h0M326.3,471.3h0M326.4,471.0h0M326.6,468.4h0M326.8,463.5h0M327.0,456.6h0M327.1,449.3h0M327.3,443.2h0M327.5,435.5h0M327.6,429.1h0M327.8,422.8h0M328.0,416.5h0M328.1,410.1h0M328.3,403.8h0M328.5,398.4h0M328.7,394.0h0M328.8,389.5h0M329.0,389.9h0M329.2,391.7h0M329.3,391.4h0M329.5,385.2h0M329.7,377.1h0M329.9,369.9h0M330.0,363.6h0M330.2,360.6h0M330.4,359.6h0M330.5,363.0h0M330.7,371.3h0M330.9,378.8h0M331.1,376.5h0M331.2,380.8h0M331.4,383.3h0M331.6,382.0h0M331.7,373.4h0M331.9,367.4h0M332.1,365.2h0M332.3,365.3h0M332.4,367.7h0M332.6,370.8h0M332.8,376.7h0M332.9,379.9h0M333.1,383.1h0M333.3,387.7h0M333.4,389.0h0M333.6,385.9h0M333.8,378.7h0M334.0,370.3h0M334.1,368.9h0M334.3,367.9h0M334.5,373.9h0M334.6,384.7h0M334.8,388.8h0M335.0,391.9h0M335.2,392.0h0M335.3,392.0h0M335.5,392.0h0M335.7,388.7h0M335.8,384.9h0M336.0,374.5h0M336.2,373.1h0M336.4,373.4h0M336.5,374.3h0M336.7,382.2h0M336.9,391.5h0M337.0,395.7h0M337.2,397.0h0M337.4,401.7h0M337.5,406.9h0M337.7,411.0h0M337.9,414.6h0M338.1,416.7h0M338.2,418.6h0M338.4,419.7h0M338.6,422.2h0M338.7,419.8h0M338.9,415.3h0M339.1,411.6h0M339.3,409.5h0M339.4,403.2h0M339.6,398.8h0M339.8,398.8h0M339.9,398.8h0M340.1,399.5h0M340.3,400.0h0M340.5,404.1h0M340.6,407.0h0M340.8,413.5h0M341.0,415.0h0M341.1,416.9h0M341.3,413.7h0M341.5,412.4h0M341.6,411.4h0M341.8,403.0h0M342.0,399.5h0M342.2,398.5h0M342.3,398.3h0M342.5,401.0h0M342.7,401.9h0M342.8,403.5h0M343.0,405.2h0M343.2,406.1h0M343.4,409.3h0M343.5,411.2h0M343.7,411.2h0M343.9,410.4h0M344.0,409.3h0M344.2,409.6h0M344.4,405.1h0M344.6,405.5h0M344.7,401.7h0M344.9,405.1h0M345.1,406.0h0M345.2,403.2h0M345.4,400.8h0M345.6,397.3h0M345.7,397.3h0M345.9,402.6h0M346.1,408.3h0M346.3,409.8h0M346.4,411.2h0M346.6,411.2h0M346.8,411.2h0M346.9,411.2h0M347.1,411.2h0M347.3,411.2h0M347.5,410.0h0M347.6,401.7h0M347.8,400.6h0M348.0,403.7h0M348.1,406.0h0M348.3,407.7h0M348.5,409.2h0M348.7,407.4h0M348.8,409.9h0M349.0,410.0h0M349.2,411.2h0M349.3,410.4h0M349.5,406.9h0M349.7,407.5h0M349.9,406.0h0M350.0,402.3h0M350.2,401.1h0M350.4,402.0h0M350.5,401.4h0M350.7,401.6h0M350.9,401.1h0M351.0,404.5h0M351.2,405.2h0M351.4,405.7h0M351.6,405.4h0M351.7,404.7h0M351.9,410.6h0M352.1,411.2h0M352.2,411.9h0M352.4,411.0h0M352.6,411.9h0M352.8,412.2h0M352.9,410.7h0M353.1,403.9h0M353.3,401.8h0M353.4,399.7h0M353.6,399.9h0M353.8,400.0h0M354.0,400.1h0M354.1,400.2h0M354.3,400.3h0M354.5,406.4h0M354.6,411.0h0M354.8,417.3h0M355.0,418.8h0M355.1,417.2h0M355.3,410.6h0M355.5,407.4h0M355.7,406.3h0M355.8,403.4h0M356.0,401.6h0M356.2,401.7h0M356.3,403.4h0M356.5,404.7h0M356.7,403.9h0M356.9,402.4h0M357.0,400.8h0M357.2,400.8h0M357.4,408.2h0M357.5,409.7h0M357.7,412.8h0M357.9,416.0h0M358.1,422.2h0M358.2,422.2h0M358.4,422.2h0M358.6,422.0h0M358.7,412.8h0M358.9,402.2h0M359.1,400.8h0M359.2,400.8h0M359.4,405.2h0M359.6,409.8h0M359.8,412.0h0M359.9,413.8h0M360.1,416.5h0M360.3,418.7h0M360.4,396.7h0M360.6,387.8h0M360.8,387.8h0M361.0,387.8h0M361.1,371.6h0M361.3,361.3h0M361.5,356.8h0M361.6,355.8h0M361.8,355.8h0M362.0,355.8h0M362.2,355.8h0M362.3,356.7h0M362.5,355.8h0M362.7,359.1h0M362.8,356.3h0M363.0,356.6h0M363.2,357.7h0M363.4,361.0h0M363.5,364.1h0M363.7,368.4h0M363.9,369.8h0M364.0,369.9h0M364.2,371.7h0M364.4,371.7h0M364.5,371.2h0M364.7,370.4h0M364.9,366.9h0M365.1,364.3h0M365.2,365.4h0M365.4,362.8h0M365.6,362.1h0M365.7,365.0h0M365.9,368.4h0M366.1,366.1h0M366.3,363.5h0M366.4,362.9h0M366.6,357.9h0M366.8,355.8h0M366.9,356.1h0M367.1,355.8h0M367.3,333.4h0M367.5,305.7h0M367.6,312.8h0M367.8,315.4h0M368.0,315.8h0M368.1,308.4h0M368.3,292.0h0M368.5,274.8h0M368.6,263.6h0M368.8,258.8h0M369.0,258.8h0M369.2,258.8h0M369.3,261.9h0M369.5,270.5h0M369.7,279.7h0M369.8,287.3h0M370.0,291.6h0M370.2,292.1h0M370.4,299.4h0M370.5,295.7h0M370.7,293.0h0M370.9,288.9h0M371.0,288.9h0M371.2,284.1h0M371.4,279.6h0M371.6,279.8h0M371.7,275.8h0M371.9,274.1h0M372.1,273.5h0M372.2,274.7h0M372.4,279.2h0M372.6,273.0h0M372.7,273.1h0M372.9,272.9h0M373.1,280.6h0M373.3,286.2h0M373.4,287.0h0M373.6,289.8h0M373.8,288.4h0M373.9,286.9h0M374.1,279.8h0M374.3,269.9h0M374.5,254.4h0M374.6,248.3h0M374.8,245.8h0M375.0,244.5h0M375.1,247.0h0M375.3,253.1h0M375.5,256.7h0M375.7,260.2h0M375.8,260.9h0M376.0,255.8h0M376.2,254.3h0M376.3,253.4h0M376.5,248.2h0M376.7,235.2h0M376.9,231.3h0M377.0,228.6h0M377.2,222.6h0M377.4,220.4h0M377.5,222.3h0M377.7,233.6h0M377.9,238.6h0M378.0,238.0h0M378.2,242.5h0M378.4,245.1h0M378.6,245.7h0M378.7,247.0h0M378.9,246.3h0M379.1,244.9h0M379.2,240.8h0M379.4,235.9h0M379.6,233.5h0M379.8,235.4h0M379.9,234.6h0M380.1,234.4h0M380.3,232.3h0M380.4,227.9h0M380.6,227.6h0M380.8,229.2h0M381.0,230.8h0M381.1,237.4h0M381.3,243.2h0M381.5,249.0h0M381.6,245.7h0M381.8,244.7h0M382.0,239.4h0M382.1,238.3h0M382.3,238.6h0M382.5,242.1h0M382.7,242.4h0M382.8,249.0h0M383.0,256.0h0M383.2,263.7h0M383.3,278.9h0M383.5,287.0h0M383.7,294.0h0M383.9,294.6h0M384.0,295.3h0M384.2,292.5h0M384.4,282.7h0M384.5,272.7h0M384.7,263.7h0M384.9,262.1h0M385.1,262.5h0M385.2,264.2h0M385.4,271.2h0M385.6,281.5h0M385.7,289.6h0M385.9,296.7h0M386.1,292.9h0M386.2,288.4h0M386.4,287.1h0M386.6,287.1h0M386.8,282.3h0M386.9,282.5h0M387.1,284.4h0M387.3,288.9h0M387.4,283.7h0M387.6,283.3h0M387.8,284.4h0M388.0,285.7h0M388.1,292.6h0M388.3,296.2h0M388.5,297.5h0M388.6,300.3h0M388.8,306.4h0M389.0,311.0h0M389.2,313.0h0M389.3,316.0h0M389.5,314.6h0M389.7,314.4h0M389.8,312.7h0M390.0,311.3h0M390.2,310.4h0M390.3,313.2h0M390.5,314.9h0M390.7,317.3h0M390.9,319.0h0M391.0,319.8h0M391.2,327.4h0M391.4,332.7h0M391.5,334.7h0M391.7,335.3h0M391.9,335.8h0M392.1,336.4h0M392.2,336.9h0M392.4,335.5h0M392.6,331.0h0M392.7,327.0h0M392.9,323.1h0M393.1,325.4h0M393.3,329.3h0M393.4,331.4h0M393.6,332.0h0M393.8,334.2h0M393.9,334.5h0M394.1,330.5h0M394.3,326.8h0M394.5,325.4h0M394.6,321.5h0M394.8,314.7h0M395.0,312.0h0M395.1,312.3h0M395.3,312.5h0M395.5,312.8h0M395.6,313.1h0M395.8,313.4h0M396.0,315.3h0M396.2,321.7h0M396.3,320.8h0M396.5,320.6h0M396.7,320.3h0M396.8,318.7h0M397.0,319.6h0M397.2,317.7h0M397.4,315.8h0M397.5,322.9h0M397.7,323.9h0M397.9,328.6h0M398.0,333.4h0M398.2,334.5h0M398.4,336.0h0M398.6,336.4h0M398.7,333.9h0M398.9,331.8h0M399.1,329.2h0M399.2,327.7h0M399.4,330.4h0M399.6,334.3h0M399.7,335.3h0M399.9,338.7h0M400.1,341.8h0M400.3,342.1h0M400.4,341.1h0M400.6,335.7h0M400.8,332.7h0M400.9,331.2h0M401.1,330.7h0M401.3,329.9h0M401.5,331.2h0M401.6,332.2h0M401.8,331.4h0M402.0,333.4h0M402.1,334.3h0M402.3,330.3h0M402.5,330.3h0M402.7,329.7h0M402.8,327.3h0M403.0,326.4h0M403.2,327.0h0M403.3,328.1h0M403.5,331.8h0M403.7,332.8h0M403.8,336.3h0M404.0,340.4h0M404.2,343.8h0M404.4,343.4h0M404.5,344.6h0M404.7,344.1h0M404.9,341.5h0M405.0,343.4h0M405.2,341.3h0M405.4,343.4h0M405.6,345.1h0M405.7,351.1h0M405.9,353.9h0M406.1,354.2h0M406.2,354.5h0M406.4,354.8h0M406.6,355.0h0M406.8,355.3h0M406.9,355.6h0M407.1,355.9h0M407.3,352.2h0M407.4,348.2h0M407.6,348.9h0M407.8,348.8h0M408.0,350.8h0M408.1,352.5h0M408.3,352.9h0M408.5,354.0h0M408.6,351.9h0M408.8,347.4h0M409.0,339.9h0M409.1,337.1h0M409.3,332.8h0M409.5,333.0h0M409.7,335.4h0M409.8,337.2h0M410.0,341.9h0M410.2,343.5h0M410.3,345.4h0M410.5,344.4h0M410.7,337.6h0M410.9,338.6h0M411.0,336.8h0M411.2,335.9h0M411.4,338.8h0M411.5,343.0h0M411.7,349.0h0M411.9,355.5h0M412.1,353.6h0M412.2,354.5h0M412.4,355.4h0M412.6,354.5h0M412.7,354.2h0M412.9,354.4h0M413.1,352.2h0M413.2,352.7h0M413.4,352.4h0M413.6,354.2h0M413.8,358.1h0M413.9,363.0h0M414.1,369.0h0M414.3,369.2h0M414.4,369.2h0M414.6,363.9h0M414.8,356.7h0M415.0,350.1h0M415.1,347.4h0M415.3,346.4h0M415.5,347.9h0M415.6,348.6h0M415.8,355.2h0M416.0,356.8h0M416.2,355.3h0M416.3,349.8h0M416.5,345.2h0M416.7,339.3h0M416.8,336.3h0M417.0,336.1h0M417.2,336.4h0M417.3,337.4h0M417.5,340.0h0M417.7,341.7h0M417.9,343.8h0M418.0,344.7h0M418.2,344.4h0M418.4,345.6h0M418.5,338.9h0M418.7,338.2h0M418.9,338.4h0M419.1,338.6h0M419.2,338.8h0M419.4,343.2h0M419.6,346.4h0M419.7,345.9h0M419.9,344.1h0M420.1,342.2h0M420.3,340.4h0M420.4,342.4h0M420.6,340.9h0M420.8,341.2h0M420.9,346.5h0M421.1,353.9h0M421.3,354.3h0M421.5,358.1h0M421.6,356.8h0M421.8,356.7h0M422.0,353.3h0M422.1,355.4h0M422.3,360.5h0M422.5,360.6h0M422.6,359.1h0M422.8,356.0h0M423.0,358.8h0M423.2,362.2h0M423.3,361.6h0M423.5,365.1h0M423.7,362.2h0M423.8,358.1h0M424.0,357.4h0M424.2,350.6h0M424.4,350.3h0M424.5,349.0h0M424.7,347.4h0M424.9,345.5h0M425.0,346.0h0M425.2,344.9h0M425.4,347.2h0M425.6,351.7h0M425.7,349.6h0M425.9,355.2h0M426.1,356.1h0M426.2,352.6h0M426.4,348.9h0M426.6,344.3h0M426.7,339.3h0M426.9,336.0h0M427.1,334.8h0M427.3,334.6h0M427.4,337.6h0M427.6,340.0h0M427.8,341.0h0M427.9,342.1h0M428.1,343.7h0M428.3,338.3h0M428.5,337.5h0M428.6,337.7h0M428.8,337.1h0M429.0,337.5h0M429.1,340.4h0M429.3,342.9h0M429.5,340.3h0M429.7,341.6h0M429.8,341.9h0M430.0,343.2h0M430.2,344.3h0M430.3,344.1h0M430.5,343.9h0M430.7,340.9h0M430.8,341.6h0M431.0,338.1h0M431.2,335.0h0M431.4,333.1h0M431.5,333.3h0M431.7,333.7h0M431.9,333.5h0M432.0,333.8h0M432.2,335.7h0M432.4,337.1h0M432.6,336.0h0M432.7,335.7h0M432.9,335.4h0M433.1,337.4h0M433.2,336.6h0M433.4,336.0h0M433.6,337.1h0M433.8,337.1h0M433.9,338.8h0M434.1,339.1h0M434.3,339.0h0M434.4,341.6h0M434.6,341.5h0M434.8,341.4h0M435.0,341.3h0M435.1,340.6h0M435.3,337.7h0M435.5,337.9h0M435.6,334.6h0M435.8,333.6h0M436.0,333.6h0M436.1,335.1h0M436.3,334.9h0M436.5,334.3h0M436.7,334.9h0M436.8,337.2h0M437.0,333.4h0M437.2,334.3h0M437.3,335.1h0M437.5,338.3h0M437.7,336.9h0M437.9,343.3h0M438.0,344.4h0M438.2,349.0h0M438.4,350.4h0M438.5,349.5h0M438.7,352.1h0M438.9,352.4h0M439.1,350.9h0M439.2,347.3h0M439.4,344.3h0M439.6,346.4h0M439.7,346.7h0M439.9,352.2h0M440.1,355.9h0M440.2,354.9h0M440.4,353.3h0M440.6,349.1h0M440.8,343.2h0M440.9,339.6h0M441.1,336.8h0M441.3,336.9h0M441.4,337.6h0M441.6,344.0h0M441.8,343.9h0M442.0,345.8h0M442.1,345.7h0M442.3,344.1h0M442.5,341.0h0M442.6,338.5h0M442.8,338.0h0M443.0,339.4h0M443.2,339.9h0M443.3,338.1h0M443.5,341.5h0M443.7,340.8h0M443.8,343.2h0M444.0,345.3h0M444.2,342.3h0M444.3,340.4h0M444.5,342.2h0M444.7,339.8h0M444.9,336.2h0M445.0,334.2h0M445.2,332.7h0M445.4,332.5h0M445.5,330.5h0M445.7,331.7h0M445.9,330.0h0M446.1,328.9h0M446.2,328.8h0M446.4,328.8h0M446.6,330.2h0M446.7,333.2h0M446.9,332.2h0M447.1,331.5h0M447.3,333.1h0M447.4,333.5h0M447.6,335.3h0M447.8,334.9h0M447.9,336.0h0M448.1,333.8h0M448.3,335.2h0M448.4,336.2h0M448.6,336.1h0M448.8,336.1h0M449.0,336.0h0M449.1,335.9h0M449.3,335.9h0M449.5,335.8h0M449.6,334.1h0M449.8,331.6h0M450.0,329.5h0M450.2,328.8h0M450.3,328.8h0M450.5,328.8h0M450.7,328.8h0M450.8,328.8h0M451.0,328.8h0M451.2,328.8h0M451.4,328.1h0M451.5,327.3h0M451.7,326.5h0M451.9,325.7h0M452.0,324.9h0M452.2,324.1h0M452.4,329.4h0M452.6,326.7h0M452.7,327.0h0M452.9,328.4h0M453.1,330.8h0M453.2,333.3h0M453.4,330.9h0M453.6,332.2h0M453.7,327.8h0M453.9,326.9h0M454.1,328.5h0M454.3,327.3h0M454.4,319.2h0M454.6,313.7h0M454.8,307.7h0M454.9,305.6h0M455.1,303.5h0M455.3,301.4h0M455.5,299.3h0M455.6,299.0h0M455.8,302.0h0M456.0,304.1h0M456.1,307.9h0M456.3,307.9h0M456.5,303.9h0M456.7,307.2h0M456.8,307.8h0M457.0,311.7h0M457.2,313.4h0M457.3,311.4h0M457.5,313.5h0M457.7,310.7h0M457.8,310.3h0M458.0,310.1h0M458.2,312.8h0M458.4,311.2h0M458.5,307.8h0M458.7,304.8h0M458.9,301.6h0M459.0,302.6h0M459.2,305.2h0M459.4,301.8h0M459.6,302.2h0M459.7,301.1h0M459.9,300.9h0M460.1,302.6h0M460.2,300.2h0M460.4,297.9h0M460.6,299.9h0M460.8,304.5h0M460.9,305.4h0M461.1,304.4h0M461.3,303.4h0M461.4,305.1h0M461.6,305.6h0M461.8,304.9h0M461.9,305.4h0M462.1,305.2h0M462.3,305.1h0M462.5,305.0h0M462.6,304.9h0M462.8,304.2h0M463.0,304.7h0M463.1,302.7h0M463.3,304.1h0M463.5,304.5h0M463.7,304.4h0M463.8,300.8h0M464.0,300.7h0M464.2,301.1h0M464.3,302.2h0M464.5,300.8h0M464.7,298.8h0M464.9,298.8h0M465.0,299.9h0M465.2,300.4h0M465.4,297.5h0M465.5,297.8h0M465.7,295.8h0M465.9,296.1h0M466.1,297.5h0M466.2,296.0h0M466.4,302.8h0M466.6,303.8h0M466.7,304.0h0M466.9,302.8h0M467.1,302.8h0M467.2,303.6h0M467.4,302.1h0M467.6,302.6h0M467.8,300.1h0M467.9,299.9h0M468.1,304.4h0M468.3,302.9h0M468.4,300.2h0M468.6,302.7h0M468.8,300.1h0M469.0,299.3h0M469.1,296.9h0M469.3,297.5h0M469.5,297.0h0M469.6,298.5h0M469.8,298.5h0M470.0,301.0h0M470.2,301.4h0M470.3,299.8h0M470.5,296.3h0M470.7,294.1h0M470.8,291.2h0M471.0,294.0h0M471.2,294.8h0M471.3,291.0h0M471.5,296.1h0M471.7,301.0h0M471.9,302.7h0M472.0,305.3h0M472.2,302.7h0M472.4,302.5h0M472.5,301.4h0M472.7,300.0h0M472.9,298.9h0M473.1,298.1h0M473.2,300.6h0M473.4,301.5h0M473.6,303.6h0M473.7,307.0h0M473.9,306.0h0M474.1,305.7h0M474.3,307.0h0M474.4,307.2h0M474.6,304.5h0M474.8,303.3h0M474.9,305.0h0M475.1,305.8h0M475.3,309.3h0M475.4,309.8h0M475.6,314.2h0M475.8,312.1h0M476.0,312.0h0M476.1,312.9h0M476.3,311.2h0M476.5,309.3h0M476.6,309.1h0M476.8,309.1h0M477.0,316.4h0M477.2,313.3h0M477.3,313.3h0M477.5,316.2h0M477.7,315.5h0M477.8,316.8h0M478.0,319.8h0M478.2,319.8h0M478.4,320.3h0M478.5,321.0h0M478.7,323.8h0M478.9,330.2h0M479.0,334.1h0M479.2,337.5h0M479.4,332.3h0M479.6,327.4h0M479.7,324.5h0M479.9,321.7h0M480.1,321.4h0M480.2,321.1h0M480.4,320.9h0M480.6,326.7h0M480.7,328.5h0M480.9,331.4h0M481.1,336.1h0M481.3,337.6h0M481.4,336.5h0M481.6,338.4h0M481.8,335.1h0M481.9,331.4h0M482.1,325.7h0M482.3,326.7h0M482.5,325.5h0M482.6,326.0h0M482.8,329.3h0M483.0,331.8h0M483.1,335.2h0M483.3,341.0h0M483.5,347.3h0M483.7,345.4h0M483.8,343.0h0M484.0,342.9h0M484.2,337.6h0M484.3,335.7h0M484.5,333.0h0M484.7,332.1h0M484.8,333.1h0M485.0,336.3h0M485.2,334.9h0M485.4,335.0h0M485.5,337.1h0M485.7,335.2h0M485.9,330.3h0M486.0,326.8h0M486.2,317.5h0M486.4,311.3h0M486.6,293.5h0M486.7,276.6h0M486.9,275.6h0M487.1,276.0h0M487.2,280.5h0M487.4,277.1h0M487.6,274.2h0M487.8,270.8h0M487.9,270.8h0M488.1,270.8h0M488.3,270.8h0M488.4,270.8h0M488.6,273.4h0M488.8,276.7h0M488.9,288.6h0M489.1,291.8h0M489.3,296.7h0M489.5,294.0h0M489.6,290.0h0M489.8,285.9h0M490.0,282.9h0M490.1,284.0h0M490.3,290.6h0M490.5,296.3h0M490.7,299.9h0M490.8,303.4h0M491.0,303.9h0M491.2,304.0h0M491.3,304.8h0M491.5,306.2h0M491.7,304.9h0M491.9,301.6h0M492.0,300.4h0M492.2,300.5h0M492.4,304.4h0M492.5,307.0h0M492.7,307.2h0M492.9,309.3h0M493.0,313.9h0M493.2,318.4h0M493.4,323.0h0M493.6,316.2h0M493.7,312.0h0M493.9,309.7h0M494.1,312.3h0M494.2,316.4h0M494.4,315.1h0M494.6,316.8h0M494.8,319.3h0M494.9,319.6h0M495.1,316.1h0M495.3,314.6h0M495.4,309.1h0M495.6,306.4h0M495.8,304.1h0M496.0,296.8h0M496.1,296.8h0M496.3,298.5h0M496.5,306.2h0M496.6,309.8h0M496.8,307.8h0M497.0,309.3h0M497.2,305.4h0M497.3,301.4h0M497.5,300.3h0M497.7,298.9h0M497.8,299.5h0M498.0,303.4h0M498.2,308.8h0M498.3,312.6h0M498.5,315.4h0M498.7,320.9h0M498.9,316.9h0M499.0,311.9h0M499.2,311.0h0M499.4,309.0h0M499.5,308.8h0M499.7,308.4h0M499.9,308.0h0M500.1,310.4h0M500.2,315.1h0M500.4,323.6h0M500.6,323.8h0M500.7,323.7h0M500.9,323.6h0M501.1,323.5h0M501.3,323.4h0M501.4,313.3h0M501.6,309.8h0M501.8,289.0h0M501.9,270.1h0M502.1,261.0h0M502.3,261.0h0M502.4,257.9h0M502.6,260.1h0M502.8,256.6h0M503.0,255.8h0M503.1,258.5h0M503.3,251.7h0M503.5,248.2h0M503.6,246.6h0M503.8,250.1h0M504.0,255.4h0M504.2,263.6h0M504.3,269.8h0M504.5,273.9h0M504.7,275.5h0M504.8,271.5h0M505.0,268.6h0M505.2,269.5h0M505.4,268.1h0M505.5,267.9h0M505.7,266.2h0M505.9,267.6h0M506.0,272.5h0M506.2,273.7h0M506.4,268.9h0M506.5,270.3h0M506.7,258.7h0M506.9,250.4h0M507.1,241.7h0M507.2,237.5h0M507.4,237.4h0M507.6,245.7h0M507.7,258.2h0M507.9,260.5h0M508.1,267.5h0M508.3,277.4h0M508.4,282.6h0M508.6,276.6h0M508.8,271.9h0M508.9,270.4h0M509.1,272.5h0M509.3,267.9h0M509.5,266.4h0M509.6,266.7h0M509.8,268.8h0M510.0,268.2h0M510.1,266.0h0M510.3,261.1h0M510.5,258.5h0M510.7,254.6h0M510.8,254.3h0M511.0,247.6h0M511.2,246.3h0M511.3,244.8h0M511.5,250.0h0M511.7,255.1h0M511.8,263.7h0M512.0,266.9h0M512.2,275.9h0M512.4,277.9h0M512.5,280.2h0M512.7,279.8h0M512.9,275.6h0M513.0,270.7h0M513.2,268.1h0M513.4,270.3h0M513.6,267.4h0M513.7,270.1h0M513.9,271.2h0M514.1,267.2h0M514.2,267.8h0M514.4,264.1h0M514.6,263.5h0M514.8,259.2h0M514.9,255.6h0M515.1,258.6h0M515.3,263.7h0M515.4,264.6h0M515.6,270.6h0M515.8,275.2h0M515.9,281.2h0M516.1,282.5h0M516.3,283.5h0M516.5,281.2h0M516.6,277.0h0M516.8,274.1h0M517.0,275.7h0M517.1,274.8h0M517.3,276.0h0M517.5,276.6h0M517.7,280.1h0M517.8,281.1h0M518.0,277.8h0M518.2,276.8h0M518.3,271.3h0M518.5,268.9h0M518.7,268.8h0M518.9,268.8h0M519.0,271.8h0M519.2,274.8h0M519.4,277.2h0M519.5,278.2h0M519.7,278.5h0M519.9,278.3h0M520.0,277.0h0M520.2,277.2h0M520.4,277.6h0M520.6,278.0h0M520.7,274.9h0M520.9,277.0h0M521.1,278.5h0M521.2,281.6h0M521.4,279.9h0M521.6,277.6h0M521.8,277.0h0M521.9,273.0h0M522.1,271.8h0M522.3,268.6h0M522.4,268.1h0M522.6,267.9h0M522.8,267.6h0M523.0,267.3h0M523.1,267.1h0M523.3,269.0h0M523.5,269.8h0M523.6,267.3h0M523.8,270.2h0M524.0,272.8h0M524.2,271.3h0M524.3,270.3h0M524.5,271.5h0M524.7,275.5h0M524.8,274.5h0M525.0,279.0h0M525.2,278.5h0M525.3,278.2h0M525.5,276.9h0M525.7,274.8h0M525.9,274.3h0M526.0,274.0h0M526.2,267.0h0M526.4,264.1h0M526.5,255.2h0M526.7,251.8h0M526.9,251.3h0M527.1,252.3h0M527.2,253.0h0M527.4,246.8h0M527.6,242.3h0M527.7,241.8h0M527.9,239.4h0M528.1,232.7h0M528.3,230.8h0M528.4,231.5h0M528.6,232.5h0M528.8,241.0h0M528.9,242.8h0M529.1,242.9h0M529.3,243.5h0M529.4,242.7h0M529.6,240.0h0M529.8,238.8h0M530.0,237.3h0M530.1,235.4h0M530.3,237.7h0M530.5,245.0h0M530.6,246.5h0M530.8,253.6h0M531.0,258.3h0M531.2,261.4h0M531.3,258.0h0M531.5,257.7h0M531.7,254.9h0M531.8,253.2h0M532.0,251.6h0M532.2,251.0h0M532.4,252.8h0M532.5,252.2h0M532.7,252.7h0M532.9,257.5h0M533.0,262.1h0M533.2,263.7h0M533.4,263.8h0M533.5,263.8h0M533.7,262.2h0M533.9,256.3h0M534.1,254.4h0M534.2,247.3h0M534.4,244.6h0M534.6,246.1h0M534.7,246.0h0M534.9,247.2h0M535.1,250.9h0M535.3,250.7h0M535.4,251.5h0M535.6,251.1h0M535.8,243.6h0M535.9,241.5h0M536.1,235.9h0M536.3,234.4h0M536.5,234.9h0M536.6,237.5h0M536.8,240.5h0M537.0,245.9h0M537.1,251.1h0M537.3,252.5h0M537.5,249.5h0M537.7,249.5h0M537.8,247.8h0M538.0,249.6h0M538.2,252.5h0M538.3,255.8h0M538.5,260.2h0M538.7,264.2h0M538.8,265.2h0M539.0,265.2h0M539.2,265.2h0M539.4,265.2h0M539.5,265.2h0M539.7,265.2h0M539.9,265.2h0M540.0,265.2h0M540.2,264.8h0M540.4,264.7h0M540.6,263.6h0M540.7,262.6h0M540.9,257.7h0M541.1,253.6h0M541.2,254.2h0M541.4,255.5h0M541.6,254.4h0M541.8,253.4h0M541.9,251.7h0M542.1,252.0h0M542.3,251.9h0M542.4,253.0h0M542.6,256.9h0M542.8,254.8h0M542.9,255.8h0M543.1,257.7h0M543.3,256.8h0M543.5,257.3h0M543.6,260.5h0M543.8,261.4h0M544.0,261.1h0M544.1,263.5h0M544.3,261.7h0M544.5,263.9h0M544.7,263.9h0M544.8,261.8h0M545.0,263.0h0M545.2,262.6h0M545.3,260.1h0M545.5,258.4h0M545.7,253.1h0M545.9,249.4h0M546.0,249.3h0M546.2,249.2h0M546.4,249.1h0M546.5,249.0h0M546.7,248.9h0M546.9,248.8h0M547.0,248.7h0M547.2,250.4h0M547.4,254.4h0M547.6,258.7h0M547.7,256.3h0M547.9,256.3h0M548.1,257.6h0M548.2,256.3h0M548.4,255.9h0M548.6,256.5h0M548.8,255.7h0M548.9,256.1h0M549.1,255.9h0M549.3,253.3h0M549.4,246.1h0M549.6,246.7h0M549.8,246.8h0M550.0,245.7h0M550.1,244.5h0M550.3,243.3h0M550.5,244.8h0M550.6,244.0h0M550.8,244.4h0M551.0,243.7h0M551.1,244.1h0M551.3,242.9h0M551.5,243.1h0M551.7,240.8h0M551.8,242.4h0M552.0,245.7h0M552.2,241.0h0M552.3,245.7h0M552.5,248.2h0M552.7,250.4h0M552.9,252.9h0M553.0,252.8h0M553.2,252.4h0M553.4,254.7h0M553.5,252.6h0M553.7,252.3h0M553.9,250.0h0M554.1,249.5h0M554.2,247.2h0M554.4,246.1h0M554.6,244.0h0M554.7,245.0h0M554.9,244.4h0M555.1,245.0h0M555.3,246.5h0M555.4,246.6h0M555.6,244.1h0M555.8,246.2h0M555.9,242.3h0M556.1,246.3h0M556.3,242.7h0M556.4,243.0h0M556.6,246.1h0M556.8,248.3h0M557.0,246.3h0M557.1,246.0h0M557.3,247.9h0M557.5,245.2h0M557.6,247.0h0M557.8,249.6h0M558.0,252.3h0M558.2,252.8h0M558.3,252.0h0M558.5,251.9h0M558.7,255.2h0M558.8,255.2h0M559.0,255.2h0M559.2,252.8h0M559.4,251.8h0M559.5,245.6h0M559.7,244.8h0M559.9,242.5h0M560.0,240.8h0M560.2,242.7h0M560.4,242.7h0M560.5,244.9h0M560.7,245.1h0M560.9,247.9h0M561.1,251.9h0M561.2,253.0h0M561.4,254.8h0M561.6,251.9h0M561.7,253.1h0M561.9,251.7h0M562.1,253.0h0M562.3,251.5h0M562.4,253.4h0M562.6,253.6h0M562.8,250.3h0M562.9,249.8h0M563.1,246.1h0M563.3,246.1h0M563.5,245.2h0M563.6,242.8h0M563.8,246.5h0M564.0,246.8h0M564.1,245.3h0M564.3,247.4h0M564.5,248.2h0M564.6,250.3h0M564.8,247.3h0M565.0,250.7h0M565.2,249.5h0M565.3,250.3h0M565.5,249.7h0M565.7,250.0h0M565.8,253.5h0M566.0,253.5h0M566.2,253.5h0M566.4,253.4h0M566.5,253.4h0M566.7,253.3h0M566.9,253.3h0M567.0,250.5h0M567.2,251.5h0M567.4,247.4h0M567.6,244.6h0M567.7,238.2h0M567.9,238.0h0M568.1,234.5h0M568.2,237.1h0M568.4,237.2h0M568.6,235.0h0M568.8,230.5h0M568.9,227.6h0M569.1,226.3h0M569.3,226.6h0M569.4,227.7h0M569.6,227.1h0M569.8,231.1h0M569.9,234.1h0M570.1,235.3h0M570.3,236.4h0M570.5,236.2h0M570.6,236.1h0M570.8,236.0h0M571.0,235.9h0M571.1,235.8h0M571.3,235.7h0M571.5,234.6h0M571.7,234.9h0M571.8,234.6h0M572.0,233.6h0M572.2,232.4h0M572.3,232.3h0M572.5,227.2h0M572.7,224.0h0M572.9,224.0h0M573.0,220.1h0M573.2,219.4h0M573.4,219.3h0M573.5,220.9h0M573.7,225.8h0M573.9,229.5h0M574.0,229.7h0M574.2,229.6h0M574.4,232.2h0M574.6,233.5h0M574.7,233.4h0M574.9,233.3h0M575.1,229.9h0M575.2,223.0h0M575.4,219.0h0M575.6,217.0h0M575.8,213.9h0M575.9,212.8h0M576.1,216.0h0M576.3,222.7h0M576.4,225.9h0M576.6,229.2h0M576.8,226.6h0M577.0,222.8h0M577.1,219.7h0M577.3,215.9h0M577.5,218.5h0M577.6,219.5h0M577.8,220.0h0M578.0,216.8h0M578.1,214.2h0M578.3,212.5h0M578.5,215.6h0M578.7,214.6h0M578.8,205.8h0M579.0,205.8h0M579.2,205.8h0M579.3,205.8h0M579.5,208.4h0M579.7,218.2h0M579.9,229.3h0M580.0,237.5h0M580.2,240.5h0M580.4,241.3h0M580.5,239.8h0M580.7,232.5h0M580.9,229.3h0M581.1,226.5h0M581.2,225.9h0M581.4,220.5h0M581.6,218.4h0M581.7,219.1h0M581.9,219.0h0M582.1,217.3h0M582.3,222.3h0M582.4,226.2h0M582.6,224.1h0M582.8,220.0h0M582.9,214.6h0M583.1,215.7h0M583.3,216.9h0M583.4,223.7h0M583.6,230.5h0M583.8,236.2h0M584.0,238.7h0M584.1,245.2h0M584.3,245.2h0M584.5,245.2h0M584.6,245.2h0M584.8,233.5h0M585.0,227.9h0M585.2,221.9h0M585.3,216.6h0M585.5,212.7h0M585.7,213.7h0M585.8,213.3h0M586.0,214.8h0M586.2,224.8h0M586.4,231.7h0M586.5,239.0h0M586.7,242.8h0M586.9,243.5h0M587.0,243.2h0M587.2,242.8h0M587.4,241.7h0M587.5,237.0h0M587.7,233.2h0M587.9,233.2h0M588.1,234.1h0M588.2,232.6h0M588.4,233.2h0M588.6,233.2h0M588.7,234.2h0M588.9,235.8h0M589.1,236.0h0M589.3,237.4h0M589.4,240.1h0M589.6,239.6h0M589.8,239.0h0M589.9,239.8h0M590.1,238.4h0M590.3,237.3h0M590.5,234.2h0M590.6,232.7h0M590.8,233.7h0M591.0,235.8h0M591.1,232.2h0M591.3,229.1h0M591.5,229.1h0M591.6,229.3h0M591.8,230.5h0M592.0,231.7h0M592.2,232.7h0M592.3,234.4h0M592.5,234.0h0M592.7,236.8h0M592.8,238.4h0M593.0,238.5h0M593.2,238.5h0M593.4,238.6h0M593.5,238.6h0M593.7,238.6h0M593.9,238.7h0M594.0,238.7h0M594.2,238.8h0M594.4,238.8h0M594.6,237.8h0M594.7,236.1h0M594.9,235.4h0M595.1,235.2h0M595.2,234.7h0M595.4,233.6h0M595.6,230.7h0M595.7,230.7h0M595.9,230.8h0M596.1,230.7h0M596.3,230.6h0M596.4,230.6h0M596.6,230.5h0M596.8,230.6h0M596.9,230.3h0M597.1,233.9h0M597.3,232.4h0M597.5,234.3h0M597.6,234.3h0M597.8,237.0h0M598.0,238.2h0M598.1,238.1h0M598.3,237.4h0M598.5,238.0h0M598.7,237.9h0M598.8,237.8h0M599.0,237.7h0M599.2,237.6h0M599.3,237.4h0M599.5,236.9h0M599.7,235.9h0M599.9,234.8h0M600.0,231.2h0M600.2,229.0h0M600.4,228.3h0M600.5,228.1h0M600.7,227.8h0M600.9,227.6h0M601.0,227.4h0M601.2,227.2h0M601.4,226.9h0M601.6,226.7h0M601.7,226.5h0M601.9,228.9h0M602.1,231.0h0M602.2,231.5h0M602.4,231.1h0M602.6,235.3h0M602.8,235.4h0M602.9,236.2h0M603.1,236.2h0M603.3,236.2h0M603.4,234.3h0M603.6,235.1h0M603.8,231.2h0M604.0,228.9h0M604.1,225.4h0M604.3,224.5h0M604.5,224.4h0M604.6,224.3h0M604.8,224.3h0M605.0,224.2h0M605.1,224.7h0M605.3,225.7h0M605.5,227.2h0M605.7,230.8h0M605.8,235.8h0M606.0,235.0h0M606.2,233.2h0M606.3,235.5h0M606.5,235.7h0M606.7,235.7h0M606.9,235.7h0M607.0,235.6h0M607.2,235.6h0M607.4,233.6h0M607.5,230.4h0M607.7,228.1h0M607.9,230.3h0M608.1,228.0h0M608.2,228.4h0M608.4,226.5h0M608.6,227.0h0M608.7,227.2h0M608.9,228.3h0M609.1,227.3h0M609.2,226.5h0M609.4,222.9h0M609.6,222.9h0M609.8,223.2h0M609.9,223.5h0M610.1,224.3h0M610.3,225.8h0M610.4,229.1h0M610.6,228.5h0M610.8,229.7h0M611.0,232.3h0M611.1,234.8h0M611.3,234.1h0M611.5,230.6h0M611.6,232.0h0M611.8,233.8h0M612.0,235.7h0M612.2,235.8h0M612.3,235.7h0M612.5,235.5h0M612.7,234.4h0M612.8,231.0h0M613.0,227.7h0M613.2,223.0h0M613.4,222.8h0M613.5,222.8h0M613.7,222.8h0M613.9,222.8h0M614.0,222.8h0M614.2,225.9h0M614.4,228.4h0M614.5,232.9h0M614.7,233.6h0M614.9,234.5h0M615.1,235.2h0M615.2,231.7h0M615.4,234.9h0M615.6,235.0h0M615.7,236.0h0M615.9,236.7h0M616.1,236.7h0M616.3,236.8h0M616.4,236.3h0M616.6,236.9h0M616.8,235.8h0M616.9,233.5h0M617.1,233.6h0M617.3,231.6h0M617.5,227.1h0M617.6,222.8h0M617.8,224.2h0M618.0,222.8h0M618.1,223.0h0M618.3,226.6h0M618.5,229.7h0M618.6,230.4h0M618.8,231.4h0M619.0,231.7h0M619.2,233.2h0M619.3,233.0h0M619.5,231.0h0M619.7,230.2h0M619.8,233.9h0M620.0,234.7h0M620.2,237.9h0M620.4,246.4h0M620.5,246.6h0M620.7,247.6h0M620.9,245.7h0M621.0,244.9h0M621.2,239.6h0M621.4,234.4h0M621.6,229.7h0M621.7,230.6h0M621.9,231.6h0M622.1,232.5h0M622.2,237.8h0M622.4,243.1h0M622.6,243.7h0M622.7,244.2h0M622.9,243.6h0M623.1,240.3h0M623.3,243.3h0M623.4,247.3h0M623.6,250.9h0M623.8,258.1h0M623.9,269.0h0M624.1,273.6h0M624.3,272.4h0M624.5,272.1h0M624.6,271.6h0M624.8,268.0h0M625.0,262.2h0M625.1,264.1h0M625.3,262.1h0M625.5,264.7h0M625.7,266.6h0M625.8,269.1h0M626.0,277.4h0M626.2,274.0h0M626.3,281.1h0M626.5,275.5h0M626.7,274.1h0M626.9,273.0h0M627.0,271.8h0M627.2,272.3h0M627.4,272.9h0M627.5,273.9h0M627.7,277.6h0M627.9,282.7h0M628.0,284.6h0M628.2,291.6h0M628.4,292.8h0M628.6,293.1h0M628.7,293.3h0M628.9,293.0h0M629.1,292.6h0M629.2,285.8h0M629.4,282.6h0M629.6,283.5h0M629.8,281.5h0M629.9,286.4h0M630.1,291.5h0M630.3,291.0h0M630.4,291.4h0M630.6,289.0h0M630.8,286.2h0M631.0,281.5h0M631.1,280.9h0M631.3,282.5h0M631.5,283.5h0M631.6,283.4h0M631.8,284.6h0M632.0,284.0h0M632.1,286.6h0M632.3,286.3h0M632.5,285.0h0M632.7,286.8h0M632.8,284.6h0M633.0,284.8h0M633.2,286.9h0M633.3,288.2h0M633.5,286.9h0M633.7,287.5h0M633.9,290.0h0M634.0,293.0h0M634.2,293.8h0M634.4,294.0h0M634.5,292.3h0M634.7,291.4h0M634.9,285.1h0M635.1,286.8h0M635.2,287.8h0M635.4,287.8h0M635.6,285.5h0M635.7,288.5h0M635.9,285.6h0M636.1,287.9h0M636.2,286.5h0M636.4,285.6h0M636.6,285.6h0M636.8,285.7h0M636.9,285.8h0M637.1,285.8h0M637.3,285.9h0M637.4,285.9h0M637.6,287.3h0M637.8,291.0h0M638.0,291.5h0M638.1,293.9h0M638.3,297.3h0M638.5,298.0h0M638.6,298.0h0M638.8,298.0h0M639.0,298.1h0M639.2,298.1h0M639.3,298.1h0M639.5,298.1h0M639.7,296.0h0M639.8,294.1h0M640.0,294.0h0M640.2,292.4h0M640.4,291.4h0M640.5,291.4h0M640.7,286.8h0M640.9,284.7h0M641.0,284.3h0M641.2,283.9h0M641.4,283.5h0M641.5,283.1h0M641.7,289.7h0M641.9,289.0h0M642.1,288.0h0M642.2,289.5h0M642.4,289.2h0M642.6,290.0h0M642.7,291.6h0M642.9,290.8h0M643.1,290.2h0M643.3,291.6h0M643.4,287.9h0M643.6,288.6h0M643.8,290.5h0M643.9,291.3h0M644.1,287.4h0M644.3,285.0h0M644.5,282.3h0M644.6,279.3h0M644.8,275.3h0M645.0,274.9h0M645.1,273.9h0M645.3,272.7h0M645.5,272.4h0M645.6,273.1h0M645.8,274.9h0M646.0,276.6h0M646.2,277.9h0M646.3,277.8h0M646.5,276.4h0M646.7,272.1h0M646.8,268.9h0M647.0,266.3h0M647.2,270.4h0M647.4,276.5h0M647.5,278.5h0M647.7,280.8h0M647.9,280.7h0M648.0,277.5h0M648.2,274.8h0M648.4,272.0h0M648.6,273.1h0M648.7,270.0h0M648.9,272.7h0M649.1,275.3h0M649.2,282.4h0M649.4,285.3h0M649.6,286.2h0M649.7,286.1h0M649.9,283.2h0M650.1,277.6h0M650.3,271.2h0M650.4,266.4h0M650.6,264.9h0M650.8,266.6h0M650.9,269.4h0M651.1,270.0h0M651.3,276.6h0M651.5,274.9h0M651.6,270.9h0M651.8,264.1h0M652.0,260.0h0M652.1,255.7h0M652.3,253.3h0M652.5,253.3h0M652.7,254.6h0M652.8,258.3h0M653.0,258.2h0M653.2,261.5h0M653.3,263.5h0M653.5,263.9h0M653.7,265.7h0M653.8,266.0h0M654.0,265.0h0M654.2,261.7h0M654.4,260.5h0M654.5,259.5h0M654.7,261.2h0M654.9,258.8h0M655.0,262.2h0M655.2,264.3h0M655.4,275.8h0M655.6,274.9h0M655.7,274.0h0M655.9,273.1h0M656.1,271.2h0M656.2,265.5h0M656.4,265.9h0M656.6,263.8h0M656.8,261.7h0M656.9,260.8h0M657.1,260.0h0M657.3,258.5h0M657.4,257.6h0M657.6,257.8h0M657.8,254.7h0M658.0,253.9h0M658.1,246.8h0M658.3,240.0h0M658.5,237.6h0M658.6,235.2h0M658.8,236.4h0M659.0,232.7h0M659.1,231.8h0M659.3,231.8h0M659.5,234.1h0M659.7,235.5h0M659.8,237.2h0M660.0,239.2h0M660.2,239.6h0M660.3,241.3h0M660.5,240.1h0M660.7,240.5h0M660.9,238.6h0M661.0,238.0h0M661.2,236.7h0M661.4,236.5h0M661.5,236.2h0M661.7,241.8h0M661.9,240.1h0M662.1,244.4h0M662.2,245.8h0M662.4,244.2h0M662.6,246.0h0M662.7,243.3h0M662.9,241.4h0M663.1,239.8h0M663.2,240.6h0M663.4,241.2h0M663.6,242.2h0M663.8,242.3h0M663.9,245.2h0M664.1,244.1h0M664.3,244.1h0M664.4,242.0h0M664.6,240.2h0M664.8,234.9h0M665.0,233.5h0M665.1,232.5h0M665.3,233.4h0M665.5,235.3h0M665.6,240.1h0M665.8,240.8h0M666.0,246.2h0M666.2,249.9h0M666.3,253.1h0M666.5,252.4h0M666.7,252.5h0M666.8,250.7h0M667.0,253.2h0M667.2,252.4h0M667.3,253.0h0M667.5,254.8h0M667.7,259.6h0M667.9,265.3h0M668.0,271.1h0M668.2,272.8h0M668.4,273.6h0M668.5,274.4h0M668.7,275.2h0M668.9,273.2h0M669.1,268.5h0M669.2,266.4h0M669.4,267.5h0M669.6,259.3h0M669.7,259.7h0M669.9,263.4h0M670.1,263.5h0M670.3,267.5h0M670.4,267.3h0M670.6,265.9h0M670.8,261.9h0M670.9,258.9h0M671.1,251.7h0M671.3,250.7h0M671.5,251.1h0M671.6,252.1h0M671.8,258.5h0M672.0,261.8h0M672.1,264.6h0M672.3,265.7h0M672.5,270.9h0M672.6,274.9h0M672.8,279.0h0M673.0,287.4h0M673.2,296.8h0M673.3,303.2h0M673.5,310.8h0M673.7,317.8h0M673.8,322.4h0M674.0,326.5h0M674.2,327.3h0M674.4,332.3h0M674.5,335.2h0M674.7,341.8h0M674.9,346.9h0M675.0,349.3h0M675.2,352.8h0M675.4,357.2h0M675.6,356.8h0M675.7,356.4h0M675.9,356.0h0M676.1,351.4h0M676.2,351.4h0M676.4,347.0h0M676.6,342.7h0M676.7,340.5h0M676.9,336.8h0M677.1,337.4h0M677.3,338.6h0M677.4,339.2h0M677.6,338.7h0M677.8,339.8h0M677.9,340.6h0M678.1,339.7h0M678.3,333.7h0M678.5,332.3h0M678.6,330.1h0M678.8,326.4h0M679.0,328.0h0M679.1,330.8h0M679.3,331.7h0M679.5,332.9h0M679.7,335.5h0M679.8,334.8h0M680.0,332.9h0M680.2,329.3h0M680.3,325.7h0M680.5,324.0h0M680.7,324.1h0M680.8,320.0h0M681.0,315.9h0M681.2,314.2h0M681.4,312.0h0M681.5,307.7h0M681.7,303.8h0M681.9,301.4h0M682.0,299.1h0M682.2,296.7h0M682.4,294.3h0M682.6,296.6h0M682.7,300.6h0M682.9,299.1h0M683.1,297.5h0M683.2,297.7h0M683.4,298.8h0M683.6,301.7h0M683.8,302.5h0M683.9,301.3h0M684.1,302.7h0M684.3,306.1h0M684.4,304.7h0M684.6,305.5h0M684.8,305.7h0M685.0,304.1h0M685.1,303.2h0M685.3,301.9h0M685.5,299.2h0M685.6,294.5h0M685.8,293.3h0M686.0,295.8h0M686.1,295.2h0M686.3,296.4h0M686.5,301.1h0M686.7,295.7h0M686.8,294.0h0M687.0,290.8h0M687.2,289.8h0M687.3,291.8h0M687.5,291.7h0M687.7,293.0h0M687.9,294.0h0M688.0,296.4h0M688.2,299.2h0M688.4,309.7h0M688.5,310.9h0M688.7,310.9h0M688.9,310.9h0M689.1,307.1h0M689.2,306.1h0M689.4,304.8h0M689.6,299.4h0M689.7,298.1h0M689.9,300.7h0M690.1,302.8h0M690.2,307.2h0M690.4,306.4h0M690.6,302.6h0M690.8,303.5h0M690.9,300.8h0M691.1,297.2h0M691.3,291.5h0M691.4,288.6h0M691.6,288.4h0M691.8,288.3h0M692.0,290.1h0M692.1,294.2h0M692.3,299.0h0M692.5,298.4h0M692.6,295.4h0M692.8,295.2h0M693.0,291.8h0M693.2,292.1h0M693.3,290.3h0M693.5,292.4h0M693.7,294.1h0M693.8,294.7h0M694.0,298.5h0M694.2,298.9h0M694.3,300.9h0M694.5,303.1h0M694.7,306.5h0M694.9,301.9h0M695.0,302.3h0M695.2,303.6h0M695.4,301.5h0M695.5,300.3h0M695.7,301.1h0M695.9,303.1h0M696.1,304.7h0M696.2,302.3h0M696.4,298.4h0M696.6,293.8h0M696.7,287.7h0M696.9,276.7h0M697.1,267.4h0M697.3,258.7h0M697.4,259.8h0M697.6,259.3h0M697.8,260.7h0M697.9,263.5h0M698.1,266.8h0M698.3,268.3h0M698.4,266.9h0M698.6,265.8h0M698.8,259.1h0M699.0,248.6h0M699.1,247.8h0M699.3,248.9h0M699.5,247.8h0M699.6,251.9h0M699.8,253.4h0M700.0,257.2h0M700.2,262.1h0M700.3,264.5h0M700.5,265.7h0M700.7,268.2h0M700.8,267.6h0M701.0,263.3h0M701.2,256.7h0M701.4,257.5h0M701.5,255.6h0M701.7,257.5h0M701.9,260.6h0M702.0,264.7h0M702.2,271.6h0M702.4,276.8h0M702.6,277.2h0M702.7,277.2h0M702.9,277.2h0M703.1,274.5h0M703.2,275.0h0M703.4,271.9h0M703.6,270.2h0M703.7,271.0h0M703.9,268.4h0M704.1,270.1h0M704.3,272.2h0M704.4,270.1h0M704.6,270.2h0M704.8,270.5h0M704.9,268.8h0M705.1,263.1h0M705.3,261.9h0M705.5,259.6h0M705.6,259.5h0M705.8,258.4h0M706.0,258.4h0M706.1,262.9h0M706.3,266.3h0M706.5,269.6h0M706.7,267.0h0M706.8,263.7h0M707.0,257.2h0M707.2,253.0h0M707.3,252.6h0M707.5,254.0h0M707.7,261.3h0M707.8,262.3h0M708.0,265.5h0M708.2,261.6h0M708.4,261.7h0M708.5,258.3h0M708.7,254.7h0M708.9,254.3h0M709.0,255.2h0M709.2,258.4h0M709.4,261.2h0M709.6,264.5h0M709.7,268.9h0M709.9,273.0h0M710.1,269.2h0M710.2,269.0h0M710.4,266.4h0M710.6,265.3h0M710.8,265.6h0M710.9,268.4h0M711.1,270.0h0M711.3,272.8h0M711.4,276.1h0M711.6,276.0h0M711.8,276.0h0M711.9,275.9h0M712.1,275.6h0M712.3,270.4h0M712.5,269.6h0M712.6,263.3h0M712.8,257.4h0M713.0,259.6h0M713.1,263.0h0M713.3,261.6h0M713.5,262.2h0M713.7,262.9h0M713.8,262.8h0M714.0,258.0h0M714.2,252.8h0M714.3,249.9h0M714.5,249.0h0M714.7,248.0h0M714.9,247.1h0M715.0,246.1h0M715.2,246.5h0M715.4,249.7h0M715.5,252.1h0M715.7,255.4h0M715.9,255.9h0M716.1,257.2h0M716.2,251.9h0M716.4,249.3h0M716.6,250.9h0M716.7,248.4h0M716.9,251.6h0M717.1,254.7h0M717.2,257.9h0M717.4,258.9h0M717.6,258.0h0M717.8,255.3h0M717.9,252.6h0M718.1,249.6h0M718.3,248.7h0M718.4,243.2h0M718.6,241.0h0M718.8,240.4h0M719.0,240.4h0M719.1,240.4h0M719.3,241.6h0M719.5,247.8h0M719.6,249.2h0M719.8,246.8h0M720.0,245.8h0M720.2,245.8h0M720.3,244.2h0M720.5,241.1h0M720.7,241.4h0M720.8,240.2h0M721.0,242.9h0M721.2,245.5h0M721.3,243.5h0M721.5,247.4h0M721.7,254.7h0M721.9,255.7h0M722.0,255.3h0M722.2,255.0h0M722.4,250.3h0M722.5,249.0h0M722.7,249.0h0M722.9,248.8h0M723.1,248.5h0M723.2,247.7h0M723.4,248.0h0M723.6,247.5h0M723.7,244.1h0M723.9,241.4h0M724.1,239.8h0M724.3,239.8h0M724.4,239.8h0M724.6,239.8h0M724.8,239.8h0M724.9,239.8h0M725.1,239.8h0M725.3,241.7h0M725.4,246.9h0M725.6,247.8h0M725.8,250.1h0M726.0,248.5h0M726.1,248.9h0M726.3,247.9h0M726.5,249.7h0M726.6,249.1h0M726.8,254.4h0M727.0,253.2h0M727.2,257.2h0M727.3,255.7h0M727.5,256.3h0M727.7,257.0h0M727.8,257.2h0M728.0,253.2h0M728.2,246.5h0M728.4,245.0h0M728.5,241.5h0M728.7,239.8h0M728.9,239.8h0M729.0,240.8h0M729.2,243.4h0M729.4,244.5h0M729.6,246.8h0M729.7,248.6h0M729.9,248.7h0M730.1,249.8h0M730.2,252.7h0M730.4,256.3h0M730.6,256.2h0M730.7,255.1h0M730.9,253.2h0M731.1,252.9h0M731.3,255.1h0M731.4,256.2h0M731.6,255.5h0M731.8,255.1h0M731.9,252.9h0M732.1,250.5h0M732.3,247.8h0M732.5,245.0h0M732.6,241.0h0M732.8,241.0h0M733.0,239.5h0M733.1,240.9h0M733.3,239.7h0M733.5,242.5h0M733.7,245.3h0M733.8,246.9h0M734.0,243.8h0M734.2,239.0h0M734.3,237.9h0M734.5,237.8h0M734.7,237.7h0M734.8,241.1h0M735.0,246.4h0M735.2,246.3h0M735.4,250.1h0M735.5,255.3h0M735.7,255.0h0M735.9,249.9h0M736.0,248.1h0M736.2,246.0h0M736.4,248.0h0M736.6,247.3h0M736.7,247.7h0M736.9,251.2h0M737.1,254.1h0M737.2,255.4h0M737.4,255.4h0M737.6,255.3h0M737.8,255.3h0M737.9,252.9h0M738.1,248.8h0M738.3,244.2h0M738.4,242.9h0M738.6,241.0h0M738.8,242.8h0M738.9,243.6h0M739.1,245.5h0M739.3,246.2h0M739.5,244.8h0M739.6,244.2h0M739.8,244.8h0M740.0,242.5h0M740.1,244.3h0M740.3,244.3h0M740.5,242.3h0M740.7,246.0h0M740.8,250.3h0M741.0,254.2h0M741.2,254.2h0M741.3,254.1h0M741.5,254.0h0M741.7,254.0h0M741.9,253.9h0M742.0,253.9h0M742.2,253.8h0M742.4,252.9h0M742.5,251.1h0M742.7,251.7h0M742.9,253.6h0M743.0,252.4h0M743.2,250.0h0M743.4,246.2h0M743.6,240.9h0M743.7,237.5h0M743.9,236.6h0M744.1,234.6h0M744.2,233.6h0M744.4,232.4h0M744.6,233.0h0M744.8,236.3h0M744.9,235.7h0M745.1,235.3h0M745.3,234.2h0M745.4,232.4h0M745.6,233.8h0M745.8,234.7h0M746.0,232.5h0M746.1,232.7h0M746.3,236.9h0M746.5,236.9h0M746.6,237.6h0M746.8,236.3h0M747.0,236.7h0M747.2,235.4h0M747.3,235.0h0M747.5,233.9h0M747.7,238.0h0M747.8,239.6h0M748.0,239.7h0M748.2,239.8h0M748.3,239.9h0M748.5,240.0h0M748.7,239.3h0M748.9,236.1h0M749.0,236.8h0M749.2,233.0h0M749.4,231.2h0M749.5,231.1h0M749.7,230.5h0M749.9,231.2h0M750.1,230.9h0M750.2,231.7h0M750.4,235.4h0M750.6,235.3h0M750.7,235.7h0M750.9,235.1h0M751.1,238.2h0M751.3,242.8h0M751.4,244.0h0M751.6,247.4h0M751.8,250.4h0M751.9,252.5h0M752.1,254.5h0M752.3,256.6h0M752.4,258.6h0M752.6,260.7h0M752.8,258.8h0M753.0,258.3h0M753.1,254.7h0M753.3,255.6h0M753.5,254.9h0M753.6,254.8h0M753.8,253.3h0M754.0,255.1h0M754.2,255.5h0M754.3,253.8h0M754.5,251.3h0M754.7,253.3h0M754.8,250.7h0M755.0,254.5h0M755.2,259.1h0M755.4,259.4h0M755.5,258.4h0M755.7,258.8h0M755.9,259.8h0M756.0,262.2h0M756.2,266.5h0M756.4,266.6h0M756.5,266.6h0M756.7,264.9h0M756.9,266.7h0M757.1,266.5h0M757.2,263.0h0M757.4,261.8h0M757.6,262.0h0M757.7,257.7h0M757.9,255.9h0M758.1,255.7h0M758.3,252.0h0M758.4,251.7h0M758.6,252.0h0M758.8,250.8h0M758.9,251.7h0M759.1,250.8h0M759.3,250.8h0M759.5,250.8h0M759.6,254.1h0M759.8,255.2h0M760.0,257.5h0M760.1,261.5h0M760.3,266.1h0M760.5,266.2h0M760.7,265.4h0M760.8,264.8h0M761.0,262.5h0M761.2,264.2h0M761.3,265.9h0M761.5,265.8h0M761.7,265.7h0M761.8,265.7h0M762.0,265.6h0M762.2,265.5h0M762.4,261.1h0M762.5,256.8h0M762.7,256.2h0M762.9,251.5h0M763.0,250.8h0M763.2,250.7h0M763.4,250.7h0M763.6,251.6h0M763.7,250.6h0M763.9,254.0h0M764.1,254.9h0M764.2,257.8h0M764.4,258.7h0M764.6,260.1h0M764.8,261.0h0M764.9,263.3h0M765.1,260.6h0M765.3,260.1h0M765.4,263.1h0M765.6,263.0h0M765.8,262.8h0M765.9,262.7h0M766.1,262.0h0M766.3,260.8h0M766.5,260.4h0M766.6,262.0h0M766.8,261.4h0M767.0,261.8h0M767.1,259.5h0M767.3,256.1h0M767.5,254.7h0M767.7,256.6h0M767.8,255.7h0M768.0,256.5h0M768.2,252.3h0M768.3,250.6h0M768.5,249.2h0M768.7,249.4h0M768.9,249.1h0M769.0,249.1h0M769.2,249.0h0M769.4,249.0h0M769.5,248.9h0M769.7,249.1h0M769.9,249.5h0M770.0,251.9h0M770.2,252.1h0M770.4,252.9h0M770.6,254.2h0M770.7,255.4h0M770.9,256.2h0M771.1,254.1h0M771.2,257.2h0M771.4,257.0h0M771.6,255.2h0M771.8,255.9h0M771.9,252.9h0M772.1,255.1h0M772.3,254.0h0M772.4,251.1h0M772.6,248.6h0M772.8,246.2h0M773.0,245.2h0M773.1,245.0h0M773.3,246.7h0M773.5,247.0h0M773.6,247.5h0M773.8,248.0h0M774.0,247.2h0M774.2,245.4h0M774.3,243.6h0M774.5,246.3h0M774.7,247.9h0M774.8,251.4h0M775.0,255.2h0M775.2,254.9h0M775.3,254.7h0M775.5,254.4h0M775.7,254.1h0M775.9,253.8h0M776.0,253.6h0M776.2,253.3h0M776.4,253.0h0M776.5,252.8h0M776.7,252.5h0M776.9,252.2h0M777.1,251.9h0M777.2,249.1h0M777.4,248.8h0M777.6,246.0h0M777.7,244.9h0M777.9,243.8h0M778.1,242.7h0M778.3,242.1h0M778.4,242.1h0M778.6,242.1h0M778.8,244.1h0M778.9,244.4h0M779.1,243.6h0M779.3,246.0h0M779.4,247.9h0M779.6,247.8h0M779.8,247.1h0M780.0,246.5h0M780.1,246.9h0M780.3,246.8h0M780.5,247.2h0M780.6,246.3h0M780.8,244.8h0M781.0,241.9h0M781.2,243.3h0M781.3,243.6h0M781.5,241.7h0M781.7,240.8h0M781.8,240.7h0M782.0,240.6h0M782.2,240.5h0M782.4,240.4h0M782.5,240.3h0M782.7,240.2h0M782.9,240.1h0M783.0,240.0h0M783.2,239.9h0M783.4,240.6h0M783.5,241.1h0M783.7,243.0h0M783.9,242.4h0M784.1,244.4h0M784.2,243.5h0M784.4,243.4h0M784.6,244.3h0M784.7,243.1h0M784.9,241.1h0M785.1,242.7h0M785.3,238.6h0M785.4,237.6h0M785.6,237.2h0M785.8,236.7h0M785.9,236.3h0M786.1,235.8h0M786.3,235.4h0M786.5,234.9h0M786.6,234.4h0M786.8,234.0h0M787.0,233.5h0M787.1,233.1h0M787.3,232.6h0M787.5,232.2h0M787.7,232.2h0M787.8,234.6h0M788.0,236.2h0M788.2,237.1h0M788.3,239.3h0M788.5,241.2h0M788.7,241.2h0M788.8,241.2h0M789.0,240.0h0M789.2,241.2h0M789.4,241.2h0M789.5,240.9h0M789.7,240.2h0M789.9,240.5h0M790.0,234.7h0M790.2,237.8h0M790.4,237.6h0M790.6,235.3h0M790.7,231.9h0M790.9,230.8h0M791.1,233.8h0M791.2,232.7h0M791.4,233.8h0M791.6,232.6h0M791.8,232.3h0M791.9,233.6h0M792.1,231.6h0M792.3,231.8h0M792.4,231.9h0M792.6,234.0h0M792.8,236.2h0M792.9,237.6h0M793.1,241.2h0M793.3,241.0h0M793.5,241.0h0M793.6,241.2h0M793.8,241.2h0M794.0,241.2h0M794.1,238.7h0M794.3,236.9h0M794.5,233.9h0M794.7,238.4h0M794.8,240.1h0M795.0,239.0h0M795.2,238.6h0M795.3,236.1h0M795.5,236.8h0M795.7,239.0h0M795.9,241.0h0M796.0,246.0h0M796.2,244.1h0M796.4,245.6h0M796.5,244.0h0M796.7,243.3h0M796.9,243.3h0M797.0,246.0h0M797.2,249.1h0M797.4,251.0h0M797.6,254.4h0M797.7,254.5h0M797.9,254.6h0M798.1,254.8h0M798.2,254.9h0M798.4,255.0h0M798.6,255.2h0M798.8,255.3h0M798.9,253.8h0M799.1,251.7h0M799.3,249.5h0M799.4,247.0h0M799.6,247.9h0M799.8,246.9h0M800.0,241.8h0M800.1,240.7h0M800.3,241.1h0M800.5,243.0h0M800.6,243.9h0M800.8,247.9h0M801.0,246.8h0M801.1,250.1h0M801.3,250.4h0M801.5,254.4h0M801.7,254.1h0M801.8,253.9h0M802.0,253.7h0M802.2,253.5h0M802.3,253.3h0M802.5,250.4h0M802.7,248.2h0M802.9,245.1h0M803.0,246.8h0M803.2,249.3h0M803.4,247.9h0M803.5,244.6h0M803.7,240.8h0M803.9,241.3h0M804.1,239.3h0M804.2,238.4h0M804.4,238.2h0M804.6,237.9h0M804.7,237.9h0M804.9,239.8h0M805.1,239.0h0M805.3,241.8h0M805.4,240.9h0M805.6,244.1h0M805.8,246.8h0M805.9,246.6h0M806.1,248.0h0M806.3,244.9h0M806.4,248.0h0M806.6,248.6h0M806.8,248.4h0M807.0,248.3h0M807.1,246.8h0M807.3,245.2h0M807.5,247.0h0M807.6,246.7h0M807.8,246.6h0M808.0,245.3h0M808.2,244.7h0M808.3,243.0h0M808.5,237.8h0M808.7,240.1h0M808.8,239.3h0M809.0,239.6h0M809.2,239.5h0M809.4,238.3h0M809.5,239.2h0M809.7,243.2h0M809.9,241.7h0M810.0,237.9h0M810.2,236.9h0M810.4,236.2h0M810.5,237.7h0M810.7,235.9h0M810.9,236.0h0M811.1,237.2h0M811.2,240.0h0M811.4,242.1h0M811.6,241.9h0M811.7,241.6h0M811.9,241.3h0M812.1,241.1h0M812.3,238.4h0M812.4,234.3h0M812.6,230.6h0M812.8,231.0h0M812.9,229.1h0M813.1,225.7h0M813.3,227.4h0M813.5,226.4h0M813.6,227.8h0M813.8,225.9h0M814.0,224.4h0M814.1,226.1h0M814.3,223.7h0M814.5,224.9h0M814.6,222.8h0M814.8,224.2h0M815.0,225.2h0M815.2,226.2h0M815.3,232.0h0M815.5,232.7h0M815.7,234.9h0M815.8,231.0h0M816.0,232.0h0M816.2,230.4h0M816.4,231.6h0M816.5,232.8h0M816.7,230.5h0M816.9,230.5h0M817.0,230.1h0M817.2,230.5h0M817.4,231.4h0M817.6,229.8h0M817.7,228.5h0M817.9,227.6h0M818.1,224.2h0M818.2,219.1h0M818.4,216.1h0M818.6,212.3h0M818.8,211.9h0M818.9,211.5h0M819.1,211.4h0M819.3,215.4h0M819.4,216.4h0M819.6,216.6h0M819.8,212.1h0M819.9,210.0h0M820.1,209.0h0M820.3,210.9h0M820.5,213.9h0M820.6,217.1h0M820.8,219.8h0M821.0,225.3h0M821.1,226.2h0M821.3,227.9h0M821.5,229.2h0M821.7,228.0h0M821.8,224.4h0M822.0,222.2h0M822.2,221.5h0M822.3,223.3h0M822.5,221.5h0M822.7,221.5h0M822.9,221.6h0M823.0,220.1h0M823.2,219.0h0M823.4,217.1h0M823.5,214.2h0M823.7,209.6h0M823.9,206.4h0M824.0,203.3h0M824.2,203.3h0M824.4,202.8h0M824.6,181.5h0M824.7,161.5h0M824.9,155.4h0M825.1,157.2h0M825.2,160.0h0M825.4,159.6h0M825.6,156.7h0M825.8,153.1h0M825.9,154.5h0M826.1,154.0h0M826.3,157.8h0M826.4,164.3h0M826.6,169.7h0M826.8,175.6h0M827.0,179.1h0M827.1,178.1h0M827.3,179.1h0M827.5,178.9h0M827.6,170.9h0M827.8,160.0h0M828.0,156.9h0M828.1,155.8h0M828.3,150.7h0M828.5,148.9h0M828.7,152.9h0M828.8,149.4h0M829.0,152.4h0M829.2,151.8h0M829.3,149.7h0M829.5,146.4h0M829.7,138.7h0M829.9,134.3h0M830.0,136.7h0M830.2,132.4h0M830.4,131.7h0M830.5,136.8h0M830.7,137.7h0M830.9,134.1h0M831.1,132.1h0M831.2,129.5h0M831.4,123.6h0M831.6,120.0h0M831.7,121.0h0M831.9,124.5h0M832.1,125.5h0M832.3,125.8h0M832.4,127.7h0M832.6,125.5h0M832.8,126.8h0M832.9,130.1h0M833.1,133.0h0M833.3,132.2h0M833.4,130.3h0M833.6,126.4h0M833.8,126.9h0M834.0,127.3h0M834.1,127.8h0M834.3,128.2h0M834.5,138.5h0M834.6,145.7h0M834.8,145.3h0M835.0,143.7h0M835.2,143.9h0M835.3,140.3h0M835.5,138.6h0M835.7,135.5h0M835.8,140.6h0M836.0,144.3h0M836.2,149.8h0M836.4,153.7h0M836.5,158.6h0M836.7,158.8h0M836.9,155.8h0M837.0,154.4h0M837.2,153.4h0M837.4,146.8h0M837.5,142.6h0M837.7,145.0h0M837.9,144.5h0M838.1,146.1h0M838.2,148.9h0M838.4,155.4h0M838.6,155.9h0M838.7,160.3h0M838.9,156.4h0M839.1,156.0h0M839.3,152.5h0M839.4,154.1h0M839.6,154.8h0M839.8,154.9h0M839.9,154.9h0M840.1,155.0h0M840.3,157.5h0M840.5,160.2h0M840.6,159.3h0M840.8,158.8h0M841.0,155.5h0M841.1,155.4h0M841.3,155.4h0M841.5,155.5h0M841.6,160.1h0M841.8,163.0h0M842.0,169.5h0M842.2,174.9h0M842.3,174.4h0M842.5,171.7h0M842.7,171.6h0M842.8,170.8h0M843.0,172.8h0M843.2,171.8h0M843.4,172.5h0M843.5,173.0h0M843.7,175.6h0M843.9,180.8h0M844.0,180.9h0M844.2,180.9h0M844.4,181.0h0M844.6,180.2h0M844.7,173.9h0M844.9,169.1h0M845.1,168.0h0M845.2,168.1h0M845.4,169.4h0M845.6,169.2h0M845.7,168.3h0M845.9,166.4h0M846.1,168.8h0M846.3,170.4h0M846.4,167.3h0M846.6,165.5h0M846.8,163.5h0M846.9,159.9h0M847.1,158.2h0M847.3,160.1h0M847.5,161.9h0M847.6,166.1h0M847.8,166.4h0M848.0,169.9h0M848.1,177.0h0M848.3,178.8h0M848.5,178.9h0M848.7,178.8h0M848.8,178.7h0M849.0,177.4h0M849.2,175.4h0M849.3,174.2h0M849.5,172.5h0M849.7,173.0h0M849.9,173.5h0M850.0,175.0h0M850.2,176.4h0M850.4,175.7h0M850.5,172.8h0M850.7,166.8h0M850.9,165.8h0M851.0,161.6h0M851.2,161.3h0M851.4,160.6h0M851.6,162.6h0M851.7,165.8h0M851.9,165.9h0M852.1,160.5h0M852.2,160.3h0M852.4,160.2h0M852.6,160.2h0M852.8,160.1h0M852.9,162.5h0M853.1,164.9h0M853.3,167.4h0M853.4,173.3h0M853.6,174.9h0M853.8,176.5h0M854.0,176.5h0M854.1,175.3h0M854.3,176.4h0M854.5,176.4h0M854.6,172.5h0M854.8,171.1h0M855.0,168.9h0M855.1,167.7h0M855.3,165.5h0M855.5,167.3h0M855.7,166.3h0M855.8,165.0h0M856.0,166.2h0M856.2,166.3h0M856.3,166.4h0M856.5,163.0h0M856.7,159.7h0M856.9,163.3h0M857.0,163.9h0M857.2,166.9h0M857.4,168.1h0M857.5,172.8h0M857.7,172.6h0M857.9,169.1h0M858.1,167.3h0M858.2,168.0h0M858.4,164.6h0M858.6,164.0h0M858.7,169.5h0M858.9,172.7h0M859.1,172.3h0M859.2,173.1h0M859.4,172.0h0M859.6,169.1h0M859.8,164.8h0M859.9,166.2h0M860.1,165.9h0M860.3,166.2h0M860.4,165.4h0M860.6,165.4h0M860.8,166.9h0M861.0,167.1h0M861.1,168.8h0M861.3,167.1h0M861.5,164.2h0M861.6,159.9h0M861.8,155.0h0M862.0,155.5h0M862.2,154.5h0M862.3,154.2h0M862.5,154.0h0M862.7,164.2h0M862.8,170.1h0M863.0,174.5h0M863.2,176.6h0M863.4,173.6h0M863.5,167.0h0M863.7,164.4h0M863.9,162.0h0M864.0,164.9h0M864.2,170.9h0M864.4,182.0h0M864.5,184.3h0M864.7,181.0h0M864.9,179.5h0M865.1,173.1h0M865.2,174.8h0M865.4,172.1h0M865.6,172.4h0M865.7,171.6h0M865.9,171.8h0M866.1,175.1h0M866.3,181.2h0M866.4,181.2h0M866.6,181.2h0M866.8,181.2h0M866.9,181.2h0M867.1,181.2h0M867.3,181.2h0M867.5,180.3h0M867.6,173.5h0M867.8,174.4h0M868.0,171.5h0M868.1,172.2h0M868.3,176.1h0M868.5,176.4h0M868.6,173.0h0M868.8,167.6h0M869.0,164.4h0M869.2,162.9h0M869.3,161.4h0M869.5,161.5h0M869.7,161.6h0M869.8,161.7h0M870.0,161.8h0M870.2,165.5h0M870.4,167.8h0M870.5,165.5h0M870.7,164.7h0M870.9,167.5h0M871.0,166.7h0M871.2,167.2h0M871.4,167.4h0M871.6,168.5h0M871.7,171.9h0M871.9,171.5h0M872.1,172.8h0M872.2,175.2h0M872.4,178.4h0M872.6,180.6h0M872.7,180.0h0M872.9,179.8h0M873.1,176.7h0M873.3,171.6h0M873.4,167.7h0M873.6,168.2h0M873.8,170.0h0M873.9,169.5h0M874.1,175.0h0M874.3,173.7h0M874.5,172.8h0M874.6,170.4h0M874.8,172.8h0M875.0,166.7h0M875.1,165.0h0M875.3,164.7h0M875.5,167.5h0M875.7,167.8h0M875.8,167.7h0M876.0,173.5h0M876.2,176.6h0M876.3,177.8h0M876.5,178.4h0M876.7,178.4h0M876.9,179.1h0M877.0,175.1h0M877.2,175.4h0M877.4,174.6h0M877.5,175.4h0M877.7,176.3h0M877.9,175.0h0M878.0,176.2h0M878.2,177.1h0M878.4,174.4h0M878.6,169.7h0M878.7,166.6h0M878.9,166.7h0M879.1,166.9h0M879.2,167.0h0M879.4,167.2h0M879.6,167.4h0M879.8,168.6h0M879.9,170.5h0M880.1,172.2h0M880.3,173.9h0M880.4,180.6h0M880.6,182.4h0M880.8,182.8h0M881.0,183.1h0M881.1,183.5h0M881.3,183.8h0M881.5,184.1h0M881.6,184.5h0M881.8,184.8h0M882.0,185.2h0M882.1,185.5h0M882.3,184.6h0M882.5,180.4h0M882.7,177.1h0M882.8,174.7h0M883.0,170.8h0M883.2,171.0h0M883.3,171.2h0M883.5,171.4h0M883.7,171.6h0M883.9,171.8h0M884.0,172.0h0M884.2,173.1h0M884.4,175.6h0M884.5,177.3h0M884.7,179.6h0M884.9,179.0h0M885.1,180.5h0M885.2,182.6h0M885.4,182.3h0M885.6,181.3h0M885.7,182.0h0M885.9,184.5h0M886.1,187.4h0M886.2,186.6h0M886.4,185.3h0M886.6,181.6h0M886.8,179.1h0M886.9,177.7h0M887.1,175.7h0M887.3,175.9h0M887.4,176.1h0M887.6,176.3h0M887.8,176.5h0M888.0,176.7h0M888.1,176.7h0M888.3,177.1h0M888.5,176.3h0M888.6,176.1h0M888.8,176.0h0M889.0,175.8h0M889.2,175.6h0M889.3,175.5h0M889.5,175.3h0M889.7,175.4h0M889.8,175.2h0M890.0,178.9h0M890.2,183.7h0M890.4,186.4h0M890.5,185.8h0M890.7,186.2h0M890.9,182.3h0M891.0,181.0h0M891.2,182.8h0M891.4,185.3h0M891.5,189.8h0M891.7,189.4h0M891.9,193.2h0M892.1,193.1h0M892.2,192.9h0M892.4,187.6h0M892.6,185.0h0M892.7,180.1h0M892.9,175.7h0M893.1,176.3h0M893.3,177.6h0M893.4,179.6h0M893.6,179.6h0M893.8,178.9h0M893.9,177.6h0M894.1,173.7h0M894.3,166.6h0M894.5,167.5h0M894.6,166.2h0M894.8,166.5h0M895.0,169.7h0M895.1,171.0h0M895.3,174.6h0M895.5,172.7h0M895.6,170.3h0M895.8,173.1h0M896.0,169.0h0M896.2,166.8h0M896.3,170.0h0M896.5,173.6h0M896.7,177.0h0M896.8,180.1h0M897.0,180.9h0M897.2,182.6h0M897.4,180.4h0M897.5,177.6h0M897.7,175.9h0M897.9,171.5h0M898.0,168.7h0M898.2,167.5h0M898.4,167.6h0M898.6,171.1h0M898.7,172.7h0M898.9,171.2h0M899.1,169.5h0M899.2,167.5h0M899.4,167.3h0M899.6,167.1h0M899.7,166.8h0M899.9,166.6h0M900.1,166.4h0M900.3,166.2h0M900.4,166.0h0M900.6,165.8h0M900.8,166.5h0M900.9,168.7h0M901.1,173.5h0M901.3,177.2h0M901.5,171.1h0M901.6,167.7h0M901.8,171.3h0M902.0,172.6h0M902.1,171.9h0M902.3,172.1h0M902.5,173.3h0M902.7,177.4h0M902.8,179.2h0M903.0,179.1h0M903.2,176.9h0M903.3,179.6h0M903.5,177.5h0M903.7,170.6h0M903.8,164.6h0M904.0,160.8h0M904.2,160.0h0M904.4,162.8h0M904.5,166.1h0M904.7,168.1h0M904.9,166.8h0M905.0,164.4h0M905.2,165.0h0M905.4,161.7h0M905.6,162.4h0M905.7,160.3h0M905.9,158.9h0M906.1,157.7h0M906.2,162.3h0M906.4,165.6h0M906.6,160.2h0M906.8,148.6h0M906.9,145.7h0M907.1,146.6h0M907.3,146.8h0M907.4,146.6h0M907.6,146.5h0M907.8,145.7h0M908.0,144.7h0M908.1,137.9h0M908.3,140.6h0M908.5,138.7h0M908.6,139.6h0M908.8,137.9h0M909.0,138.9h0M909.1,139.4h0M909.3,137.6h0M909.5,136.2h0M909.7,130.4h0M909.8,131.8h0M910.0,131.6h0M910.2,132.0h0M910.3,128.7h0M910.5,123.8h0M910.7,125.1h0M910.9,122.7h0M911.0,123.1h0M911.2,121.1h0M911.4,121.4h0M911.5,117.5h0M911.7,113.3h0M911.9,110.3h0M912.1,111.6h0M912.2,109.3h0M912.4,112.2h0M912.6,112.0h0M912.7,107.8h0M912.9,109.0h0M913.1,113.8h0M913.2,113.6h0M913.4,111.3h0M913.6,111.5h0M913.8,109.5h0M913.9,117.1h0M914.1,119.4h0M914.3,115.3h0M914.4,119.5h0M914.6,122.0h0M914.8,121.4h0M915.0,121.0h0M915.1,121.0h0M915.3,122.2h0M915.5,121.9h0M915.6,118.7h0M915.8,118.5h0M916.0,114.8h0M916.2,110.4h0M916.3,107.8h0M916.5,108.0h0M916.7,108.7h0M916.8,108.6h0M917.0,111.2h0M917.2,113.3h0M917.3,102.1h0M917.5,77.8h0M917.7,77.8h0M917.9,77.8h0M918.0,80.4h0M918.2,82.0h0M918.4,84.4h0M918.5,89.6h0M918.7,87.8h0M918.9,85.0h0M919.1,88.3h0M919.2,93.2h0M919.4,94.5h0M112.4,185.4h0M112.4,221.4h0M361.4,387.6h0M370.0,319.0h0M368.4,246.0h0M376.1,188.4h0M376.1,208.4h0M383.6,257.4h0M386.0,326.0h0M386.0,332.0h0M386.0,343.0h0M417.4,300.4h0M458.4,262.4h0M458.4,278.5h0M499.4,336.4h0M510.6,213.4h0M506.6,230.6h0M535.6,229.0h0M562.6,259.4h0M647.6,241.5h0M718.6,238.0h0M732.8,265.6h0M842.6,187.6h0M863.6,244.4h0M892.6,199.0h0M891.6,214.4h0M906.0,154.0h0M906.0,158.0h0M864.0,190.0h0M864.0,199.0h0M863.6,205.6h0M863.6,211.4h0M327.3,440.0h0M328.6,423.0h0M329.1,410.5h0M111.6,240.6h0M111.8,243.0h0M112.8,257.6h0M369.2,319.0h0M675.3,356.7h0M675.1,351.5h0M830.8,119.6h0M831.0,123.2h0M830.5,127.0h0M918.6,78.0h0M918.2,81.0h0M918.0,84.5h0M917.6,88.0h0M917.4,91.5h0M917.6,95.0h0" fill="none" stroke="#000" stroke-width="5.56" stroke-linecap="round"/>
<path d="M110.8,279.1 111.0,279.8 111.2,280.3 111.3,280.9 111.5,281.4 111.7,281.9 111.9,282.5 112.0,283.0 112.2,283.6 112.4,284.1 112.6,284.7 112.7,285.2 112.9,285.8 113.1,286.3 113.3,286.9 113.5,287.4 113.6,287.9 113.8,288.5 114.0,289.0 114.2,289.7 114.3,290.4 114.5,291.1 114.7,291.8 114.9,292.4 115.0,293.1 115.2,293.8 115.4,294.5 115.6,295.2 115.8,295.9 115.9,296.6 116.1,297.3 116.3,298.0 116.5,298.6 116.6,299.3 116.8,300.0 117.0,300.7 117.2,301.4 117.3,302.2 117.5,302.9 117.7,303.6 117.9,304.4 118.1,305.1 118.2,305.8 118.4,306.6 118.6,307.3 118.8,308.0 118.9,308.7 119.1,309.4 119.3,310.0 119.5,310.7 119.6,311.3 119.8,311.9 120.0,312.5 120.2,313.2 120.4,313.8 120.5,314.5 120.7,315.6 120.9,316.7 121.1,317.9 121.2,319.0 121.4,320.1 121.6,321.2 121.8,322.3 121.9,323.5 122.1,324.6 122.3,325.7 122.5,326.8 122.7,327.9 122.8,329.0 123.0,330.1 123.2,331.2 123.4,332.2 123.5,333.3 123.7,334.4 123.9,335.5 124.1,336.4 124.2,337.1 124.4,337.7 124.6,338.3 124.8,338.9 124.9,339.5 125.1,340.3 125.3,341.2 125.5,342.0 125.7,343.1 125.8,344.3 126.0,345.5 126.2,346.7 126.4,348.0 126.5,349.2 126.7,350.4 126.9,351.6 127.1,352.8 127.2,354.0 127.4,355.2 127.6,356.2 127.8,357.1 128.0,357.9 128.1,358.8 128.3,359.7 128.5,360.5 128.7,361.4 128.8,362.3 129.0,363.1 129.2,364.3 129.4,365.4 129.5,366.5 129.7,367.6 129.9,368.7 130.1,369.8 130.3,370.9 130.4,372.0 130.6,373.1 130.8,374.2 131.0,375.3 131.1,376.2 131.3,377.0 131.5,377.7 131.7,378.4 131.8,379.1 132.0,379.9 132.2,380.6 132.4,381.3 132.6,382.0 132.7,382.7 132.9,383.5 133.1,384.2 133.3,384.9 133.4,385.6 133.6,386.3 133.8,387.0 134.0,387.6 134.1,388.3 134.3,388.9 134.5,389.6 134.7,390.2 134.8,390.9 135.0,391.5 135.2,392.2 135.4,392.8 135.6,393.5 135.7,394.1 135.9,394.8 136.1,395.2 136.3,395.3 136.4,395.4 136.6,395.5 136.8,395.6 137.0,395.7 137.1,395.7 137.3,395.8 137.5,395.9 137.7,396.0 137.9,396.2 138.0,396.3 138.2,396.4 138.4,396.5 138.6,396.6 138.7,396.8 138.9,396.9 139.1,397.1 139.3,397.3 139.4,397.6 139.6,397.9 139.8,398.2 140.0,398.5 140.2,398.8 140.3,399.1 140.5,399.4 140.7,399.7 140.9,400.0 141.0,400.4 141.2,400.9 141.4,401.5 141.6,402.0 141.7,402.5 141.9,403.0 142.1,403.5 142.3,404.1 142.5,404.6 142.6,405.1 142.8,405.6 143.0,406.1 143.2,406.6 143.3,407.1 143.5,407.5 143.7,407.9 143.9,408.3 144.0,408.8 144.2,409.2 144.4,409.6 144.6,410.0 144.7,409.6 144.9,409.2 145.1,408.8 145.3,408.4 145.5,408.0 145.6,407.9 145.8,408.0 146.0,408.1 146.2,408.2 146.3,408.4 146.5,408.5 146.7,408.6 146.9,409.0 147.0,410.4 147.2,411.8 147.4,413.3 147.6,414.7 147.8,416.2 147.9,417.6 148.1,419.4 148.3,421.6 148.5,423.9 148.6,426.1 148.8,428.3 149.0,430.6 149.2,432.2 149.3,433.5 149.5,434.9 149.7,435.9 149.9,436.8 150.1,437.7 150.2,438.6 150.4,439.5 150.6,440.4 150.8,441.3 150.9,442.2 151.1,443.1 151.3,444.0 151.5,444.9 151.6,445.6 151.8,446.0 152.0,446.4 152.2,446.8 152.4,447.3 152.5,447.7 152.7,448.1 152.9,448.5 153.1,448.9 153.2,449.3 153.4,449.7 153.6,450.2 153.8,450.6 153.9,451.0 154.1,451.4 154.3,451.7 154.5,452.1 154.7,452.4 154.8,452.7 155.0,453.1 155.2,453.4 155.4,453.8 155.5,454.1 155.7,454.4 155.9,454.8 156.1,455.1 156.2,455.5 156.4,455.8 156.6,456.1 156.8,456.5 156.9,456.8 157.1,457.2 157.3,457.7 157.5,458.2 157.7,458.7 157.8,459.1 158.0,459.6 158.2,460.1 158.4,460.6 158.5,461.1 158.7,461.6 158.9,462.0 159.1,462.5 159.2,463.0 159.4,463.5 159.6,464.0 159.8,464.5 160.0,464.8 160.1,464.9 160.3,465.0 160.5,465.2 160.7,465.3 160.8,465.4 161.0,465.6 161.2,465.7 161.4,465.9 161.5,466.0 161.7,466.1 161.9,466.3 162.1,466.4 162.3,466.6 162.4,466.7 162.6,466.8 162.8,467.0 163.0,467.1 163.1,467.3 163.3,467.4 163.5,467.5 163.7,468.0 163.8,468.7 164.0,469.3 164.2,469.9 164.4,470.6 164.6,471.2 164.7,471.8 164.9,472.5 165.1,473.1 165.3,473.7 165.4,474.4 165.6,475.0 165.8,475.6 166.0,476.1 166.1,476.6 166.3,477.0 166.5,477.4 166.7,477.8 166.8,478.2 167.0,478.6 167.2,478.7 167.4,478.7 167.6,478.6 167.7,478.6 167.9,478.5 168.1,478.5 168.3,478.4 168.4,478.4 168.6,478.4 168.8,478.7 169.0,479.0 169.1,479.3 169.3,479.6 169.5,479.9 169.7,480.1 169.9,480.4 170.0,480.7 170.2,481.0 170.4,481.3 170.6,481.6 170.7,481.5 170.9,481.5 171.1,481.4 171.3,481.4 171.4,481.3 171.6,481.3 171.8,481.2 172.0,481.2 172.2,481.3 172.3,481.5 172.5,481.7 172.7,481.9 172.9,482.1 173.0,482.2 173.2,482.4 173.4,482.6 173.6,482.8 173.7,483.0 173.9,483.2 174.1,483.4 174.3,483.6 174.5,483.8 174.6,484.0 174.8,484.3 175.0,484.5 175.2,484.7 175.3,484.9 175.5,485.1 175.7,485.3 175.9,485.5 176.0,485.8 176.2,486.0 176.4,486.2 176.6,486.4 176.8,486.5 176.9,486.7 177.1,486.8 177.3,486.9 177.5,487.1 177.6,487.2 177.8,487.4 178.0,487.5 178.2,487.6 178.3,487.8 178.5,487.9 178.7,488.0 178.9,488.2 179.0,488.3 179.2,488.0 179.4,487.6 179.6,487.2 179.8,486.7 179.9,486.3 180.1,485.9 180.3,485.5 180.5,485.0 180.6,484.6 180.8,484.3 181.0,483.9 181.2,483.5 181.3,483.1 181.5,482.7 181.7,482.3 181.9,481.9 182.1,481.5 182.2,481.3 182.4,481.1 182.6,480.9 182.8,480.6 182.9,480.4 183.1,480.2 183.3,480.0 183.5,479.8 183.6,479.6 183.8,479.4 184.0,479.2 184.2,479.1 184.4,479.1 184.5,479.1 184.7,479.1 184.9,479.1 185.1,479.1 185.2,479.1 185.4,479.0 185.6,479.0 185.8,479.0 185.9,479.0 186.1,479.0 186.3,478.9 186.5,478.8 186.7,478.7 186.8,478.5 187.0,478.4 187.2,478.3 187.4,478.2 187.5,478.1 187.7,477.5 187.9,476.6 188.1,475.7 188.2,474.8 188.4,473.8 188.6,472.9 188.8,472.5 188.9,472.1 189.1,471.7 189.3,471.2 189.5,470.8 189.7,470.4 189.8,470.0 190.0,470.5 190.2,471.3 190.4,472.1 190.5,472.9 190.7,473.7 190.9,474.5 191.1,475.3 191.2,476.9 191.4,478.5 191.6,480.1 191.8,481.7 192.0,483.3 192.1,484.7 192.3,485.4 192.5,486.2 192.7,486.7 192.8,487.0 193.0,487.3 193.2,487.5 193.4,487.8 193.5,488.1 193.7,488.3 193.9,488.6 194.1,488.9 194.3,489.1 194.4,489.4 194.6,489.7 194.8,489.5 195.0,489.3 195.1,489.1 195.3,488.9 195.5,488.6 195.7,488.4 195.8,488.2 196.0,488.0 196.2,487.8 196.4,487.6 196.6,487.4 196.7,487.1 196.9,486.9 197.1,486.7 197.3,486.4 197.4,486.2 197.6,485.9 197.8,485.6 198.0,485.3 198.1,485.0 198.3,484.7 198.5,484.4 198.7,484.1 198.8,483.8 199.0,483.6 199.2,483.3 199.4,483.0 199.6,482.7 199.7,482.4 199.9,482.1 200.1,481.8 200.3,481.6 200.4,481.5 200.6,481.3 200.8,481.2 201.0,481.1 201.1,480.9 201.3,480.8 201.5,480.6 201.7,480.5 201.9,480.3 202.0,480.2 202.2,480.0 202.4,479.9 202.6,479.7 202.7,479.6 202.9,479.5 203.1,479.3 203.3,479.2 203.4,479.1 203.6,479.0 203.8,478.9 204.0,478.8 204.2,478.7 204.3,478.6 204.5,478.5 204.7,478.4 204.9,478.3 205.0,478.2 205.2,478.1 205.4,478.0 205.6,477.9 205.7,477.7 205.9,477.6 206.1,477.5 206.3,477.4 206.5,477.3 206.6,477.3 206.8,477.7 207.0,478.1 207.2,478.5 207.3,478.9 207.5,479.3 207.7,479.7 207.9,480.1 208.0,480.5 208.2,480.9 208.4,481.3 208.6,481.6 208.8,482.0 208.9,482.4 209.1,482.7 209.3,483.1 209.5,483.4 209.6,483.8 209.8,484.1 210.0,484.5 210.2,484.7 210.3,484.6 210.5,484.5 210.7,484.4 210.9,484.3 211.0,484.2 211.2,484.0 211.4,483.9 211.6,483.8 211.8,483.9 211.9,484.2 212.1,484.4 212.3,484.6 212.5,484.8 212.6,485.1 212.8,485.3 213.0,485.5 213.2,485.7 213.3,485.9 213.5,486.2 213.7,486.2 213.9,486.1 214.1,486.0 214.2,485.9 214.4,485.8 214.6,485.6 214.8,485.5 214.9,485.4 215.1,485.3 215.3,485.4 215.5,485.6 215.6,485.7 215.8,485.8 216.0,486.0 216.2,486.1 216.4,486.2 216.5,486.3 216.7,486.5 216.9,486.6 217.1,486.7 217.2,486.9 217.4,487.0 217.6,487.2 217.8,487.3 217.9,487.4 218.1,487.6 218.3,487.7 218.5,487.9 218.7,488.0 218.8,488.2 219.0,488.3 219.2,488.5 219.4,488.6 219.5,488.8 219.7,488.9 219.9,489.0 220.1,489.0 220.2,489.1 220.4,489.2 220.6,489.3 220.8,489.3 220.9,489.4 221.1,489.5 221.3,489.5 221.5,489.6 221.7,489.7 221.8,489.8 222.0,489.8 222.2,489.7 222.4,489.2 222.5,488.7 222.7,488.3 222.9,487.8 223.1,487.3 223.2,486.8 223.4,486.3 223.6,485.8 223.8,485.4 224.0,484.9 224.1,484.5 224.3,484.0 224.5,483.6 224.7,483.1 224.8,482.6 225.0,482.2 225.2,481.8 225.4,481.5 225.5,481.2 225.7,481.0 225.9,480.7 226.1,480.4 226.3,480.1 226.4,479.8 226.6,479.6 226.8,479.3 227.0,479.0 227.1,478.8 227.3,478.8 227.5,478.7 227.7,478.6 227.8,478.5 228.0,478.4 228.2,478.3 228.4,478.3 228.6,478.2 228.7,478.1 228.9,478.0 229.1,477.9 229.3,477.8 229.4,477.7 229.6,477.5 229.8,477.3 230.0,477.1 230.1,476.9 230.3,476.8 230.5,476.6 230.7,476.3 230.8,475.4 231.0,474.4 231.2,473.4 231.4,472.4 231.6,471.4 231.7,470.7 231.9,470.2 232.1,469.7 232.3,469.2 232.4,468.7 232.6,468.3 232.8,467.8 233.0,467.5 233.1,468.4 233.3,469.2 233.5,470.0 233.7,470.8 233.9,471.6 234.0,472.4 234.2,473.5 234.4,475.1 234.6,476.7 234.7,478.3 234.9,479.9 235.1,481.5 235.3,482.5 235.4,483.2 235.6,484.0 235.8,484.3 236.0,484.6 236.2,484.8 236.3,485.1 236.5,485.4 236.7,485.6 236.9,485.9 237.0,486.2 237.2,486.4 237.4,486.7 237.6,487.0 237.7,487.0 237.9,486.8 238.1,486.6 238.3,486.4 238.5,486.2 238.6,485.9 238.8,485.7 239.0,485.5 239.2,485.3 239.3,485.1 239.5,484.9 239.7,484.6 239.9,484.4 240.0,484.2 240.2,484.0 240.4,483.7 240.6,483.4 240.8,483.1 240.9,482.8 241.1,482.5 241.3,482.2 241.5,481.9 241.6,481.6 241.8,481.3 242.0,481.0 242.2,480.8 242.3,480.5 242.5,480.2 242.7,479.9 242.9,479.6 243.0,479.3 243.2,479.0 243.4,478.9 243.6,478.7 243.8,478.6 243.9,478.4 244.1,478.3 244.3,478.1 244.5,478.0 244.6,477.9 244.8,477.7 245.0,477.6 245.2,477.4 245.3,477.3 245.5,477.1 245.7,477.0 245.9,476.8 246.1,476.7 246.2,476.5 246.4,476.4 246.6,476.3 246.8,476.2 246.9,476.1 247.1,476.0 247.3,475.9 247.5,475.8 247.6,475.7 247.8,475.6 248.0,475.5 248.2,475.4 248.4,475.3 248.5,475.2 248.7,475.1 248.9,474.9 249.1,474.8 249.2,474.7 249.4,474.6 249.6,474.5 249.8,474.8 249.9,475.2 250.1,475.5 250.3,475.9 250.5,476.3 250.7,476.7 250.8,477.1 251.0,477.5 251.2,477.9 251.4,478.3 251.5,478.7 251.7,479.0 251.9,479.4 252.1,479.7 252.2,480.1 252.4,480.4 252.6,480.8 252.8,481.1 252.9,481.5 253.1,481.8 253.3,481.8 253.5,481.7 253.7,481.6 253.8,481.5 254.0,481.4 254.2,481.3 254.4,481.2 254.5,481.0 254.7,481.0 254.9,481.2 255.1,481.4 255.2,481.7 255.4,481.9 255.6,482.1 255.8,482.3 256.0,482.5 256.1,482.7 256.3,483.0 256.5,483.2 256.7,483.4 256.8,483.3 257.0,483.2 257.2,483.0 257.4,482.9 257.5,482.8 257.7,482.7 257.9,482.6 258.1,482.5 258.3,482.5 258.4,482.6 258.6,482.7 258.8,482.8 259.0,483.0 259.1,483.1 259.3,483.2 259.5,483.3 259.7,483.5 259.8,483.6 260.0,483.7 260.2,483.8 260.4,484.0 260.6,484.1 260.7,484.3 260.9,484.4 261.1,484.5 261.3,484.7 261.4,484.8 261.6,485.0 261.8,485.1 262.0,485.3 262.1,485.4 262.3,485.5 262.5,485.7 262.7,485.8 262.9,485.9 263.0,486.0 263.2,486.0 263.4,486.1 263.6,486.2 263.7,486.2 263.9,486.3 264.1,486.4 264.3,486.4 264.4,486.5 264.6,486.6 264.8,486.6 265.0,486.7 265.1,486.8 265.3,486.4 265.5,485.9 265.7,485.4 265.9,484.9 266.0,484.4 266.2,483.9 266.4,483.4 266.6,482.9 266.7,482.5 266.9,482.0 267.1,481.5 267.3,481.1 267.4,480.6 267.6,480.2 267.8,479.7 268.0,479.3 268.2,478.8 268.3,478.5 268.5,478.2 268.7,477.9 268.9,477.6 269.0,477.3 269.2,477.1 269.4,476.8 269.6,476.5 269.7,476.2 269.9,475.9 270.1,475.7 270.3,475.6 270.5,475.5 270.6,475.4 270.8,475.3 271.0,475.2 271.2,475.1 271.3,475.1 271.5,475.0 271.7,474.9 271.9,474.8 272.0,474.7 272.2,474.6 272.4,474.5 272.6,474.3 272.8,474.1 272.9,473.9 273.1,473.7 273.3,473.6 273.5,473.4 273.6,473.2 273.8,472.5 274.0,471.5 274.2,470.6 274.3,469.6 274.5,468.6 274.7,467.6 274.9,467.1 275.0,466.6 275.2,466.1 275.4,465.6 275.6,465.1 275.8,464.7 275.9,464.2 276.1,464.6 276.3,465.4 276.5,466.2 276.6,467.0 276.8,467.8 277.0,468.6 277.2,469.4 277.3,470.9 277.5,472.5 277.7,474.1 277.9,475.7 278.1,477.3 278.2,478.7 278.4,479.5 278.6,480.2 278.8,480.8 278.9,481.1 279.1,481.3 279.3,481.6 279.5,481.9 279.6,482.2 279.8,482.4 280.0,482.7 280.2,483.0 280.4,483.3 280.5,483.6 280.7,483.8 280.9,483.7 281.1,483.5 281.2,483.3 281.4,483.1 281.6,482.9 281.8,482.7 281.9,482.4 282.1,482.2 282.3,482.0 282.5,481.8 282.7,481.6 282.8,481.4 283.0,481.2 283.2,481.0 283.4,480.8 283.5,480.5 283.7,480.2 283.9,479.9 284.1,479.6 284.2,479.4 284.4,479.1 284.6,478.8 284.8,478.5 284.9,478.3 285.1,478.0 285.3,477.7 285.5,477.4 285.7,477.1 285.8,476.9 286.0,476.6 286.2,476.3 286.4,476.1 286.5,476.0 286.7,475.9 286.9,475.7 287.1,475.6 287.2,475.5 287.4,475.3 287.6,475.2 287.8,475.1 288.0,474.9 288.1,474.8 288.3,474.6 288.5,474.5 288.7,474.4 288.8,474.2 289.0,474.1 289.2,474.0 289.4,473.9 289.5,473.8 289.7,473.7 289.9,473.6 290.1,473.5 290.3,473.4 290.4,473.3 290.6,473.2 290.8,473.1 291.0,473.0 291.1,472.9 291.3,472.9 291.5,472.8 291.7,472.6 291.8,472.3 292.0,472.0 292.2,471.8 292.4,471.5 292.6,471.2 292.7,471.0 292.9,471.2 293.1,471.5 293.3,471.7 293.4,471.9 293.6,472.1 293.8,472.3 294.0,472.5 294.1,472.7 294.3,472.9 294.5,473.2 294.7,473.4 294.9,473.5 295.0,473.7 295.2,473.9 295.4,474.1 295.6,474.2 295.7,474.4 295.9,474.6 296.1,474.8 296.3,474.8 296.4,474.5 296.6,474.2 296.8,474.0 297.0,473.7 297.1,473.4 297.3,473.1 297.5,472.8 297.7,472.5 297.9,472.4 298.0,472.5 298.2,472.5 298.4,472.6 298.6,472.6 298.7,472.7 298.9,472.7 299.1,472.7 299.3,472.8 299.4,472.8 299.6,472.9 299.8,472.7 300.0,472.4 300.2,472.2 300.3,471.9 300.5,471.6 300.7,471.3 300.9,471.0 301.0,470.7 301.2,470.4 301.4,470.4 301.6,470.3 301.7,470.3 301.9,470.2 302.1,470.2 302.3,470.1 302.5,470.1 302.6,470.0 302.8,470.0 303.0,469.9 303.2,469.8 303.3,469.8 303.5,469.8 303.7,469.7 303.9,469.7 304.0,469.7 304.2,469.7 304.4,469.6 304.6,469.6 304.8,469.6 304.9,469.5 305.1,469.5 305.3,469.5 305.5,469.4 305.6,469.4 305.8,469.3 306.0,469.2 306.2,469.1 306.3,469.0 306.5,468.9 306.7,468.8 306.9,468.7 307.0,468.6 307.2,468.5 307.4,468.4 307.6,468.3 307.8,468.1 307.9,468.0 308.1,467.9 308.3,467.7 308.5,467.0 308.6,466.2 308.8,465.4 309.0,464.7 309.2,463.9 309.3,463.2 309.5,462.4 309.7,461.7 309.9,461.0 310.1,460.2 310.2,459.5 310.4,458.8 310.6,458.1 310.8,457.4 310.9,456.6 311.1,455.9 311.3,455.2 311.5,454.7 311.6,454.2 311.8,453.6 312.0,453.1 312.2,452.5 312.4,452.0 312.5,451.4 312.7,450.9 312.9,450.3 313.1,449.8 313.2,449.4 313.4,449.0 313.6,448.7 313.8,448.3 313.9,448.0 314.1,447.6 314.3,447.3 314.5,446.9 314.7,446.6 314.8,446.2 315.0,445.9 315.2,445.5 315.4,445.2 315.5,444.7 315.7,444.3 315.9,443.8 316.1,443.4 316.2,443.0 316.4,442.5 316.6,442.1 316.8,441.5 316.9,440.3 317.1,439.0 317.3,437.8 317.5,436.5 317.7,435.3 317.8,434.3 318.0,433.5 318.2,432.8 318.4,432.0 318.5,431.3 318.7,430.5 318.9,429.8 319.1,429.3 319.2,429.8 319.4,430.2 319.6,430.6 319.8,431.1 320.0,431.5 320.1,431.9 320.3,432.6 320.5,433.9 320.7,435.1 320.8,436.3 321.0,437.5 321.2,438.8 321.4,439.3 321.5,439.7 321.7,440.1 321.9,440.0 322.1,439.9 322.3,439.8 322.4,439.7 322.6,439.5 322.8,439.4 323.0,439.3 323.1,439.2 323.3,439.1 323.5,438.9 323.7,438.8 323.8,438.5 324.0,437.9 324.2,437.3 324.4,436.7 324.6,436.1 324.7,435.5 324.9,434.9 325.1,434.3 325.3,433.7 325.4,433.1 325.6,432.5 325.8,431.9 326.0,431.3 326.1,430.7 326.3,430.1 326.5,429.4 326.7,428.8 326.9,428.1 327.0,427.4 327.2,426.8 327.4,426.1 327.6,425.4 327.7,424.7 327.9,424.1 328.1,423.4 328.3,422.7 328.4,422.0 328.6,421.4 328.8,420.7 329.0,420.0 329.1,419.3 329.3,418.7 329.5,418.2 329.7,417.6 329.9,417.1 330.0,416.6 330.2,416.1 330.4,415.5 330.6,415.0 330.7,414.5 330.9,413.9 331.1,413.4 331.3,412.9 331.4,412.3 331.6,411.8 331.8,411.3 332.0,410.8 332.2,410.2 332.3,409.7 332.5,409.2 332.7,408.7 332.9,408.2 333.0,407.8 333.2,407.3 333.4,406.8 333.6,406.3 333.7,405.8 333.9,405.3 334.1,404.8 334.3,404.3 334.5,403.9 334.6,403.4 334.8,402.9 335.0,402.4 335.2,401.9 335.3,401.4 335.5,400.9 335.7,400.5 335.9,400.3 336.0,400.3 336.2,400.3 336.4,400.3 336.6,400.3 336.8,400.4 336.9,400.4 337.1,400.4 337.3,400.4 337.5,400.4 337.6,400.4 337.8,400.4 338.0,400.4 338.2,400.3 338.3,400.3 338.5,400.3 338.7,400.2 338.9,400.2 339.0,400.2 339.2,400.1 339.4,399.8 339.6,399.3 339.8,398.8 339.9,398.3 340.1,397.8 340.3,397.3 340.5,396.8 340.6,396.3 340.8,395.9 341.0,395.7 341.2,395.5 341.3,395.4 341.5,395.2 341.7,395.0 341.9,394.9 342.1,394.7 342.2,394.5 342.4,394.4 342.6,394.2 342.8,394.1 342.9,393.6 343.1,393.1 343.3,392.6 343.5,392.1 343.6,391.6 343.8,391.1 344.0,390.6 344.2,390.1 344.4,389.7 344.5,389.4 344.7,389.2 344.9,388.9 345.1,388.7 345.2,388.4 345.4,388.2 345.6,387.9 345.8,387.7 345.9,387.4 346.1,387.1 346.3,386.9 346.5,386.6 346.7,386.4 346.8,386.2 347.0,385.9 347.2,385.7 347.4,385.5 347.5,385.2 347.7,385.0 347.9,384.8 348.1,384.5 348.2,384.3 348.4,384.0 348.6,383.8 348.8,383.6 349.0,383.3 349.1,382.9 349.3,382.6 349.5,382.3 349.7,382.0 349.8,381.7 350.0,381.4 350.2,381.1 350.4,380.8 350.5,380.4 350.7,380.1 350.9,379.8 351.1,379.5 351.2,379.2 351.4,378.4 351.6,377.5 351.8,376.7 352.0,375.8 352.1,374.9 352.3,374.1 352.5,373.2 352.7,372.3 352.8,371.5 353.0,370.6 353.2,369.8 353.4,369.1 353.5,368.5 353.7,367.8 353.9,367.2 354.1,366.5 354.3,365.9 354.4,365.4 354.6,364.9 354.8,364.4 355.0,363.9 355.1,363.4 355.3,363.0 355.5,362.5 355.7,362.0 355.8,361.5 356.0,361.0 356.2,360.6 356.4,360.3 356.6,360.0 356.7,359.7 356.9,359.4 357.1,359.2 357.3,358.9 357.4,358.6 357.6,358.3 357.8,358.0 358.0,357.8 358.1,357.5 358.3,357.2 358.5,356.8 358.7,356.4 358.9,356.1 359.0,355.7 359.2,355.3 359.4,354.9 359.6,354.6 359.7,354.2 359.9,353.3 360.1,352.1 360.3,351.0 360.4,349.8 360.6,348.6 360.8,347.4 361.0,346.7 361.1,346.0 361.3,345.3 361.5,344.7 361.7,344.0 361.9,343.3 362.0,342.6 362.2,342.8 362.4,343.2 362.6,343.6 362.7,344.0 362.9,344.4 363.1,344.8 363.3,345.2 363.4,346.3 363.6,347.5 363.8,348.7 364.0,349.9 364.2,351.1 364.3,352.1 364.5,352.4 364.7,352.7 364.9,352.9 365.0,352.8 365.2,352.6 365.4,352.5 365.6,352.3 365.7,352.2 365.9,352.0 366.1,351.9 366.3,351.7 366.5,351.6 366.6,351.4 366.8,351.3 367.0,350.7 367.2,350.1 367.3,349.5 367.5,348.8 367.7,348.2 367.9,347.6 368.0,347.0 368.2,346.3 368.4,345.7 368.6,345.1 368.8,344.4 368.9,343.8 369.1,343.2 369.3,342.6 369.5,341.9 369.6,341.2 369.8,340.5 370.0,339.8 370.2,339.1 370.3,338.4 370.5,337.7 370.7,337.0 370.9,336.3 371.0,335.6 371.2,334.9 371.4,334.2 371.6,333.5 371.8,332.8 371.9,332.1 372.1,331.4 372.3,330.7 372.5,330.1 372.6,329.5 372.8,328.9 373.0,328.4 373.2,327.8 373.3,327.3 373.5,326.7 373.7,326.1 373.9,325.6 374.1,325.0 374.2,324.5 374.4,323.9 374.6,323.4 374.8,322.8 374.9,322.2 375.1,321.7 375.3,321.1 375.5,320.6 375.6,320.1 375.8,319.6 376.0,319.1 376.2,318.5 376.4,318.0 376.5,317.5 376.7,317.0 376.9,316.5 377.1,316.0 377.2,315.4 377.4,314.9 377.6,314.4 377.8,313.9 377.9,313.4 378.1,312.9 378.3,312.3 378.5,311.8 378.7,311.3 378.8,310.9 379.0,310.9 379.2,310.9 379.4,310.8 379.5,310.7 379.7,310.6 379.9,310.5 380.1,310.4 380.2,310.2 380.4,310.1 380.6,310.0 380.8,309.9 381.0,309.8 381.1,309.6 381.3,309.5 381.5,309.4 381.7,309.2 381.8,309.1 382.0,308.9 382.2,308.8 382.4,308.5 382.5,307.9 382.7,307.3 382.9,306.7 383.1,306.1 383.2,305.5 383.4,304.9 383.6,304.2 383.8,303.6 384.0,303.3 384.1,303.0 384.3,302.7 384.5,302.4 384.7,302.2 384.8,301.9 385.0,301.6 385.2,301.3 385.4,301.0 385.5,300.8 385.7,300.5 385.9,300.0 386.1,299.4 386.3,298.8 386.4,298.7 386.6,299.0 386.8,299.2 387.0,299.4 387.1,299.6 387.3,299.9 387.5,300.3 387.7,300.8 387.8,301.3 388.0,301.8 388.2,302.2 388.4,302.7 388.6,303.2 388.7,303.6 388.9,304.1 389.1,304.6 389.3,305.1 389.4,305.5 389.6,306.0 389.8,306.5 390.0,307.0 390.1,307.5 390.3,308.0 390.5,308.5 390.7,309.0 390.9,309.5 391.0,310.0 391.2,310.4 391.4,310.8 391.6,311.2 391.7,311.6 391.9,311.9 392.1,312.2 392.3,312.6 392.4,312.9 392.6,313.2 392.8,313.5 393.0,313.8 393.1,314.1 393.3,314.5 393.5,314.8 393.7,315.1 393.9,315.4 394.0,315.7 394.2,316.0 394.4,316.2 394.6,316.0 394.7,315.7 394.9,315.5 395.1,315.2 395.3,315.0 395.4,314.7 395.6,314.5 395.8,314.3 396.0,314.1 396.2,313.8 396.3,313.7 396.5,313.6 396.7,313.5 396.9,313.4 397.0,313.3 397.2,313.2 397.4,313.1 397.6,313.2 397.7,313.2 397.9,313.3 398.1,313.3 398.3,313.4 398.5,313.5 398.6,313.5 398.8,313.6 399.0,313.7 399.2,313.7 399.3,313.9 399.5,314.2 399.7,314.4 399.9,314.7 400.0,315.0 400.2,315.2 400.4,315.5 400.6,315.7 400.8,316.0 400.9,316.3 401.1,316.5 401.3,316.8 401.5,317.0 401.6,317.2 401.8,317.4 402.0,317.5 402.2,317.7 402.3,317.9 402.5,318.0 402.7,318.2 402.9,318.3 403.0,317.6 403.2,317.0 403.4,316.4 403.6,315.7 403.8,315.1 403.9,314.7 404.1,314.5 404.3,314.4 404.5,314.3 404.6,314.1 404.8,314.0 405.0,313.8 405.2,314.0 405.3,315.1 405.5,316.1 405.7,317.2 405.9,318.3 406.1,319.3 406.2,320.4 406.4,321.7 406.6,323.6 406.8,325.5 406.9,327.3 407.1,329.2 407.3,331.0 407.5,332.2 407.6,333.2 407.8,334.2 408.0,334.8 408.2,335.3 408.4,335.9 408.5,336.4 408.7,336.9 408.9,337.4 409.1,337.9 409.2,338.6 409.4,339.4 409.6,340.2 409.8,341.0 409.9,341.6 410.1,342.0 410.3,342.3 410.5,342.6 410.7,342.9 410.8,343.3 411.0,343.6 411.2,343.9 411.4,344.1 411.5,343.9 411.7,343.7 411.9,343.5 412.1,343.3 412.2,343.1 412.4,342.9 412.6,342.6 412.8,342.4 413.0,342.1 413.1,341.8 413.3,341.6 413.5,341.3 413.7,341.0 413.8,340.8 414.0,340.5 414.2,340.2 414.4,340.0 414.5,339.7 414.7,339.4 414.9,339.2 415.1,338.9 415.2,338.6 415.4,338.4 415.6,338.3 415.8,338.2 416.0,338.0 416.1,337.9 416.3,337.8 416.5,337.7 416.7,337.6 416.8,337.4 417.0,337.3 417.2,337.2 417.4,337.1 417.5,336.9 417.7,336.8 417.9,336.7 418.1,336.6 418.3,336.5 418.4,336.3 418.6,336.3 418.8,336.2 419.0,336.1 419.1,336.0 419.3,335.9 419.5,335.9 419.7,335.8 419.8,335.7 420.0,335.6 420.2,335.6 420.4,335.5 420.6,335.4 420.7,335.3 420.9,335.2 421.1,335.2 421.3,335.1 421.4,335.0 421.6,334.9 421.8,334.8 422.0,335.1 422.1,335.5 422.3,335.9 422.5,336.4 422.7,336.8 422.9,337.2 423.0,337.6 423.2,338.0 423.4,338.4 423.6,338.8 423.7,339.3 423.9,339.7 424.1,340.0 424.3,340.4 424.4,340.8 424.6,341.2 424.8,341.5 425.0,341.9 425.1,342.3 425.3,342.7 425.5,342.7 425.7,342.6 425.9,342.5 426.0,342.4 426.2,342.3 426.4,342.3 426.6,342.2 426.7,342.1 426.9,342.1 427.1,342.3 427.3,342.6 427.4,342.8 427.6,343.0 427.8,343.3 428.0,343.5 428.2,343.8 428.3,344.0 428.5,344.3 428.7,344.5 428.9,344.7 429.0,344.7 429.2,344.6 429.4,344.5 429.6,344.4 429.7,344.3 429.9,344.2 430.1,344.1 430.3,344.0 430.5,344.1 430.6,344.2 430.8,344.4 431.0,344.5 431.2,344.7 431.3,344.8 431.5,345.0 431.7,345.1 431.9,345.3 432.0,345.4 432.2,345.6 432.4,345.7 432.6,345.9 432.8,346.1 432.9,346.2 433.1,346.4 433.3,346.6 433.5,346.7 433.6,346.9 433.8,347.1 434.0,347.3 434.2,347.3 434.3,347.2 434.5,347.1 434.7,346.9 434.9,346.8 435.1,346.6 435.2,346.4 435.4,346.2 435.6,346.0 435.8,345.8 435.9,345.6 436.1,345.3 436.3,345.1 436.5,344.9 436.6,344.7 436.8,344.5 437.0,344.3 437.2,344.1 437.3,343.9 437.5,343.2 437.7,342.5 437.9,341.7 438.1,340.9 438.2,340.2 438.4,339.4 438.6,338.6 438.8,337.8 438.9,337.1 439.1,336.4 439.3,335.7 439.5,335.2 439.6,334.7 439.8,334.2 440.0,333.7 440.2,333.2 440.4,332.7 440.5,332.3 440.7,332.0 440.9,331.6 441.1,331.3 441.2,331.0 441.4,330.7 441.6,330.3 441.8,330.0 441.9,329.7 442.1,329.4 442.3,329.1 442.5,328.9 442.7,328.8 442.8,328.7 443.0,328.5 443.2,328.4 443.4,328.3 443.5,328.2 443.7,328.0 443.9,327.9 444.1,327.8 444.2,327.7 444.4,327.5 444.6,327.3 444.8,327.1 445.0,326.9 445.1,326.7 445.3,326.4 445.5,326.2 445.7,326.0 445.8,325.8 446.0,325.1 446.2,324.0 446.4,323.0 446.5,322.0 446.7,320.9 446.9,319.9 447.1,319.4 447.2,318.8 447.4,318.3 447.6,317.8 447.8,317.3 448.0,316.7 448.1,316.2 448.3,316.6 448.5,317.2 448.7,317.9 448.8,318.6 449.0,319.2 449.2,319.9 449.4,320.5 449.5,321.9 449.7,323.4 449.9,324.8 450.1,326.3 450.3,327.7 450.4,329.0 450.6,329.6 450.8,330.2 451.0,330.6 451.1,330.7 451.3,330.8 451.5,331.0 451.7,331.1 451.8,331.2 452.0,331.3 452.2,331.4 452.4,331.5 452.6,331.7 452.7,331.8 452.9,331.9 453.1,331.6 453.3,331.2 453.4,330.8 453.6,330.5 453.8,330.1 454.0,329.8 454.1,329.4 454.3,329.0 454.5,328.7 454.7,328.3 454.9,327.9 455.0,327.6 455.2,327.2 455.4,326.9 455.6,326.4 455.7,326.0 455.9,325.6 456.1,325.1 456.3,324.7 456.4,324.2 456.6,323.8 456.8,323.4 457.0,322.9 457.1,322.5 457.3,322.1 457.5,321.6 457.7,321.2 457.9,320.7 458.0,320.3 458.2,319.9 458.4,319.4 458.6,319.1 458.7,318.8 458.9,318.5 459.1,318.2 459.3,317.9 459.4,317.7 459.6,317.4 459.8,317.1 460.0,316.9 460.2,316.6 460.3,316.3 460.5,316.1 460.7,315.8 460.9,315.5 461.0,315.3 461.2,315.0 461.4,314.7 461.6,314.5 461.7,314.3 461.9,314.0 462.1,313.8 462.3,313.6 462.5,313.4 462.6,313.1 462.8,312.9 463.0,312.7 463.2,312.5 463.3,312.2 463.5,312.0 463.7,311.8 463.9,311.6 464.0,311.3 464.2,311.1 464.4,310.9 464.6,310.7 464.8,310.4 464.9,310.3 465.1,310.6 465.3,310.8 465.5,311.1 465.6,311.4 465.8,311.7 466.0,311.9 466.2,312.2 466.3,312.5 466.5,312.7 466.7,313.0 466.9,313.3 467.1,313.5 467.2,313.7 467.4,314.0 467.6,314.2 467.8,314.4 467.9,314.7 468.1,314.9 468.3,315.1 468.5,315.2 468.6,315.0 468.8,314.8 469.0,314.5 469.2,314.3 469.3,314.0 469.5,313.8 469.7,313.5 469.9,313.2 470.1,313.2 470.2,313.3 470.4,313.4 470.6,313.4 470.8,313.5 470.9,313.6 471.1,313.6 471.3,313.7 471.5,313.8 471.6,313.8 471.8,313.9 472.0,313.8 472.2,313.6 472.4,313.3 472.5,313.0 472.7,312.8 472.9,312.5 473.1,312.2 473.2,312.0 473.4,311.7 473.6,311.7 473.8,311.7 473.9,311.6 474.1,311.6 474.3,311.6 474.5,311.6 474.7,311.6 474.8,311.5 475.0,311.5 475.2,311.5 475.4,311.5 475.5,311.4 475.7,311.4 475.9,311.4 476.1,311.4 476.2,311.4 476.4,311.4 476.6,311.4 476.8,311.4 477.0,311.4 477.1,311.4 477.3,311.4 477.5,311.3 477.7,311.2 477.8,311.1 478.0,311.0 478.2,310.9 478.4,310.7 478.5,310.6 478.7,310.4 478.9,310.3 479.1,310.1 479.2,309.9 479.4,309.8 479.6,309.6 479.8,309.5 480.0,309.3 480.1,309.2 480.3,309.0 480.5,308.7 480.7,308.0 480.8,307.3 481.0,306.6 481.2,305.9 481.4,305.1 481.5,304.4 481.7,303.7 481.9,303.0 482.1,302.3 482.3,301.7 482.4,301.0 482.6,300.3 482.8,299.6 483.0,298.9 483.1,298.3 483.3,297.7 483.5,297.2 483.7,296.9 483.8,296.6 484.0,296.2 484.2,295.9 484.4,295.5 484.6,295.2 484.7,294.9 484.9,294.5 485.1,294.2 485.3,293.8 485.4,293.6 485.6,293.4 485.8,293.3 486.0,293.2 486.1,293.0 486.3,292.9 486.5,292.7 486.7,292.6 486.9,292.4 487.0,292.3 487.2,292.2 487.4,292.0 487.6,291.8 487.7,291.6 487.9,291.4 488.1,291.1 488.3,290.9 488.4,290.6 488.6,290.4 488.8,290.2 489.0,289.8 489.1,288.8 489.3,287.7 489.5,286.7 489.7,285.7 489.9,284.6 490.0,283.8 490.2,283.3 490.4,282.7 490.6,282.2 490.7,281.6 490.9,281.1 491.1,280.5 491.3,280.2 491.4,281.0 491.6,281.7 491.8,282.4 492.0,283.1 492.2,283.9 492.3,284.6 492.5,285.6 492.7,287.1 492.9,288.6 493.0,290.2 493.2,291.7 493.4,293.2 493.6,294.0 493.7,294.7 493.9,295.4 494.1,295.6 494.3,295.8 494.5,296.0 494.6,296.2 494.8,296.3 495.0,296.5 495.2,296.7 495.3,296.9 495.5,297.0 495.7,297.2 495.9,297.4 496.0,297.4 496.2,297.1 496.4,296.8 496.6,296.5 496.8,296.2 496.9,295.8 497.1,295.5 497.3,295.2 497.5,294.9 497.6,294.6 497.8,294.3 498.0,294.0 498.2,293.7 498.3,293.4 498.5,293.1 498.7,292.7 498.9,292.3 499.1,292.0 499.2,291.6 499.4,291.2 499.6,290.8 499.8,290.4 499.9,290.1 500.1,289.7 500.3,289.3 500.5,288.9 500.6,288.5 500.8,288.2 501.0,287.8 501.2,287.4 501.3,287.0 501.5,286.7 501.7,286.5 501.9,286.2 502.1,286.0 502.2,285.7 502.4,285.5 502.6,285.3 502.8,285.0 502.9,284.8 503.1,284.6 503.3,284.3 503.5,284.1 503.6,283.7 503.8,283.3 504.0,282.9 504.2,282.6 504.4,282.2 504.5,281.8 504.7,281.5 504.9,281.1 505.1,280.8 505.2,280.5 505.4,280.1 505.6,279.8 505.8,279.5 505.9,279.1 506.1,278.8 506.3,278.5 506.5,278.2 506.7,277.8 506.8,277.5 507.0,277.2 507.2,276.8 507.4,276.5 507.5,276.2 507.7,275.8 507.9,275.5 508.1,275.5 508.2,275.7 508.4,275.8 508.6,276.0 508.8,276.2 509.0,276.3 509.1,276.5 509.3,276.7 509.5,276.9 509.7,277.2 509.8,277.4 510.0,277.7 510.2,277.9 510.4,278.1 510.5,278.3 510.7,278.5 510.9,278.7 511.1,278.9 511.2,279.2 511.4,279.4 511.6,279.2 511.8,279.0 512.0,278.7 512.1,278.5 512.3,278.2 512.5,278.0 512.7,277.7 512.8,277.5 513.0,277.3 513.2,277.4 513.4,277.5 513.5,277.5 513.7,277.6 513.9,277.7 514.1,277.8 514.3,277.9 514.4,277.9 514.6,278.0 514.8,278.1 515.0,278.2 515.1,277.9 515.3,277.7 515.5,277.4 515.7,277.2 515.8,276.9 516.0,276.7 516.2,276.4 516.4,276.2 516.6,276.0 516.7,276.0 516.9,276.0 517.1,276.0 517.3,276.0 517.4,276.0 517.6,276.0 517.8,275.9 518.0,275.9 518.1,275.9 518.3,275.9 518.5,275.9 518.7,275.9 518.9,275.9 519.0,275.9 519.2,275.9 519.4,275.9 519.6,275.9 519.7,275.9 519.9,275.9 520.1,276.0 520.3,276.0 520.4,276.0 520.6,276.0 520.8,276.1 521.0,276.1 521.2,276.0 521.3,276.0 521.5,275.9 521.7,275.9 521.9,275.9 522.0,275.8 522.2,275.8 522.4,275.7 522.6,275.7 522.7,275.6 522.9,275.6 523.1,275.5 523.3,275.5 523.4,275.4 523.6,274.9 523.8,274.3 524.0,273.7 524.2,273.1 524.3,272.5 524.5,271.9 524.7,271.3 524.9,270.7 525.0,270.1 525.2,269.5 525.4,268.9 525.6,268.4 525.7,267.8 525.9,267.2 526.1,266.7 526.3,266.1 526.5,265.5 526.6,265.1 526.8,264.7 527.0,264.3 527.2,263.9 527.3,263.5 527.5,263.1 527.7,262.6 527.9,262.2 528.0,261.8 528.2,261.4 528.4,261.0 528.6,260.8 528.8,260.6 528.9,260.4 529.1,260.2 529.3,260.0 529.5,259.8 529.6,259.6 529.8,259.3 530.0,259.1 530.2,258.9 530.3,258.7 530.5,258.5 530.7,258.2 530.9,257.9 531.1,257.6 531.2,257.3 531.4,257.0 531.6,256.7 531.8,256.4 531.9,256.1 532.1,255.3 532.3,254.2 532.5,253.1 532.6,252.0 532.8,250.8 533.0,249.7 533.2,249.1 533.3,248.5 533.5,247.9 533.7,247.3 533.9,246.7 534.1,246.1 534.2,245.4 534.4,245.7 534.6,246.4 534.8,247.1 534.9,247.8 535.1,248.4 535.3,249.1 535.5,249.8 535.6,251.1 535.8,252.6 536.0,254.1 536.2,255.6 536.4,257.0 536.5,258.3 536.7,258.9 536.9,259.5 537.1,259.9 537.2,260.1 537.4,260.2 537.6,260.3 537.8,260.5 537.9,260.6 538.1,260.7 538.3,260.8 538.5,261.0 538.7,261.1 538.8,261.2 539.0,261.4 539.2,261.1 539.4,260.7 539.5,260.4 539.7,260.0 539.9,259.6 540.1,259.3 540.2,258.9 540.4,258.6 540.6,258.2 540.8,257.9 541.0,257.5 541.1,257.2 541.3,256.8 541.5,256.5 541.7,256.1 541.8,255.6 542.0,255.2 542.2,254.8 542.4,254.4 542.5,253.9 542.7,253.5 542.9,253.1 543.1,252.7 543.2,252.2 543.4,251.8 543.6,251.4 543.8,251.0 544.0,250.5 544.1,250.1 544.3,249.7 544.5,249.3 544.7,248.9 544.8,248.7 545.0,248.4 545.2,248.1 545.4,247.8 545.5,247.5 545.7,247.2 545.9,247.0 546.1,246.7 546.3,246.4 546.4,246.1 546.6,245.8 546.8,245.5 547.0,245.3 547.1,245.0 547.3,244.7 547.5,244.4 547.7,244.2 547.8,243.9 548.0,243.7 548.2,243.4 548.4,243.2 548.6,243.0 548.7,242.7 548.9,242.5 549.1,242.2 549.3,242.0 549.4,241.8 549.6,241.6 549.8,241.4 550.0,241.2 550.1,240.9 550.3,240.7 550.5,240.5 550.7,240.3 550.9,240.1 551.0,240.0 551.2,240.2 551.4,240.5 551.6,240.8 551.7,241.1 551.9,241.4 552.1,241.6 552.3,241.9 552.4,242.2 552.6,242.5 552.8,242.7 553.0,243.0 553.2,243.3 553.3,243.5 553.5,243.7 553.7,244.0 553.9,244.2 554.0,244.5 554.2,244.7 554.4,244.9 554.6,245.1 554.7,244.8 554.9,244.6 555.1,244.4 555.3,244.2 555.4,243.9 555.6,243.7 555.8,243.5 556.0,243.3 556.2,243.3 556.3,243.4 556.5,243.5 556.7,243.6 556.9,243.7 557.0,243.8 557.2,243.9 557.4,244.0 557.6,244.1 557.7,244.2 557.9,244.3 558.1,244.3 558.3,244.0 558.5,243.8 558.6,243.6 558.8,243.4 559.0,243.1 559.2,242.9 559.3,242.7 559.5,242.5 559.7,242.5 559.9,242.5 560.0,242.5 560.2,242.5 560.4,242.5 560.6,242.5 560.8,242.6 560.9,242.6 561.1,242.6 561.3,242.6 561.5,242.6 561.6,242.6 561.8,242.7 562.0,242.7 562.2,242.7 562.3,242.8 562.5,242.8 562.7,242.8 562.9,242.9 563.1,242.9 563.2,242.9 563.4,243.0 563.6,243.0 563.8,243.0 563.9,243.1 564.1,243.1 564.3,243.0 564.5,243.0 564.6,242.9 564.8,242.9 565.0,242.9 565.2,242.8 565.3,242.8 565.5,242.7 565.7,242.6 565.9,242.6 566.1,242.5 566.2,242.4 566.4,242.4 566.6,242.2 566.8,241.5 566.9,240.9 567.1,240.3 567.3,239.7 567.5,239.0 567.6,238.4 567.8,237.8 568.0,237.2 568.2,236.6 568.4,236.0 568.5,235.4 568.7,234.8 568.9,234.3 569.1,233.7 569.2,233.1 569.4,232.5 569.6,232.0 569.8,231.5 569.9,231.1 570.1,230.7 570.3,230.3 570.5,229.9 570.7,229.5 570.8,229.1 571.0,228.7 571.2,228.2 571.4,227.9 571.5,227.6 571.7,227.4 571.9,227.2 572.1,227.1 572.2,226.9 572.4,226.7 572.6,226.5 572.8,226.4 573.0,226.2 573.1,226.0 573.3,225.9 573.5,225.7 573.7,225.5 573.8,225.2 574.0,224.9 574.2,224.7 574.4,224.4 574.5,224.1 574.7,223.9 574.9,223.6 575.1,223.2 575.2,222.2 575.4,221.1 575.6,220.0 575.8,218.9 576.0,217.8 576.1,217.0 576.3,216.4 576.5,215.9 576.7,215.3 576.8,214.7 577.0,214.1 577.2,213.5 577.4,213.2 577.5,214.0 577.7,214.8 577.9,215.6 578.1,216.5 578.3,217.3 578.4,218.1 578.6,219.2 578.8,220.9 579.0,222.5 579.1,224.1 579.3,225.7 579.5,227.3 579.7,228.3 579.8,229.1 580.0,229.8 580.2,230.2 580.4,230.5 580.6,230.8 580.7,231.0 580.9,231.3 581.1,231.6 581.3,231.9 581.4,232.2 581.6,232.6 581.8,233.0 582.0,233.4 582.1,233.6 582.3,233.5 582.5,233.4 582.7,233.3 582.9,233.2 583.0,233.1 583.2,233.0 583.4,232.9 583.6,232.9 583.7,232.8 583.9,232.7 584.1,232.6 584.3,232.5 584.4,232.4 584.6,232.3 584.8,232.1 585.0,232.0 585.2,231.8 585.3,231.6 585.5,231.5 585.7,231.3 585.9,231.1 586.0,231.0 586.2,230.8 586.4,230.6 586.6,230.5 586.7,230.3 586.9,230.1 587.1,230.0 587.3,229.8 587.4,229.6 587.6,229.5 587.8,229.5 588.0,229.5 588.2,229.5 588.3,229.4 588.5,229.4 588.7,229.4 588.9,229.4 589.0,229.3 589.2,229.3 589.4,229.3 589.6,229.3 589.7,229.3 589.9,229.2 590.1,229.2 590.3,229.2 590.5,229.2 590.6,229.2 590.8,229.2 591.0,229.2 591.2,229.2 591.3,229.2 591.5,229.3 591.7,229.3 591.9,229.3 592.0,229.3 592.2,229.3 592.4,229.3 592.6,229.4 592.8,229.4 592.9,229.4 593.1,229.4 593.3,229.4 593.5,229.4 593.6,229.4 593.8,229.4 594.0,229.4 594.2,229.8 594.3,230.3 594.5,230.8 594.7,231.3 594.9,231.8 595.1,232.3 595.2,232.8 595.4,233.3 595.6,233.8 595.8,234.3 595.9,234.8 596.1,235.3 596.3,235.7 596.5,236.2 596.6,236.6 596.8,237.1 597.0,237.6 597.2,238.0 597.3,238.5 597.5,238.9 597.7,239.0 597.9,239.0 598.1,239.0 598.2,239.0 598.4,239.0 598.6,239.0 598.8,239.0 598.9,239.0 599.1,239.1 599.3,239.4 599.5,239.7 599.6,240.0 599.8,240.3 600.0,240.7 600.2,241.0 600.4,241.3 600.5,241.6 600.7,242.0 600.9,242.3 601.1,242.6 601.2,242.6 601.4,242.6 601.6,242.6 601.8,242.6 601.9,242.6 602.1,242.6 602.3,242.5 602.5,242.5 602.7,242.6 602.8,242.9 603.0,243.1 603.2,243.3 603.4,243.6 603.5,243.8 603.7,244.0 603.9,244.3 604.1,244.5 604.2,244.7 604.4,245.0 604.6,245.2 604.8,245.4 605.0,245.7 605.1,245.9 605.3,246.2 605.5,246.4 605.7,246.7 605.8,246.9 606.0,247.2 606.2,247.4 606.4,247.7 606.5,247.9 606.7,248.2 606.9,248.4 607.1,248.7 607.3,248.9 607.4,249.1 607.6,249.2 607.8,249.4 608.0,249.6 608.1,249.7 608.3,249.9 608.5,250.1 608.7,250.4 608.8,250.6 609.0,250.8 609.2,251.0 609.4,251.2 609.5,251.4 609.7,251.2 609.9,250.8 610.1,250.5 610.3,250.1 610.4,249.8 610.6,249.4 610.8,249.1 611.0,248.7 611.1,248.4 611.3,248.1 611.5,247.7 611.7,247.4 611.8,247.1 612.0,246.8 612.2,246.5 612.4,246.2 612.6,245.8 612.7,245.7 612.9,245.5 613.1,245.4 613.3,245.2 613.4,245.1 613.6,245.0 613.8,244.8 614.0,244.7 614.1,244.5 614.3,244.4 614.5,244.3 614.7,244.3 614.9,244.4 615.0,244.4 615.2,244.5 615.4,244.5 615.6,244.6 615.7,244.7 615.9,244.7 616.1,244.8 616.3,244.8 616.4,244.9 616.6,244.9 616.8,244.9 617.0,244.9 617.2,244.8 617.3,244.8 617.5,244.8 617.7,244.7 617.9,244.7 618.0,244.6 618.2,244.1 618.4,243.3 618.6,242.4 618.7,241.6 618.9,240.7 619.1,239.9 619.3,239.5 619.4,239.2 619.6,238.8 619.8,238.4 620.0,238.1 620.2,237.7 620.3,237.3 620.5,237.9 620.7,238.8 620.9,239.7 621.0,240.6 621.2,241.6 621.4,242.5 621.6,243.4 621.7,245.0 621.9,246.8 622.1,248.5 622.3,250.2 622.5,251.9 622.6,253.4 622.8,254.3 623.0,255.2 623.2,255.9 623.3,256.3 623.5,256.6 623.7,257.0 623.9,257.4 624.0,257.8 624.2,258.2 624.4,258.5 624.6,258.9 624.8,259.3 624.9,259.7 625.1,260.1 625.3,260.0 625.5,260.0 625.6,259.9 625.8,259.9 626.0,259.9 626.2,259.8 626.3,259.8 626.5,259.7 626.7,259.7 626.9,259.7 627.1,259.6 627.2,259.6 627.4,259.5 627.6,259.5 627.8,259.4 627.9,259.3 628.1,259.2 628.3,259.1 628.5,258.9 628.6,258.8 628.8,258.7 629.0,258.6 629.2,258.5 629.3,258.4 629.5,258.2 629.7,258.1 629.9,258.0 630.1,257.9 630.2,257.8 630.4,257.7 630.6,257.6 630.8,257.5 630.9,257.6 631.1,257.6 631.3,257.6 631.5,257.7 631.6,257.7 631.8,257.7 632.0,257.7 632.2,257.8 632.4,257.8 632.5,257.8 632.7,257.9 632.9,257.9 633.1,257.9 633.2,257.9 633.4,258.0 633.6,258.0 633.8,258.1 633.9,258.1 634.1,258.2 634.3,258.3 634.5,258.3 634.7,258.4 634.8,258.5 635.0,258.6 635.2,258.6 635.4,258.7 635.5,258.8 635.7,258.8 635.9,258.9 636.1,259.0 636.2,259.1 636.4,259.1 636.6,259.2 636.8,259.3 637.0,259.3 637.1,259.5 637.3,260.1 637.5,260.7 637.7,261.2 637.8,261.8 638.0,262.4 638.2,262.9 638.4,263.5 638.5,264.1 638.7,264.6 638.9,265.2 639.1,265.8 639.3,266.3 639.4,266.7 639.6,267.2 639.8,267.7 640.0,268.1 640.1,268.6 640.3,269.0 640.5,269.5 640.7,269.8 640.8,269.8 641.0,269.8 641.2,269.8 641.4,269.8 641.5,269.8 641.7,269.8 641.9,269.8 642.1,269.8 642.3,270.0 642.4,270.4 642.6,270.7 642.8,271.0 643.0,271.3 643.1,271.7 643.3,272.0 643.5,272.3 643.7,272.6 643.8,273.0 644.0,273.3 644.2,273.4 644.4,273.4 644.6,273.4 644.7,273.4 644.9,273.4 645.1,273.4 645.3,273.4 645.4,273.4 645.6,273.4 645.8,273.6 646.0,273.9 646.1,274.1 646.3,274.3 646.5,274.6 646.7,274.8 646.9,275.0 647.0,275.3 647.2,275.5 647.4,275.7 647.6,276.0 647.7,276.2 647.9,276.4 648.1,276.7 648.3,277.0 648.4,277.2 648.6,277.5 648.8,277.7 649.0,278.0 649.2,278.2 649.3,278.5 649.5,278.7 649.7,279.0 649.9,279.2 650.0,279.5 650.2,279.7 650.4,279.9 650.6,280.1 650.7,280.2 650.9,280.4 651.1,280.6 651.3,280.8 651.4,280.9 651.6,281.1 651.8,281.3 652.0,281.5 652.2,281.7 652.3,281.9 652.5,282.1 652.7,282.1 652.9,281.7 653.0,281.4 653.2,281.0 653.4,280.6 653.6,280.3 653.7,279.9 653.9,279.5 654.1,279.2 654.3,278.8 654.5,278.5 654.6,278.2 654.8,277.8 655.0,277.5 655.2,277.2 655.3,276.8 655.5,276.5 655.7,276.2 655.9,276.1 656.0,275.9 656.2,275.8 656.4,275.6 656.6,275.4 656.8,275.3 656.9,275.1 657.1,275.0 657.3,274.8 657.5,274.6 657.6,274.6 657.8,274.6 658.0,274.7 658.2,274.7 658.3,274.7 658.5,274.8 658.7,274.8 658.9,274.9 659.1,274.9 659.2,274.9 659.4,275.0 659.6,275.0 659.8,275.0 659.9,275.0 660.1,274.9 660.3,274.9 660.5,274.8 660.6,274.8 660.8,274.7 661.0,274.6 661.2,274.5 661.3,273.6 661.5,272.8 661.7,271.9 661.9,271.0 662.1,270.2 662.2,269.6 662.4,269.3 662.6,269.0 662.8,268.8 662.9,268.5 663.1,268.2 663.3,268.0 663.5,268.0 663.6,269.0 663.8,270.0 664.0,271.1 664.2,272.1 664.4,273.1 664.5,274.2 664.7,275.5 664.9,277.3 665.1,279.2 665.2,281.0 665.4,282.8 665.6,284.7 665.8,285.8 665.9,286.8 666.1,287.8 666.3,288.3 666.5,288.6 666.7,289.0 666.8,289.3 667.0,289.7 667.2,290.1 667.4,290.4 667.5,290.8 667.7,291.2 667.9,291.5 668.1,291.9 668.2,292.0 668.4,291.9 668.6,291.8 668.8,291.7 669.0,291.6 669.1,291.5 669.3,291.3 669.5,291.2 669.7,291.1 669.8,291.0 670.0,290.9 670.2,290.8 670.4,290.6 670.5,290.5 670.7,290.4 670.9,290.2 671.1,290.0 671.3,289.8 671.4,289.6 671.6,289.3 671.8,289.0 672.0,288.7 672.1,288.4 672.3,288.2 672.5,287.9 672.7,287.6 672.8,287.3 673.0,287.1 673.2,286.8 673.4,286.5 673.5,286.2 673.7,286.0 673.9,285.8 674.1,285.7 674.3,285.6 674.4,285.4 674.6,285.3 674.8,285.2 675.0,285.0 675.1,284.9 675.3,284.8 675.5,284.6 675.7,284.5 675.8,284.4 676.0,284.2 676.2,284.1 676.4,283.9 676.6,283.8 676.7,283.7 676.9,283.6 677.1,283.5 677.3,283.4 677.4,283.3 677.6,283.2 677.8,283.1 678.0,283.0 678.1,282.9 678.3,282.9 678.5,282.8 678.7,282.7 678.9,282.6 679.0,282.5 679.2,282.3 679.4,282.1 679.6,281.9 679.7,281.7 679.9,281.5 680.1,281.2 680.3,281.4 680.4,281.7 680.6,282.0 680.8,282.2 681.0,282.5 681.2,282.8 681.3,283.1 681.5,283.4 681.7,283.7 681.9,283.9 682.0,284.2 682.2,284.5 682.4,284.7 682.6,285.0 682.7,285.2 682.9,285.5 683.1,285.7 683.3,286.0 683.4,286.2 683.6,286.4 683.8,286.3 684.0,286.0 684.2,285.8 684.3,285.6 684.5,285.3 684.7,285.1 684.9,284.8 685.0,284.6 685.2,284.4 685.4,284.5 685.6,284.6 685.7,284.7 685.9,284.7 686.1,284.8 686.3,284.9 686.5,285.0 686.6,285.1 686.8,285.2 687.0,285.3 687.2,285.3 687.3,285.1 687.5,284.8 687.7,284.6 687.9,284.4 688.0,284.1 688.2,283.9 688.4,283.6 688.6,283.4 688.8,283.2 688.9,283.2 689.1,283.2 689.3,283.2 689.5,283.2 689.6,283.2 689.8,283.2 690.0,283.2 690.2,283.2 690.3,283.2 690.5,283.2 690.7,283.2 690.9,283.2 691.1,283.2 691.2,283.2 691.4,283.2 691.6,283.2 691.8,283.3 691.9,283.3 692.1,283.3 692.3,283.3 692.5,283.3 692.6,283.3 692.8,283.3 693.0,283.3 693.2,283.4 693.4,283.3 693.5,283.2 693.7,283.2 693.9,283.1 694.1,283.0 694.2,283.0 694.4,282.9 694.6,282.8 694.8,282.7 694.9,282.6 695.1,282.5 695.3,282.4 695.5,282.3 695.6,282.2 695.8,281.7 696.0,281.0 696.2,280.4 696.4,279.7 696.5,279.0 696.7,278.4 696.9,277.7 697.1,277.1 697.2,276.4 697.4,275.8 697.6,275.2 697.8,274.6 697.9,273.9 698.1,273.3 698.3,272.7 698.5,272.1 698.7,271.4 698.8,271.0 699.0,270.5 699.2,270.1 699.4,269.6 699.5,269.3 699.7,268.9 699.9,268.6 700.1,268.2 700.2,267.8 700.4,267.5 700.6,267.1 700.8,267.0 701.0,266.8 701.1,266.6 701.3,266.5 701.5,266.3 701.7,266.1 701.8,266.0 702.0,265.8 702.2,265.7 702.4,265.5 702.5,265.3 702.7,265.2 702.9,264.9 703.1,264.7 703.3,264.4 703.4,264.1 703.6,263.9 703.8,263.6 704.0,263.4 704.1,263.1 704.3,262.4 704.5,261.3 704.7,260.2 704.8,259.2 705.0,258.1 705.2,257.0 705.4,256.5 705.5,255.9 705.7,255.3 705.9,254.8 706.1,254.2 706.3,253.6 706.4,253.1 706.6,253.4 706.8,254.1 707.0,254.9 707.1,255.6 707.3,256.3 707.5,257.0 707.7,257.8 707.8,259.2 708.0,260.7 708.2,262.2 708.4,263.8 708.6,265.3 708.7,266.6 708.9,267.2 709.1,267.9 709.3,268.4 709.4,268.6 709.6,268.8 709.8,268.9 710.0,269.1 710.1,269.3 710.3,269.5 710.5,269.7 710.7,269.8 710.9,270.0 711.0,270.2 711.2,270.4 711.4,270.1 711.6,269.8 711.7,269.5 711.9,269.2 712.1,268.9 712.3,268.6 712.4,268.3 712.6,268.0 712.8,267.7 713.0,267.4 713.2,267.1 713.3,266.8 713.5,266.5 713.7,266.2 713.9,265.9 714.0,265.5 714.2,265.1 714.4,264.8 714.6,264.4 714.7,264.0 714.9,263.6 715.1,263.3 715.3,262.9 715.4,262.5 715.6,262.1 715.8,261.8 716.0,261.4 716.2,261.0 716.3,260.6 716.5,260.3 716.7,259.9 716.9,259.6 717.0,259.4 717.2,259.2 717.4,258.9 717.6,258.7 717.7,258.5 717.9,258.2 718.1,258.0 718.3,257.8 718.5,257.5 718.6,257.3 718.8,257.1 719.0,256.9 719.2,256.6 719.3,256.4 719.5,256.2 719.7,255.9 719.9,255.7 720.0,255.5 720.2,255.4 720.4,255.2 720.6,255.0 720.8,254.8 720.9,254.6 721.1,254.4 721.3,254.2 721.5,254.0 721.6,253.8 721.8,253.7 722.0,253.5 722.2,253.3 722.3,253.1 722.5,253.0 722.7,252.8 722.9,252.7 723.1,252.5 723.2,252.4 723.4,252.8 723.6,253.1 723.8,253.4 723.9,253.8 724.1,254.1 724.3,254.4 724.5,254.8 724.6,255.1 724.8,255.4 725.0,255.8 725.2,256.1 725.4,256.4 725.5,256.7 725.7,257.0 725.9,257.3 726.1,257.6 726.2,257.9 726.4,258.2 726.6,258.5 726.8,258.7 726.9,258.5 727.1,258.3 727.3,258.2 727.5,258.0 727.6,257.8 727.8,257.7 728.0,257.5 728.2,257.3 728.4,257.4 728.5,257.6 728.7,257.7 728.9,257.9 729.1,258.0 729.2,258.2 729.4,258.4 729.6,258.5 729.8,258.7 729.9,258.9 730.1,259.0 730.3,259.0 730.5,258.9 730.7,258.7 730.8,258.5 731.0,258.3 731.2,258.2 731.4,258.0 731.5,257.8 731.7,257.7 731.9,257.7 732.1,257.8 732.2,257.9 732.4,258.0 732.6,258.0 732.8,258.1 733.0,258.2 733.1,258.2 733.3,258.3 733.5,258.4 733.7,258.4 733.8,258.5 734.0,258.6 734.2,258.7 734.4,258.8 734.5,258.9 734.7,259.0 734.9,259.1 735.1,259.2 735.3,259.3 735.4,259.3 735.6,259.4 735.8,259.5 736.0,259.6 736.1,259.7 736.3,259.8 736.5,259.8 736.7,259.8 736.8,259.8 737.0,259.8 737.2,259.8 737.4,259.9 737.5,259.9 737.7,260.0 737.9,260.1 738.1,260.1 738.3,260.2 738.4,260.2 738.6,260.3 738.8,260.2 739.0,259.7 739.1,259.2 739.3,258.7 739.5,258.2 739.7,257.7 739.8,257.2 740.0,256.7 740.2,256.2 740.4,255.7 740.6,255.2 740.7,254.8 740.9,254.3 741.1,253.8 741.3,253.4 741.4,252.9 741.6,252.4 741.8,252.0 742.0,251.7 742.1,251.4 742.3,251.1 742.5,250.8 742.7,250.5 742.9,250.2 743.0,250.0 743.2,249.7 743.4,249.4 743.6,249.1 743.7,248.9 743.9,248.8 744.1,248.7 744.3,248.6 744.4,248.5 744.6,248.4 744.8,248.3 745.0,248.2 745.2,248.1 745.3,248.0 745.5,247.9 745.7,247.8 745.9,247.7 746.0,247.5 746.2,247.3 746.4,247.1 746.6,247.0 746.7,246.8 746.9,246.6 747.1,246.4 747.3,246.1 747.4,245.1 747.6,244.1 747.8,243.1 748.0,242.1 748.2,241.1 748.3,240.4 748.5,239.9 748.7,239.4 748.9,238.9 749.0,238.4 749.2,237.9 749.4,237.4 749.6,237.1 749.7,237.9 749.9,238.7 750.1,239.5 750.3,240.3 750.5,241.0 750.6,241.8 750.8,242.9 751.0,244.5 751.2,246.1 751.3,247.6 751.5,249.2 751.7,250.8 751.9,251.7 752.0,252.5 752.2,253.2 752.4,253.5 752.6,253.7 752.8,254.0 752.9,254.2 753.1,254.4 753.3,254.7 753.5,254.9 753.6,255.2 753.8,255.4 754.0,255.6 754.2,255.9 754.3,255.9 754.5,255.7 754.7,255.4 754.9,255.2 755.1,255.0 755.2,254.7 755.4,254.5 755.6,254.2 755.8,254.0 755.9,253.8 756.1,253.5 756.3,253.3 756.5,253.0 756.6,252.8 756.8,252.5 757.0,252.2 757.2,251.9 757.4,251.6 757.5,251.3 757.7,250.9 757.9,250.6 758.1,250.3 758.2,250.0 758.4,249.7 758.6,249.4 758.8,249.1 758.9,248.7 759.1,248.4 759.3,248.1 759.5,247.8 759.6,247.5 759.8,247.2 760.0,247.0 760.2,246.8 760.4,246.7 760.5,246.5 760.7,246.3 760.9,246.2 761.1,246.0 761.2,245.8 761.4,245.6 761.6,245.5 761.8,245.3 761.9,245.1 762.1,244.9 762.3,244.8 762.5,244.6 762.7,244.4 762.8,244.3 763.0,244.1 763.2,244.0 763.4,243.9 763.5,243.7 763.7,243.6 763.9,243.5 764.1,243.4 764.2,243.2 764.4,243.1 764.6,243.0 764.8,242.8 765.0,242.7 765.1,242.6 765.3,242.4 765.5,242.2 765.7,242.0 765.8,241.8 766.0,241.6 766.2,241.4 766.4,241.6 766.5,241.9 766.7,242.2 766.9,242.4 767.1,242.7 767.3,243.0 767.4,243.3 767.6,243.6 767.8,243.9 768.0,244.2 768.1,244.5 768.3,244.8 768.5,245.1 768.7,245.3 768.8,245.6 769.0,245.8 769.2,246.1 769.4,246.4 769.5,246.6 769.7,246.9 769.9,246.8 770.1,246.6 770.3,246.4 770.4,246.2 770.6,246.0 770.8,245.7 771.0,245.5 771.1,245.3 771.3,245.2 771.5,245.3 771.7,245.5 771.8,245.6 772.0,245.7 772.2,245.8 772.4,246.0 772.6,246.1 772.7,246.2 772.9,246.3 773.1,246.5 773.3,246.6 773.4,246.4 773.6,246.2 773.8,246.0 774.0,245.8 774.1,245.5 774.3,245.3 774.5,245.1 774.7,244.9 774.9,244.8 775.0,244.9 775.2,244.9 775.4,244.9 775.6,245.0 775.7,245.0 775.9,245.0 776.1,245.1 776.3,245.1 776.4,245.1 776.6,245.2 776.8,245.2 777.0,245.3 777.2,245.3 777.3,245.4 777.5,245.4 777.7,245.5 777.9,245.5 778.0,245.6 778.2,245.6 778.4,245.7 778.6,245.7 778.7,245.8 778.9,245.8 779.1,245.9 779.3,245.9 779.5,245.9 779.6,245.8 779.8,245.7 780.0,245.7 780.2,245.6 780.3,245.6 780.5,245.5 780.7,245.4 780.9,245.4 781.0,245.3 781.2,245.3 781.4,245.2 781.6,245.1 781.7,245.1 781.9,244.6 782.1,243.9 782.3,243.3 782.5,242.7 782.6,242.1 782.8,241.5 783.0,240.9 783.2,240.2 783.3,239.6 783.5,239.0 783.7,238.5 783.9,237.9 784.0,237.3 784.2,236.7 784.4,236.1 784.6,235.5 784.8,235.0 784.9,234.5 785.1,234.1 785.3,233.7 785.5,233.3 785.6,232.8 785.8,232.4 786.0,232.0 786.2,231.6 786.3,231.1 786.5,230.7 786.7,230.3 786.9,230.1 787.1,229.8 787.2,229.6 787.4,229.4 787.6,229.1 787.8,228.9 787.9,228.7 788.1,228.5 788.3,228.2 788.5,228.0 788.6,227.8 788.8,227.6 789.0,227.2 789.2,226.9 789.4,226.6 789.5,226.3 789.7,226.0 789.9,225.6 790.1,225.3 790.2,225.0 790.4,224.2 790.6,223.0 790.8,221.9 790.9,220.8 791.1,219.7 791.3,218.5 791.5,217.9 791.6,217.3 791.8,216.7 792.0,216.1 792.2,215.5 792.4,214.9 792.5,214.3 792.7,214.6 792.9,215.3 793.1,215.9 793.2,216.6 793.4,217.3 793.6,218.0 793.8,218.7 793.9,220.1 794.1,221.6 794.3,223.1 794.5,224.6 794.7,226.0 794.8,227.3 795.0,227.9 795.2,228.6 795.4,229.0 795.5,229.2 795.7,229.3 795.9,229.5 796.1,229.6 796.2,229.8 796.4,229.9 796.6,230.0 796.8,230.2 797.0,230.3 797.1,230.5 797.3,230.6 797.5,230.3 797.7,230.0 797.8,229.7 798.0,229.3 798.2,229.0 798.4,228.7 798.5,228.3 798.7,228.0 798.9,227.7 799.1,227.3 799.3,227.0 799.4,226.7 799.6,226.3 799.8,226.0 800.0,225.6 800.1,225.2 800.3,224.8 800.5,224.4 800.7,224.0 800.8,223.5 801.0,223.1 801.2,222.7 801.4,222.3 801.5,221.9 801.7,221.5 801.9,221.1 802.1,220.7 802.3,220.3 802.4,219.9 802.6,219.5 802.8,219.0 803.0,218.7 803.1,218.5 803.3,218.2 803.5,217.9 803.7,217.7 803.8,217.4 804.0,217.1 804.2,216.9 804.4,216.6 804.6,216.3 804.7,216.1 804.9,215.8 805.1,215.5 805.3,215.3 805.4,215.0 805.6,214.7 805.8,214.5 806.0,214.2 806.1,214.0 806.3,213.8 806.5,213.6 806.7,213.4 806.9,213.1 807.0,212.9 807.2,212.7 807.4,212.5 807.6,212.2 807.7,212.0 807.9,211.8 808.1,211.6 808.3,211.3 808.4,211.1 808.6,210.9 808.8,210.6 809.0,210.4 809.2,210.2 809.3,210.0 809.5,210.3 809.7,210.6 809.9,210.8 810.0,211.1 810.2,211.3 810.4,211.6 810.6,211.9 810.7,212.1 810.9,212.4 811.1,212.6 811.3,212.9 811.5,213.1 811.6,213.3 811.8,213.6 812.0,213.8 812.2,214.0 812.3,214.2 812.5,214.4 812.7,214.7 812.9,214.8 813.0,214.5 813.2,214.3 813.4,214.0 813.6,213.8 813.7,213.5 813.9,213.3 814.1,213.1 814.3,212.8 814.5,212.8 814.6,212.9 814.8,213.0 815.0,213.1 815.2,213.2 815.3,213.3 815.5,213.3 815.7,213.4 815.9,213.5 816.0,213.6 816.2,213.7 816.4,213.6 816.6,213.4 816.8,213.1 816.9,212.9 817.1,212.6 817.3,212.4 817.5,212.1 817.6,211.9 817.8,211.7 818.0,211.7 818.2,211.6 818.3,211.6 818.5,211.6 818.7,211.6 818.9,211.6 819.1,211.6 819.2,211.6 819.4,211.6 819.6,211.6 819.8,211.6 819.9,211.6 820.1,211.6 820.3,211.6 820.5,211.7 820.6,211.7 820.8,211.7 821.0,211.7 821.2,211.7 821.4,211.7 821.5,211.8 821.7,211.8 821.9,211.8 822.1,211.8 822.2,211.8 822.4,211.8 822.6,211.8 822.8,211.7 822.9,211.7 823.1,211.6 823.3,211.6 823.5,211.6 823.6,211.5 823.8,211.5 824.0,211.4 824.2,211.4 824.4,211.3 824.5,211.3 824.7,211.3 824.9,211.0 825.1,210.4 825.2,209.8 825.4,209.2 825.6,208.6 825.8,208.0 825.9,207.4 826.1,206.8 826.3,206.2 826.5,205.7 826.7,205.1 826.8,204.5 827.0,204.0 827.2,203.4 827.4,202.8 827.5,202.3 827.7,201.7 827.9,201.2 828.1,200.8 828.2,200.4 828.4,200.0 828.6,199.6 828.8,199.2 829.0,198.8 829.1,198.4 829.3,198.0 829.5,197.6 829.7,197.2 829.8,197.0 830.0,196.8 830.2,196.6 830.4,196.4 830.5,196.2 830.7,196.0 830.9,195.8 831.1,195.6 831.3,195.4 831.4,195.2 831.6,195.0 831.8,194.8 832.0,194.6 832.1,194.3 832.3,194.0 832.5,193.7 832.7,193.4 832.8,193.1 833.0,192.8 833.2,192.5 833.4,192.2 833.5,191.1 833.7,190.0 833.9,188.9 834.1,187.8 834.3,186.7 834.4,185.8 834.6,185.2 834.8,184.6 835.0,184.0 835.1,183.4 835.3,182.8 835.5,182.2 835.7,181.8 835.8,182.5 836.0,183.2 836.2,183.9 836.4,184.6 836.6,185.2 836.7,185.9 836.9,186.9 837.1,188.4 837.3,189.9 837.4,191.4 837.6,192.8 837.8,194.3 838.0,195.1 838.1,195.8 838.3,196.4 838.5,196.6 838.7,196.8 838.9,196.9 839.0,197.0 839.2,197.2 839.4,197.3 839.6,197.5 839.7,197.6 839.9,197.7 840.1,197.9 840.3,198.0 840.4,198.0 840.6,197.6 840.8,197.3 841.0,196.9 841.2,196.6 841.3,196.3 841.5,195.9 841.7,195.6 841.9,195.2 842.0,194.9 842.2,194.6 842.4,194.2 842.6,193.9 842.7,193.5 842.9,193.2 843.1,192.8 843.3,192.4 843.5,191.9 843.6,191.5 843.8,191.1 844.0,190.7 844.2,190.3 844.3,189.9 844.5,189.4 844.7,189.0 844.9,188.6 845.0,188.2 845.2,187.8 845.4,187.4 845.6,187.0 845.7,186.5 845.9,186.2 846.1,185.9 846.3,185.6 846.5,185.3 846.6,185.1 846.8,184.8 847.0,184.5 847.2,184.3 847.3,184.0 847.5,183.7 847.7,183.5 847.9,183.2 848.0,182.9 848.2,182.6 848.4,182.4 848.6,182.1 848.8,181.8 848.9,181.6 849.1,181.3 849.3,181.1 849.5,180.9 849.6,180.6 849.8,180.4 850.0,180.2 850.2,180.0 850.3,179.7 850.5,179.5 850.7,179.3 850.9,179.0 851.1,178.8 851.2,178.6 851.4,178.3 851.6,178.1 851.8,177.9 851.9,177.6 852.1,177.4 852.3,177.1 852.5,177.2 852.6,177.5 852.8,177.7 853.0,178.0 853.2,178.2 853.4,178.5 853.5,178.7 853.7,178.9 853.9,179.2 854.1,179.4 854.2,179.7 854.4,179.9 854.6,180.1 854.8,180.3 854.9,180.6 855.1,180.8 855.3,181.0 855.5,181.2 855.6,181.4 855.8,181.6 856.0,181.5 856.2,181.2 856.4,180.9 856.5,180.7 856.7,180.4 856.9,180.2 857.1,179.9 857.2,179.7 857.4,179.5 857.6,179.6 857.8,179.6 857.9,179.7 858.1,179.8 858.3,179.9 858.5,179.9 858.7,180.0 858.8,180.1 859.0,180.2 859.2,180.3 859.4,180.3 859.5,180.1 859.7,179.8 859.9,179.6 860.1,179.3 860.2,179.0 860.4,178.8 860.6,178.5 860.8,178.3 861.0,178.1 861.1,178.1 861.3,178.1 861.5,178.1 861.7,178.1 861.8,178.1 862.0,178.0 862.2,178.0 862.4,178.0 862.5,178.0 862.7,178.0 862.9,178.0 863.1,178.0 863.3,178.0 863.4,178.0 863.6,178.0 863.8,178.0 864.0,178.0 864.1,178.0 864.3,178.0 864.5,178.0 864.7,178.0 864.8,178.0 865.0,178.0 865.2,178.0 865.4,178.0 865.6,178.0 865.7,177.9 865.9,177.9 866.1,177.8 866.3,177.8 866.4,177.7 866.6,177.7 866.8,177.6 867.0,177.6 867.1,177.6 867.3,177.5 867.5,177.5 867.7,177.4 867.8,177.4 868.0,176.9 868.2,176.3 868.4,175.6 868.6,175.0 868.7,174.4 868.9,173.8 869.1,173.2 869.3,172.6 869.4,172.0 869.6,171.4 869.8,170.9 870.0,170.3 870.1,169.7 870.3,169.2 870.5,168.6 870.7,168.0 870.9,167.4 871.0,167.0 871.2,166.6 871.4,166.2 871.6,165.8 871.7,165.4 871.9,165.0 872.1,164.6 872.3,164.2 872.4,163.8 872.6,163.4 872.8,163.0 873.0,162.8 873.2,162.6 873.3,162.4 873.5,162.2 873.7,162.0 873.9,161.8 874.0,161.6 874.2,161.4 874.4,161.2 874.6,161.0 874.7,160.8 874.9,160.6 875.1,160.3 875.3,160.0 875.5,159.8 875.6,159.5 875.8,159.2 876.0,158.9 876.2,158.6 876.3,158.3 876.5,157.5 876.7,156.4 876.9,155.3 877.0,154.2 877.2,153.1 877.4,152.0 877.6,151.4 877.7,150.8 877.9,150.2 878.1,149.6 878.3,149.0 878.5,148.4 878.6,147.8 878.8,148.1 879.0,148.8 879.2,149.5 879.3,150.2 879.5,150.9 879.7,151.6 879.9,152.3 880.0,153.6 880.2,155.1 880.4,156.6 880.6,158.1 880.8,159.6 880.9,160.9 881.1,161.5 881.3,162.1 881.5,162.6 881.6,162.8 881.8,162.9 882.0,163.1 882.2,163.2 882.3,163.4 882.5,163.5 882.7,163.7 882.9,163.8 883.1,164.0 883.2,164.1 883.4,164.3 883.6,164.0 883.8,163.7 883.9,163.3 884.1,163.0 884.3,162.7 884.5,162.3 884.6,162.0 884.8,161.7 885.0,161.3 885.2,161.0 885.4,160.7 885.5,160.4 885.7,160.0 885.9,159.7 886.1,159.3 886.2,158.9 886.4,158.5 886.6,158.1 886.8,157.7 886.9,157.3 887.1,156.9 887.3,156.5 887.5,156.1 887.6,155.7 887.8,155.3 888.0,154.9 888.2,154.5 888.4,154.0 888.5,153.6 888.7,153.2 888.9,152.8 889.1,152.5 889.2,152.3 889.4,152.0 889.6,151.8 889.8,151.5 889.9,151.2 890.1,151.0 890.3,150.7 890.5,150.4 890.7,150.2 890.8,149.9 891.0,149.7 891.2,149.4 891.4,149.1 891.5,148.9 891.7,148.6 891.9,148.4 892.1,148.1 892.2,147.9 892.4,147.7 892.6,147.5 892.8,147.3 893.0,147.0 893.1,146.8 893.3,146.6 893.5,146.4 893.7,146.2 893.8,145.9 894.0,145.7 894.2,145.5 894.4,145.3 894.5,145.1 894.7,144.9 894.9,144.6 895.1,144.4 895.3,144.2 895.4,144.0 895.6,144.3 895.8,144.5 896.0,144.8 896.1,145.1 896.3,145.3 896.5,145.6 896.7,145.8 896.8,146.1 897.0,146.3 897.2,146.6 897.4,146.8 897.6,147.0 897.7,147.2 897.9,147.5 898.1,147.7 898.3,147.9 898.4,148.1 898.6,148.3 898.8,148.5 899.0,148.6 899.1,148.4 899.3,148.1 899.5,147.9 899.7,147.6 899.8,147.4 900.0,147.1 900.2,146.9 900.4,146.6 900.6,146.6 900.7,146.7 900.9,146.7 901.1,146.8 901.3,146.9 901.4,147.0 901.6,147.1 901.8,147.1 902.0,147.2 902.1,147.3 902.3,147.4 902.5,147.3 902.7,147.0 902.9,146.8 903.0,146.5 903.2,146.3 903.4,146.0 903.6,145.8 903.7,145.5 903.9,145.3 904.1,145.3 904.3,145.3 904.4,145.2 904.6,145.2 904.8,145.2 905.0,145.2 905.2,145.2 905.3,145.2 905.5,145.2 905.7,145.2 905.9,145.1 906.0,145.1 906.2,145.1 906.4,145.2 906.6,145.2 906.7,145.2 906.9,145.2 907.1,145.2 907.3,145.2 907.5,145.2 907.6,145.2 907.8,145.2 908.0,145.2 908.2,145.2 908.3,145.2 908.5,145.2 908.7,145.1 908.9,145.1 909.0,145.0 909.2,144.9 909.4,144.9 909.6,144.9 909.7,144.9 909.9,144.9 910.1,144.9 910.3,144.8 910.5,144.8 910.6,144.8 910.8,144.8 911.0,144.6 911.2,144.0 911.3,143.4 911.5,142.9 911.7,142.3 911.9,141.7 912.0,141.1 912.2,140.6 912.4,140.0 912.6,139.4 912.8,138.9 912.9,138.3 913.1,137.8 913.3,137.3 913.5,136.7 913.6,136.2 913.8,135.6 914.0,135.1 914.2,134.8 914.3,134.4 914.5,134.0 914.7,133.7 914.9,133.3 915.1,132.9 915.2,132.6 915.4,132.2 915.6,131.8 915.8,131.5 915.9,131.2 916.1,131.0 916.3,130.9 916.5,130.7 916.6,130.5 916.8,130.4 917.0,130.2 917.2,130.0 917.4,129.8 917.5,129.7 917.7,129.5 917.9,129.3 918.1,129.1 918.2,128.9 918.4,128.6 918.6,128.3 918.8,128.1 918.9,127.8 919.1,127.5 919.3,127.3 919.5,126.9 919.6,125.9 919.8,124.8 920.0,123.8 920.2,122.8 920.4,121.8 920.5,121.1 920.7,120.6 920.9,120.1 921.1,119.7 921.2,119.2 921.4,118.7" fill="none" stroke="#0072B2" stroke-width="2.08" stroke-linejoin="round" stroke-linecap="square"/>
<path d="M920.8,117.0 921.8,64.5 923.0,70.0 924.5,77.0 926.0,79.0 928.5,76.0 929.7,77.0 929.7,129.0 928.5,130.0 926.0,132.0 924.5,131.0 923.0,128.5 921.8,127.0 920.8,124.0Z" fill="#0072B2" stroke="#0072B2" stroke-width="0.5" stroke-linejoin="round"/>
<path d="M923,76h0M923.2,80h0M923,84h0M925.2,102h0M925.4,106h0M925.2,108.5h0" fill="none" stroke="#f00" stroke-width="5.8" stroke-linecap="round"/>
</g>
<path d="M106.5,542.5v4.86M192.5,542.5v4.86M278.5,542.5v4.86M365.5,542.5v4.86M451.5,542.5v4.86M537.5,542.5v4.86M623.5,542.5v4.86M709.5,542.5v4.86M795.5,542.5v4.86M881.5,542.5v4.86M967.5,542.5v4.86M71.5,505.5h-4.86M71.5,433.5h-4.86M71.5,361.5h-4.86M71.5,289.5h-4.86M71.5,217.5h-4.86M71.5,145.5h-4.86M71.5,73.5h-4.86" fill="none" stroke="#000" stroke-width="1.11"/>
<rect x="71.5" y="15.5" width="899.0" height="527.0" fill="none" stroke="#000" stroke-width="1.11"/>
<text x="105.7" y="561.7" text-anchor="middle">2007</text><text x="191.7" y="561.7" text-anchor="middle">2009</text><text x="277.7" y="561.7" text-anchor="middle">2011</text><text x="364.7" y="561.7" text-anchor="middle">2013</text><text x="450.7" y="561.7" text-anchor="middle">2015</text><text x="536.7" y="561.7" text-anchor="middle">2017</text><text x="622.7" y="561.7" text-anchor="middle">2019</text><text x="708.7" y="561.7" text-anchor="middle">2021</text><text x="794.7" y="561.7" text-anchor="middle">2023</text><text x="880.7" y="561.7" text-anchor="middle">2025</text><text x="966.7" y="561.7" text-anchor="middle">2027</text><text x="60.4" y="510.0" text-anchor="end" letter-spacing="-0.8">0</text><text x="59.4" y="438.0" text-anchor="end" letter-spacing="-0.8">100</text><text x="59.4" y="366.0" text-anchor="end" letter-spacing="-0.8">200</text><text x="59.4" y="294.0" text-anchor="end" letter-spacing="-0.8">300</text><text x="59.4" y="222.0" text-anchor="end" letter-spacing="-0.8">400</text><text x="59.4" y="150.0" text-anchor="end" letter-spacing="-0.8">500</text><text x="59.4" y="78.0" text-anchor="end" letter-spacing="-0.8">600</text><text x="521" y="581.5" text-anchor="middle">ds</text><text transform="translate(23.6,279) rotate(-90)" text-anchor="middle">y</text>
</svg>
</body></html>
